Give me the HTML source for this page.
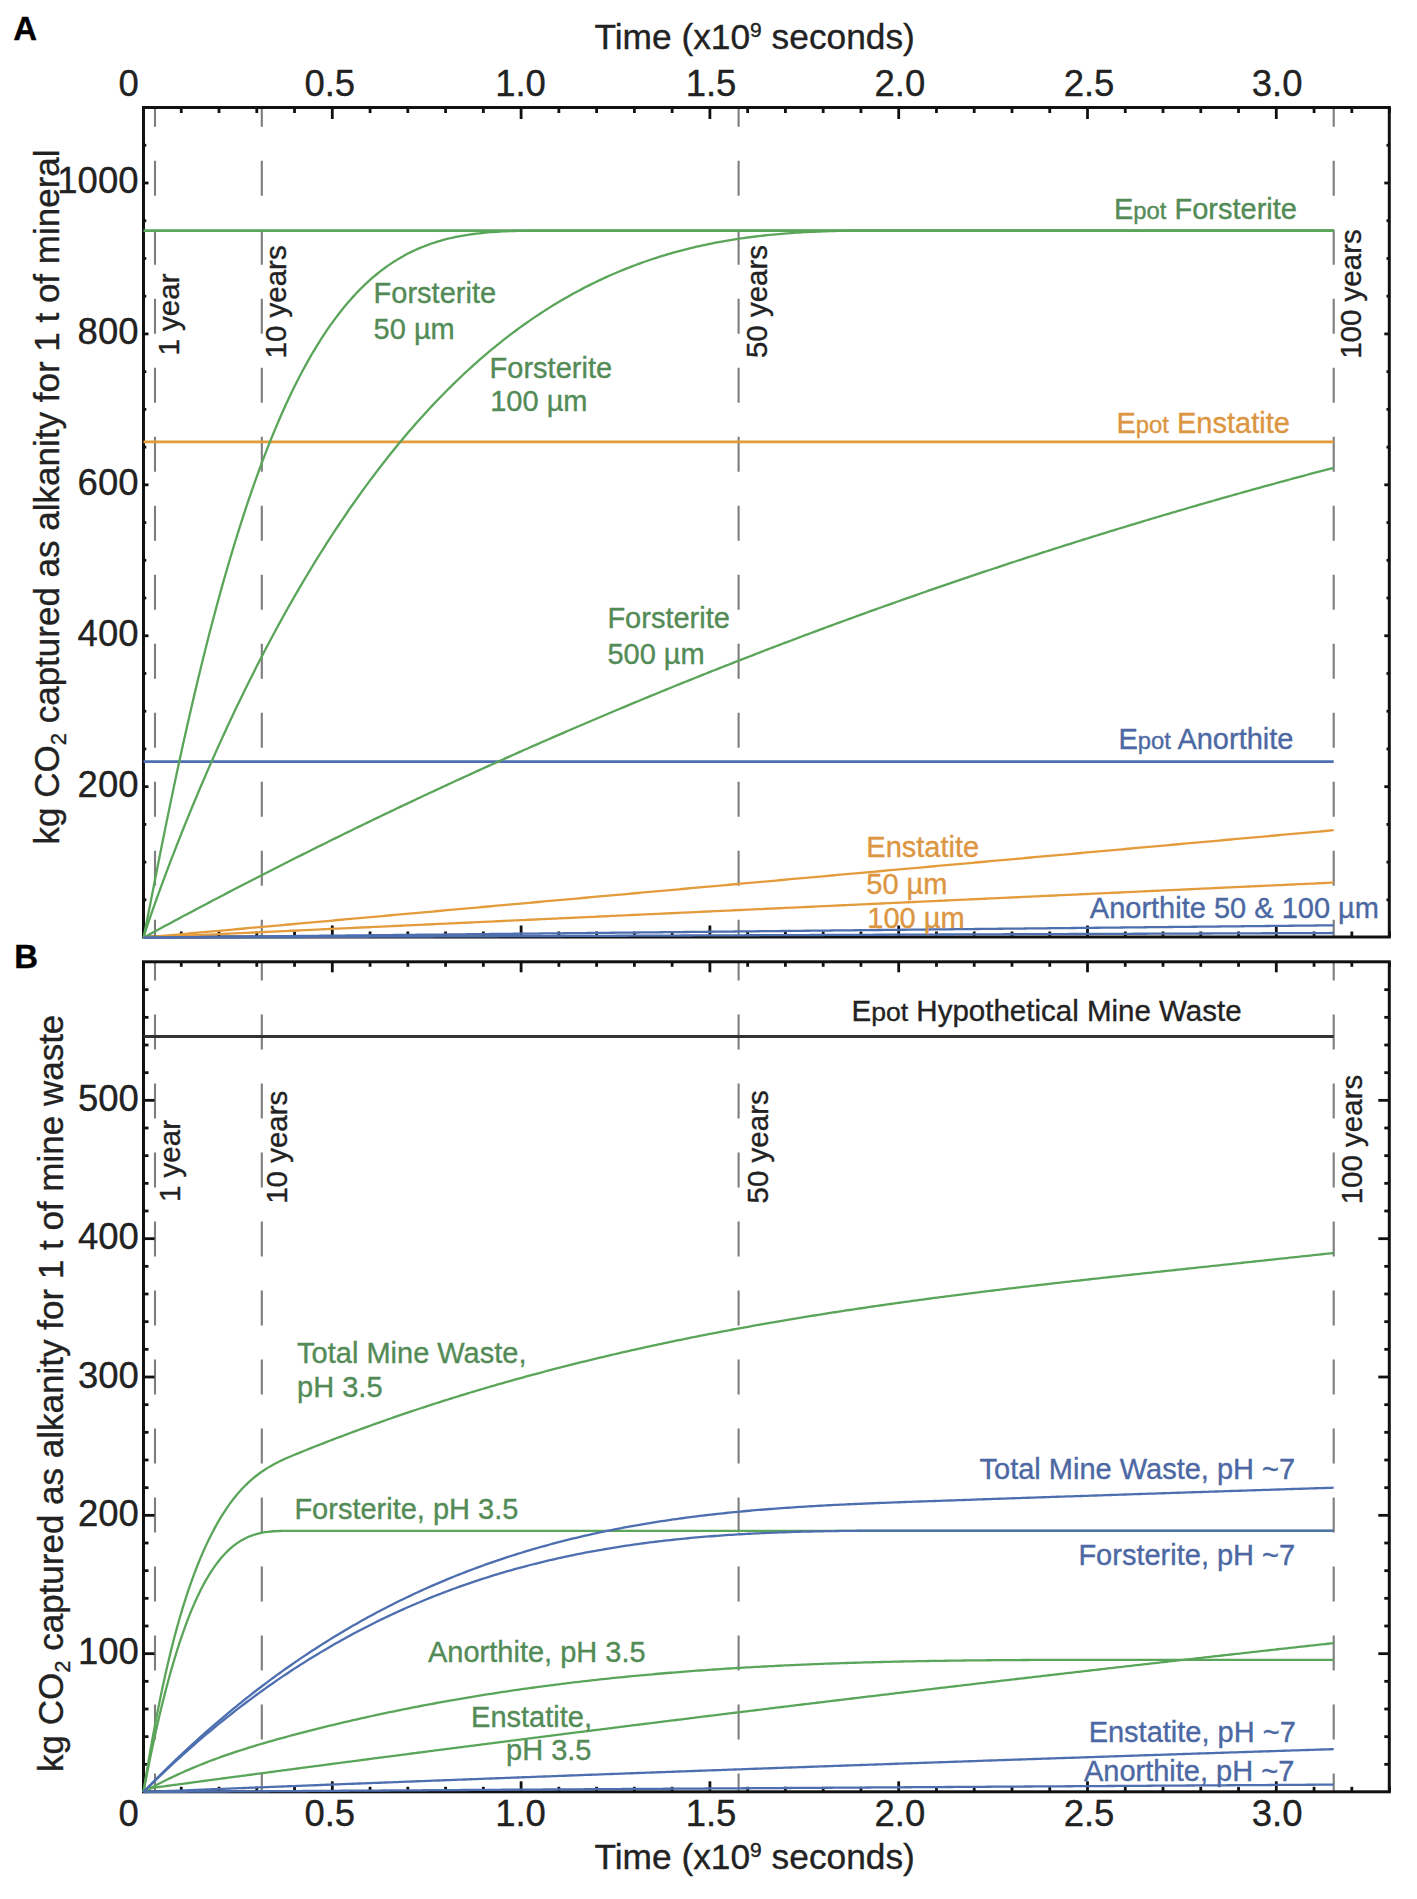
<!DOCTYPE html>
<html><head><meta charset="utf-8"><title>chart</title>
<style>html,body{margin:0;padding:0;background:#fff;} svg{display:block;} text{font-family:"Liberation Sans", sans-serif;}</style>
</head><body>
<svg width="1417" height="1899" viewBox="0 0 1417 1899">
<rect x="0" y="0" width="1417" height="1899" fill="#fff"/>
<line x1="155.00" y1="107.5" x2="155.00" y2="937.0" stroke="#7d7d7d" stroke-width="2.1" stroke-dasharray="35 34" stroke-dashoffset="15.700000000000003"/>
<line x1="261.80" y1="107.5" x2="261.80" y2="937.0" stroke="#7d7d7d" stroke-width="2.1" stroke-dasharray="35 34" stroke-dashoffset="15.700000000000003"/>
<line x1="738.60" y1="107.5" x2="738.60" y2="937.0" stroke="#7d7d7d" stroke-width="2.1" stroke-dasharray="35 34" stroke-dashoffset="15.700000000000003"/>
<line x1="1333.70" y1="107.5" x2="1333.70" y2="937.0" stroke="#7d7d7d" stroke-width="2.1" stroke-dasharray="35 34" stroke-dashoffset="15.700000000000003"/>
<rect x="143.5" y="107.5" width="1245.8" height="829.5" fill="none" stroke="#111111" stroke-width="3"/>
<line x1="143.50" y1="107.5" x2="143.50" y2="119.0" stroke="#111111" stroke-width="2.8"/>
<line x1="143.50" y1="937.0" x2="143.50" y2="925.5" stroke="#111111" stroke-width="2.8"/>
<line x1="181.26" y1="107.5" x2="181.26" y2="113.0" stroke="#111111" stroke-width="2.8"/>
<line x1="181.26" y1="937.0" x2="181.26" y2="931.5" stroke="#111111" stroke-width="2.8"/>
<line x1="219.02" y1="107.5" x2="219.02" y2="113.0" stroke="#111111" stroke-width="2.8"/>
<line x1="219.02" y1="937.0" x2="219.02" y2="931.5" stroke="#111111" stroke-width="2.8"/>
<line x1="256.78" y1="107.5" x2="256.78" y2="113.0" stroke="#111111" stroke-width="2.8"/>
<line x1="256.78" y1="937.0" x2="256.78" y2="931.5" stroke="#111111" stroke-width="2.8"/>
<line x1="294.54" y1="107.5" x2="294.54" y2="113.0" stroke="#111111" stroke-width="2.8"/>
<line x1="294.54" y1="937.0" x2="294.54" y2="931.5" stroke="#111111" stroke-width="2.8"/>
<line x1="332.30" y1="107.5" x2="332.30" y2="119.0" stroke="#111111" stroke-width="2.8"/>
<line x1="332.30" y1="937.0" x2="332.30" y2="925.5" stroke="#111111" stroke-width="2.8"/>
<line x1="370.06" y1="107.5" x2="370.06" y2="113.0" stroke="#111111" stroke-width="2.8"/>
<line x1="370.06" y1="937.0" x2="370.06" y2="931.5" stroke="#111111" stroke-width="2.8"/>
<line x1="407.82" y1="107.5" x2="407.82" y2="113.0" stroke="#111111" stroke-width="2.8"/>
<line x1="407.82" y1="937.0" x2="407.82" y2="931.5" stroke="#111111" stroke-width="2.8"/>
<line x1="445.58" y1="107.5" x2="445.58" y2="113.0" stroke="#111111" stroke-width="2.8"/>
<line x1="445.58" y1="937.0" x2="445.58" y2="931.5" stroke="#111111" stroke-width="2.8"/>
<line x1="483.34" y1="107.5" x2="483.34" y2="113.0" stroke="#111111" stroke-width="2.8"/>
<line x1="483.34" y1="937.0" x2="483.34" y2="931.5" stroke="#111111" stroke-width="2.8"/>
<line x1="521.10" y1="107.5" x2="521.10" y2="119.0" stroke="#111111" stroke-width="2.8"/>
<line x1="521.10" y1="937.0" x2="521.10" y2="925.5" stroke="#111111" stroke-width="2.8"/>
<line x1="558.86" y1="107.5" x2="558.86" y2="113.0" stroke="#111111" stroke-width="2.8"/>
<line x1="558.86" y1="937.0" x2="558.86" y2="931.5" stroke="#111111" stroke-width="2.8"/>
<line x1="596.62" y1="107.5" x2="596.62" y2="113.0" stroke="#111111" stroke-width="2.8"/>
<line x1="596.62" y1="937.0" x2="596.62" y2="931.5" stroke="#111111" stroke-width="2.8"/>
<line x1="634.38" y1="107.5" x2="634.38" y2="113.0" stroke="#111111" stroke-width="2.8"/>
<line x1="634.38" y1="937.0" x2="634.38" y2="931.5" stroke="#111111" stroke-width="2.8"/>
<line x1="672.14" y1="107.5" x2="672.14" y2="113.0" stroke="#111111" stroke-width="2.8"/>
<line x1="672.14" y1="937.0" x2="672.14" y2="931.5" stroke="#111111" stroke-width="2.8"/>
<line x1="709.90" y1="107.5" x2="709.90" y2="119.0" stroke="#111111" stroke-width="2.8"/>
<line x1="709.90" y1="937.0" x2="709.90" y2="925.5" stroke="#111111" stroke-width="2.8"/>
<line x1="747.66" y1="107.5" x2="747.66" y2="113.0" stroke="#111111" stroke-width="2.8"/>
<line x1="747.66" y1="937.0" x2="747.66" y2="931.5" stroke="#111111" stroke-width="2.8"/>
<line x1="785.42" y1="107.5" x2="785.42" y2="113.0" stroke="#111111" stroke-width="2.8"/>
<line x1="785.42" y1="937.0" x2="785.42" y2="931.5" stroke="#111111" stroke-width="2.8"/>
<line x1="823.18" y1="107.5" x2="823.18" y2="113.0" stroke="#111111" stroke-width="2.8"/>
<line x1="823.18" y1="937.0" x2="823.18" y2="931.5" stroke="#111111" stroke-width="2.8"/>
<line x1="860.94" y1="107.5" x2="860.94" y2="113.0" stroke="#111111" stroke-width="2.8"/>
<line x1="860.94" y1="937.0" x2="860.94" y2="931.5" stroke="#111111" stroke-width="2.8"/>
<line x1="898.70" y1="107.5" x2="898.70" y2="119.0" stroke="#111111" stroke-width="2.8"/>
<line x1="898.70" y1="937.0" x2="898.70" y2="925.5" stroke="#111111" stroke-width="2.8"/>
<line x1="936.46" y1="107.5" x2="936.46" y2="113.0" stroke="#111111" stroke-width="2.8"/>
<line x1="936.46" y1="937.0" x2="936.46" y2="931.5" stroke="#111111" stroke-width="2.8"/>
<line x1="974.22" y1="107.5" x2="974.22" y2="113.0" stroke="#111111" stroke-width="2.8"/>
<line x1="974.22" y1="937.0" x2="974.22" y2="931.5" stroke="#111111" stroke-width="2.8"/>
<line x1="1011.98" y1="107.5" x2="1011.98" y2="113.0" stroke="#111111" stroke-width="2.8"/>
<line x1="1011.98" y1="937.0" x2="1011.98" y2="931.5" stroke="#111111" stroke-width="2.8"/>
<line x1="1049.74" y1="107.5" x2="1049.74" y2="113.0" stroke="#111111" stroke-width="2.8"/>
<line x1="1049.74" y1="937.0" x2="1049.74" y2="931.5" stroke="#111111" stroke-width="2.8"/>
<line x1="1087.50" y1="107.5" x2="1087.50" y2="119.0" stroke="#111111" stroke-width="2.8"/>
<line x1="1087.50" y1="937.0" x2="1087.50" y2="925.5" stroke="#111111" stroke-width="2.8"/>
<line x1="1125.26" y1="107.5" x2="1125.26" y2="113.0" stroke="#111111" stroke-width="2.8"/>
<line x1="1125.26" y1="937.0" x2="1125.26" y2="931.5" stroke="#111111" stroke-width="2.8"/>
<line x1="1163.02" y1="107.5" x2="1163.02" y2="113.0" stroke="#111111" stroke-width="2.8"/>
<line x1="1163.02" y1="937.0" x2="1163.02" y2="931.5" stroke="#111111" stroke-width="2.8"/>
<line x1="1200.78" y1="107.5" x2="1200.78" y2="113.0" stroke="#111111" stroke-width="2.8"/>
<line x1="1200.78" y1="937.0" x2="1200.78" y2="931.5" stroke="#111111" stroke-width="2.8"/>
<line x1="1238.54" y1="107.5" x2="1238.54" y2="113.0" stroke="#111111" stroke-width="2.8"/>
<line x1="1238.54" y1="937.0" x2="1238.54" y2="931.5" stroke="#111111" stroke-width="2.8"/>
<line x1="1276.30" y1="107.5" x2="1276.30" y2="119.0" stroke="#111111" stroke-width="2.8"/>
<line x1="1276.30" y1="937.0" x2="1276.30" y2="925.5" stroke="#111111" stroke-width="2.8"/>
<line x1="1314.06" y1="107.5" x2="1314.06" y2="113.0" stroke="#111111" stroke-width="2.8"/>
<line x1="1314.06" y1="937.0" x2="1314.06" y2="931.5" stroke="#111111" stroke-width="2.8"/>
<line x1="1351.82" y1="107.5" x2="1351.82" y2="113.0" stroke="#111111" stroke-width="2.8"/>
<line x1="1351.82" y1="937.0" x2="1351.82" y2="931.5" stroke="#111111" stroke-width="2.8"/>
<line x1="1389.58" y1="107.5" x2="1389.58" y2="113.0" stroke="#111111" stroke-width="2.8"/>
<line x1="1389.58" y1="937.0" x2="1389.58" y2="931.5" stroke="#111111" stroke-width="2.8"/>
<line x1="143.5" y1="899.87" x2="146.3" y2="899.87" stroke="#111111" stroke-width="2.8"/>
<line x1="1389.3" y1="899.87" x2="1386.5" y2="899.87" stroke="#111111" stroke-width="2.8"/>
<line x1="143.5" y1="862.14" x2="146.3" y2="862.14" stroke="#111111" stroke-width="2.8"/>
<line x1="1389.3" y1="862.14" x2="1386.5" y2="862.14" stroke="#111111" stroke-width="2.8"/>
<line x1="143.5" y1="824.41" x2="146.3" y2="824.41" stroke="#111111" stroke-width="2.8"/>
<line x1="1389.3" y1="824.41" x2="1386.5" y2="824.41" stroke="#111111" stroke-width="2.8"/>
<line x1="143.5" y1="786.68" x2="148.5" y2="786.68" stroke="#111111" stroke-width="2.8"/>
<line x1="1389.3" y1="786.68" x2="1384.3" y2="786.68" stroke="#111111" stroke-width="2.8"/>
<line x1="143.5" y1="748.95" x2="146.3" y2="748.95" stroke="#111111" stroke-width="2.8"/>
<line x1="1389.3" y1="748.95" x2="1386.5" y2="748.95" stroke="#111111" stroke-width="2.8"/>
<line x1="143.5" y1="711.22" x2="146.3" y2="711.22" stroke="#111111" stroke-width="2.8"/>
<line x1="1389.3" y1="711.22" x2="1386.5" y2="711.22" stroke="#111111" stroke-width="2.8"/>
<line x1="143.5" y1="673.49" x2="146.3" y2="673.49" stroke="#111111" stroke-width="2.8"/>
<line x1="1389.3" y1="673.49" x2="1386.5" y2="673.49" stroke="#111111" stroke-width="2.8"/>
<line x1="143.5" y1="635.76" x2="148.5" y2="635.76" stroke="#111111" stroke-width="2.8"/>
<line x1="1389.3" y1="635.76" x2="1384.3" y2="635.76" stroke="#111111" stroke-width="2.8"/>
<line x1="143.5" y1="598.03" x2="146.3" y2="598.03" stroke="#111111" stroke-width="2.8"/>
<line x1="1389.3" y1="598.03" x2="1386.5" y2="598.03" stroke="#111111" stroke-width="2.8"/>
<line x1="143.5" y1="560.30" x2="146.3" y2="560.30" stroke="#111111" stroke-width="2.8"/>
<line x1="1389.3" y1="560.30" x2="1386.5" y2="560.30" stroke="#111111" stroke-width="2.8"/>
<line x1="143.5" y1="522.57" x2="146.3" y2="522.57" stroke="#111111" stroke-width="2.8"/>
<line x1="1389.3" y1="522.57" x2="1386.5" y2="522.57" stroke="#111111" stroke-width="2.8"/>
<line x1="143.5" y1="484.84" x2="148.5" y2="484.84" stroke="#111111" stroke-width="2.8"/>
<line x1="1389.3" y1="484.84" x2="1384.3" y2="484.84" stroke="#111111" stroke-width="2.8"/>
<line x1="143.5" y1="447.11" x2="146.3" y2="447.11" stroke="#111111" stroke-width="2.8"/>
<line x1="1389.3" y1="447.11" x2="1386.5" y2="447.11" stroke="#111111" stroke-width="2.8"/>
<line x1="143.5" y1="409.38" x2="146.3" y2="409.38" stroke="#111111" stroke-width="2.8"/>
<line x1="1389.3" y1="409.38" x2="1386.5" y2="409.38" stroke="#111111" stroke-width="2.8"/>
<line x1="143.5" y1="371.65" x2="146.3" y2="371.65" stroke="#111111" stroke-width="2.8"/>
<line x1="1389.3" y1="371.65" x2="1386.5" y2="371.65" stroke="#111111" stroke-width="2.8"/>
<line x1="143.5" y1="333.92" x2="148.5" y2="333.92" stroke="#111111" stroke-width="2.8"/>
<line x1="1389.3" y1="333.92" x2="1384.3" y2="333.92" stroke="#111111" stroke-width="2.8"/>
<line x1="143.5" y1="296.19" x2="146.3" y2="296.19" stroke="#111111" stroke-width="2.8"/>
<line x1="1389.3" y1="296.19" x2="1386.5" y2="296.19" stroke="#111111" stroke-width="2.8"/>
<line x1="143.5" y1="258.46" x2="146.3" y2="258.46" stroke="#111111" stroke-width="2.8"/>
<line x1="1389.3" y1="258.46" x2="1386.5" y2="258.46" stroke="#111111" stroke-width="2.8"/>
<line x1="143.5" y1="220.73" x2="146.3" y2="220.73" stroke="#111111" stroke-width="2.8"/>
<line x1="1389.3" y1="220.73" x2="1386.5" y2="220.73" stroke="#111111" stroke-width="2.8"/>
<line x1="143.5" y1="183.00" x2="148.5" y2="183.00" stroke="#111111" stroke-width="2.8"/>
<line x1="1389.3" y1="183.00" x2="1384.3" y2="183.00" stroke="#111111" stroke-width="2.8"/>
<line x1="143.5" y1="145.27" x2="146.3" y2="145.27" stroke="#111111" stroke-width="2.8"/>
<line x1="1389.3" y1="145.27" x2="1386.5" y2="145.27" stroke="#111111" stroke-width="2.8"/>
<line x1="143.5" y1="230.54" x2="1333.7" y2="230.54" stroke="#5aa55a" stroke-width="2.7"/>
<line x1="143.5" y1="441.90" x2="1333.7" y2="441.90" stroke="#e39b3c" stroke-width="2.7"/>
<line x1="143.5" y1="761.55" x2="1333.7" y2="761.55" stroke="#4d6fb0" stroke-width="2.7"/>
<path d="M143.50,937.60 L143.82,936.18 L144.14,934.68 L144.46,933.14 L144.78,931.59 L145.10,930.02 L145.42,928.44 L145.74,926.85 L146.06,925.25 L146.38,923.65 L146.70,922.04 L147.02,920.43 L147.34,918.81 L147.66,917.19 L147.98,915.57 L148.30,913.94 L148.62,912.32 L148.94,910.69 L149.26,909.06 L149.58,907.43 L149.90,905.80 L150.22,904.17 L150.54,902.54 L150.86,900.90 L151.18,899.27 L151.50,897.64 L151.82,896.01 L152.14,894.37 L152.46,892.74 L152.78,891.11 L153.10,889.48 L153.42,887.85 L153.74,886.22 L154.06,884.59 L154.38,882.96 L154.70,881.33 L155.02,879.71 L155.34,878.08 L155.66,876.46 L155.98,874.83 L156.30,873.21 L156.62,871.59 L156.94,869.97 L157.26,868.35 L157.58,866.74 L157.90,865.12 L158.22,863.51 L158.54,861.89 L158.86,860.28 L159.18,858.67 L159.50,857.06 L159.82,855.46 L160.14,853.85 L160.46,852.25 L160.78,850.65 L161.10,849.05 L161.42,847.45 L161.74,845.85 L162.06,844.26 L162.38,842.67 L162.38,842.67 L165.32,828.14 L168.25,813.79 L171.19,799.61 L174.12,785.62 L177.06,771.83 L179.99,758.24 L182.93,744.85 L185.87,731.66 L188.80,718.69 L191.74,705.92 L194.67,693.37 L197.61,681.03 L200.54,668.90 L203.48,656.98 L206.41,645.28 L209.35,633.78 L212.29,622.50 L215.22,611.43 L218.16,600.57 L221.09,589.92 L224.03,579.47 L226.96,569.23 L229.90,559.20 L232.84,549.37 L235.77,539.74 L238.71,530.31 L241.64,521.08 L244.58,512.04 L247.51,503.20 L250.45,494.56 L253.38,486.10 L256.32,477.83 L259.26,469.75 L262.19,461.85 L265.13,454.14 L268.06,446.61 L271.00,439.25 L273.93,432.08 L276.87,425.07 L279.81,418.24 L282.74,411.58 L285.68,405.08 L288.61,398.75 L291.55,392.59 L294.48,386.58 L297.42,380.73 L300.36,375.04 L303.29,369.50 L306.23,364.12 L309.16,358.88 L312.10,353.79 L315.03,348.84 L317.97,344.04 L320.90,339.38 L323.84,334.85 L326.78,330.46 L329.71,326.20 L332.65,322.07 L335.58,318.07 L338.52,314.20 L341.45,310.45 L344.39,306.82 L347.33,303.31 L350.26,299.91 L353.20,296.63 L356.13,293.47 L359.07,290.41 L362.00,287.46 L364.94,284.62 L367.87,281.87 L370.81,279.23 L373.75,276.69 L376.68,274.25 L379.62,271.89 L382.55,269.63 L385.49,267.47 L388.42,265.38 L391.36,263.39 L394.30,261.47 L397.23,259.64 L400.17,257.89 L403.10,256.21 L406.04,254.61 L408.97,253.09 L411.91,251.63 L414.84,250.24 L417.78,248.92 L420.72,247.66 L423.65,246.47 L426.59,245.34 L429.52,244.27 L432.46,243.25 L435.39,242.29 L438.33,241.38 L441.27,240.53 L444.20,239.72 L447.14,238.96 L450.07,238.25 L453.01,237.58 L455.94,236.96 L458.88,236.38 L461.82,235.83 L464.75,235.33 L467.69,234.85 L470.62,234.42 L473.56,234.01 L476.49,233.64 L479.43,233.30 L482.36,232.99 L485.30,232.70 L488.24,232.44 L491.17,232.20 L494.11,231.98 L497.04,231.79 L499.98,231.61 L502.91,231.45 L505.85,231.32 L508.79,231.19 L511.72,231.08 L514.66,230.99 L517.59,230.91 L520.53,230.84 L523.46,230.78 L526.40,230.72 L529.33,230.68 L532.27,230.65 L535.21,230.62 L538.14,230.60 L541.08,230.58 L544.01,230.57 L546.95,230.56 L549.88,230.55 L552.82,230.55 L555.76,230.54 L558.69,230.54 L561.63,230.54 L564.56,230.54 L567.50,230.54 L570.43,230.54 L573.37,230.54 L576.31,230.54 L579.24,230.54 L582.18,230.54 L585.11,230.54 L588.05,230.54 L590.98,230.54 L593.92,230.54 L596.85,230.54 L599.79,230.54 L602.73,230.54 L605.66,230.54 L608.60,230.54 L611.53,230.54 L614.47,230.54 L617.40,230.54 L620.34,230.54 L623.28,230.54 L626.21,230.54 L629.15,230.54 L632.08,230.54 L635.02,230.54 L637.95,230.54 L640.89,230.54 L643.82,230.54 L646.76,230.54 L649.70,230.54 L652.63,230.54 L655.57,230.54 L658.50,230.54 L661.44,230.54 L664.37,230.54 L667.31,230.54 L670.25,230.54 L673.18,230.54 L676.12,230.54 L679.05,230.54 L681.99,230.54 L684.92,230.54 L687.86,230.54 L690.80,230.54 L693.73,230.54 L696.67,230.54 L699.60,230.54 L702.54,230.54 L705.47,230.54 L708.41,230.54 L711.34,230.54 L714.28,230.54 L717.22,230.54 L720.15,230.54 L723.09,230.54 L726.02,230.54 L728.96,230.54 L731.89,230.54 L734.83,230.54 L737.77,230.54 L740.70,230.54 L743.64,230.54 L746.57,230.54 L749.51,230.54 L752.44,230.54 L755.38,230.54 L758.31,230.54 L761.25,230.54 L764.19,230.54 L767.12,230.54 L770.06,230.54 L772.99,230.54 L775.93,230.54 L778.86,230.54 L781.80,230.54 L784.74,230.54 L787.67,230.54 L790.61,230.54 L793.54,230.54 L796.48,230.54 L799.41,230.54 L802.35,230.54 L805.28,230.54 L808.22,230.54 L811.16,230.54 L814.09,230.54 L817.03,230.54 L819.96,230.54 L822.90,230.54 L825.83,230.54 L828.77,230.54 L831.71,230.54 L834.64,230.54 L837.58,230.54 L840.51,230.54 L843.45,230.54 L846.38,230.54 L849.32,230.54 L852.26,230.54 L855.19,230.54 L858.13,230.54 L861.06,230.54 L864.00,230.54 L866.93,230.54 L869.87,230.54 L872.80,230.54 L875.74,230.54 L878.68,230.54 L881.61,230.54 L884.55,230.54 L887.48,230.54 L890.42,230.54 L893.35,230.54 L896.29,230.54 L899.23,230.54 L902.16,230.54 L905.10,230.54 L908.03,230.54 L910.97,230.54 L913.90,230.54 L916.84,230.54 L919.77,230.54 L922.71,230.54 L925.65,230.54 L928.58,230.54 L931.52,230.54 L934.45,230.54 L937.39,230.54 L940.32,230.54 L943.26,230.54 L946.20,230.54 L949.13,230.54 L952.07,230.54 L955.00,230.54 L957.94,230.54 L960.87,230.54 L963.81,230.54 L966.75,230.54 L969.68,230.54 L972.62,230.54 L975.55,230.54 L978.49,230.54 L981.42,230.54 L984.36,230.54 L987.29,230.54 L990.23,230.54 L993.17,230.54 L996.10,230.54 L999.04,230.54 L1001.97,230.54 L1004.91,230.54 L1007.84,230.54 L1010.78,230.54 L1013.72,230.54 L1016.65,230.54 L1019.59,230.54 L1022.52,230.54 L1025.46,230.54 L1028.39,230.54 L1031.33,230.54 L1034.26,230.54 L1037.20,230.54 L1040.14,230.54 L1043.07,230.54 L1046.01,230.54 L1048.94,230.54 L1051.88,230.54 L1054.81,230.54 L1057.75,230.54 L1060.69,230.54 L1063.62,230.54 L1066.56,230.54 L1069.49,230.54 L1072.43,230.54 L1075.36,230.54 L1078.30,230.54 L1081.24,230.54 L1084.17,230.54 L1087.11,230.54 L1090.04,230.54 L1092.98,230.54 L1095.91,230.54 L1098.85,230.54 L1101.78,230.54 L1104.72,230.54 L1107.66,230.54 L1110.59,230.54 L1113.53,230.54 L1116.46,230.54 L1119.40,230.54 L1122.33,230.54 L1125.27,230.54 L1128.21,230.54 L1131.14,230.54 L1134.08,230.54 L1137.01,230.54 L1139.95,230.54 L1142.88,230.54 L1145.82,230.54 L1148.75,230.54 L1151.69,230.54 L1154.63,230.54 L1157.56,230.54 L1160.50,230.54 L1163.43,230.54 L1166.37,230.54 L1169.30,230.54 L1172.24,230.54 L1175.18,230.54 L1178.11,230.54 L1181.05,230.54 L1183.98,230.54 L1186.92,230.54 L1189.85,230.54 L1192.79,230.54 L1195.72,230.54 L1198.66,230.54 L1201.60,230.54 L1204.53,230.54 L1207.47,230.54 L1210.40,230.54 L1213.34,230.54 L1216.27,230.54 L1219.21,230.54 L1222.15,230.54 L1225.08,230.54 L1228.02,230.54 L1230.95,230.54 L1233.89,230.54 L1236.82,230.54 L1239.76,230.54 L1242.70,230.54 L1245.63,230.54 L1248.57,230.54 L1251.50,230.54 L1254.44,230.54 L1257.37,230.54 L1260.31,230.54 L1263.24,230.54 L1266.18,230.54 L1269.12,230.54 L1272.05,230.54 L1274.99,230.54 L1277.92,230.54 L1280.86,230.54 L1283.79,230.54 L1286.73,230.54 L1289.67,230.54 L1292.60,230.54 L1295.54,230.54 L1298.47,230.54 L1301.41,230.54 L1304.34,230.54 L1307.28,230.54 L1310.21,230.54 L1313.15,230.54 L1316.09,230.54 L1319.02,230.54 L1321.96,230.54 L1324.89,230.54 L1327.83,230.54 L1330.76,230.54 L1333.70,230.54" fill="none" stroke="#5aa55a" stroke-width="2.3" stroke-linejoin="round"/>
<path d="M143.50,937.60 L143.82,936.50 L144.14,935.45 L144.46,934.43 L144.78,933.41 L145.10,932.41 L145.42,931.42 L145.74,930.44 L146.06,929.46 L146.38,928.49 L146.70,927.52 L147.02,926.55 L147.34,925.59 L147.66,924.64 L147.98,923.69 L148.30,922.74 L148.62,921.79 L148.94,920.85 L149.26,919.91 L149.58,918.97 L149.90,918.04 L150.22,917.10 L150.54,916.18 L150.86,915.25 L151.18,914.32 L151.50,913.40 L151.82,912.48 L152.14,911.56 L152.46,910.65 L152.78,909.73 L153.10,908.82 L153.42,907.91 L153.74,907.00 L154.06,906.09 L154.38,905.19 L154.70,904.29 L155.02,903.39 L155.34,902.49 L155.66,901.59 L155.98,900.69 L156.30,899.80 L156.62,898.90 L156.94,898.01 L157.26,897.12 L157.58,896.23 L157.90,895.35 L158.22,894.46 L158.54,893.58 L158.86,892.70 L159.18,891.82 L159.50,890.94 L159.82,890.06 L160.14,889.18 L160.46,888.30 L160.78,887.43 L161.10,886.56 L161.42,885.69 L161.74,884.82 L162.06,883.95 L162.38,883.08 L162.38,883.08 L165.32,875.18 L168.25,867.38 L171.19,859.67 L174.12,852.06 L177.06,844.53 L179.99,837.08 L182.93,829.71 L185.87,822.42 L188.80,815.20 L191.74,808.06 L194.67,800.99 L197.61,793.98 L200.54,787.05 L203.48,780.18 L206.41,773.38 L209.35,766.65 L212.29,759.98 L215.22,753.37 L218.16,746.83 L221.09,740.35 L224.03,733.92 L226.96,727.56 L229.90,721.26 L232.84,715.01 L235.77,708.83 L238.71,702.70 L241.64,696.63 L244.58,690.61 L247.51,684.65 L250.45,678.75 L253.38,672.90 L256.32,667.10 L259.26,661.36 L262.19,655.67 L265.13,650.04 L268.06,644.46 L271.00,638.93 L273.93,633.45 L276.87,628.02 L279.81,622.64 L282.74,617.32 L285.68,612.04 L288.61,606.81 L291.55,601.64 L294.48,596.51 L297.42,591.43 L300.36,586.40 L303.29,581.41 L306.23,576.48 L309.16,571.59 L312.10,566.75 L315.03,561.96 L317.97,557.21 L320.90,552.51 L323.84,547.85 L326.78,543.24 L329.71,538.68 L332.65,534.16 L335.58,529.68 L338.52,525.25 L341.45,520.87 L344.39,516.52 L347.33,512.23 L350.26,507.97 L353.20,503.76 L356.13,499.59 L359.07,495.46 L362.00,491.38 L364.94,487.33 L367.87,483.33 L370.81,479.37 L373.75,475.46 L376.68,471.58 L379.62,467.74 L382.55,463.95 L385.49,460.19 L388.42,456.48 L391.36,452.80 L394.30,449.17 L397.23,445.57 L400.17,442.01 L403.10,438.50 L406.04,435.02 L408.97,431.58 L411.91,428.17 L414.84,424.81 L417.78,421.48 L420.72,418.19 L423.65,414.94 L426.59,411.73 L429.52,408.55 L432.46,405.41 L435.39,402.30 L438.33,399.23 L441.27,396.20 L444.20,393.20 L447.14,390.24 L450.07,387.32 L453.01,384.43 L455.94,381.57 L458.88,378.75 L461.82,375.96 L464.75,373.21 L467.69,370.49 L470.62,367.81 L473.56,365.16 L476.49,362.54 L479.43,359.96 L482.36,357.40 L485.30,354.89 L488.24,352.40 L491.17,349.95 L494.11,347.53 L497.04,345.14 L499.98,342.78 L502.91,340.46 L505.85,338.16 L508.79,335.90 L511.72,333.67 L514.66,331.47 L517.59,329.29 L520.53,327.15 L523.46,325.04 L526.40,322.96 L529.33,320.91 L532.27,318.89 L535.21,316.90 L538.14,314.94 L541.08,313.01 L544.01,311.10 L546.95,309.23 L549.88,307.38 L552.82,305.56 L555.76,303.77 L558.69,302.00 L561.63,300.27 L564.56,298.56 L567.50,296.88 L570.43,295.22 L573.37,293.59 L576.31,291.99 L579.24,290.42 L582.18,288.87 L585.11,287.34 L588.05,285.85 L590.98,284.38 L593.92,282.93 L596.85,281.51 L599.79,280.11 L602.73,278.74 L605.66,277.39 L608.60,276.07 L611.53,274.77 L614.47,273.50 L617.40,272.25 L620.34,271.02 L623.28,269.82 L626.21,268.63 L629.15,267.48 L632.08,266.34 L635.02,265.23 L637.95,264.14 L640.89,263.07 L643.82,262.02 L646.76,261.00 L649.70,260.00 L652.63,259.02 L655.57,258.06 L658.50,257.12 L661.44,256.20 L664.37,255.30 L667.31,254.42 L670.25,253.56 L673.18,252.73 L676.12,251.91 L679.05,251.11 L681.99,250.33 L684.92,249.57 L687.86,248.83 L690.80,248.11 L693.73,247.40 L696.67,246.72 L699.60,246.05 L702.54,245.40 L705.47,244.77 L708.41,244.15 L711.34,243.55 L714.28,242.97 L717.22,242.41 L720.15,241.86 L723.09,241.33 L726.02,240.81 L728.96,240.31 L731.89,239.83 L734.83,239.36 L737.77,238.91 L740.70,238.47 L743.64,238.05 L746.57,237.64 L749.51,237.25 L752.44,236.87 L755.38,236.50 L758.31,236.15 L761.25,235.81 L764.19,235.49 L767.12,235.17 L770.06,234.87 L772.99,234.59 L775.93,234.31 L778.86,234.05 L781.80,233.80 L784.74,233.56 L787.67,233.33 L790.61,233.12 L793.54,232.91 L796.48,232.72 L799.41,232.53 L802.35,232.36 L805.28,232.19 L808.22,232.04 L811.16,231.90 L814.09,231.76 L817.03,231.63 L819.96,231.51 L822.90,231.41 L825.83,231.30 L828.77,231.21 L831.71,231.12 L834.64,231.05 L837.58,230.97 L840.51,230.91 L843.45,230.85 L846.38,230.80 L849.32,230.75 L852.26,230.71 L855.19,230.68 L858.13,230.65 L861.06,230.62 L864.00,230.60 L866.93,230.58 L869.87,230.57 L872.80,230.56 L875.74,230.55 L878.68,230.54 L881.61,230.54 L884.55,230.54 L887.48,230.54 L890.42,230.54 L893.35,230.54 L896.29,230.54 L899.23,230.54 L902.16,230.54 L905.10,230.54 L908.03,230.54 L910.97,230.54 L913.90,230.54 L916.84,230.54 L919.77,230.54 L922.71,230.54 L925.65,230.54 L928.58,230.54 L931.52,230.54 L934.45,230.54 L937.39,230.54 L940.32,230.54 L943.26,230.54 L946.20,230.54 L949.13,230.54 L952.07,230.54 L955.00,230.54 L957.94,230.54 L960.87,230.54 L963.81,230.54 L966.75,230.54 L969.68,230.54 L972.62,230.54 L975.55,230.54 L978.49,230.54 L981.42,230.54 L984.36,230.54 L987.29,230.54 L990.23,230.54 L993.17,230.54 L996.10,230.54 L999.04,230.54 L1001.97,230.54 L1004.91,230.54 L1007.84,230.54 L1010.78,230.54 L1013.72,230.54 L1016.65,230.54 L1019.59,230.54 L1022.52,230.54 L1025.46,230.54 L1028.39,230.54 L1031.33,230.54 L1034.26,230.54 L1037.20,230.54 L1040.14,230.54 L1043.07,230.54 L1046.01,230.54 L1048.94,230.54 L1051.88,230.54 L1054.81,230.54 L1057.75,230.54 L1060.69,230.54 L1063.62,230.54 L1066.56,230.54 L1069.49,230.54 L1072.43,230.54 L1075.36,230.54 L1078.30,230.54 L1081.24,230.54 L1084.17,230.54 L1087.11,230.54 L1090.04,230.54 L1092.98,230.54 L1095.91,230.54 L1098.85,230.54 L1101.78,230.54 L1104.72,230.54 L1107.66,230.54 L1110.59,230.54 L1113.53,230.54 L1116.46,230.54 L1119.40,230.54 L1122.33,230.54 L1125.27,230.54 L1128.21,230.54 L1131.14,230.54 L1134.08,230.54 L1137.01,230.54 L1139.95,230.54 L1142.88,230.54 L1145.82,230.54 L1148.75,230.54 L1151.69,230.54 L1154.63,230.54 L1157.56,230.54 L1160.50,230.54 L1163.43,230.54 L1166.37,230.54 L1169.30,230.54 L1172.24,230.54 L1175.18,230.54 L1178.11,230.54 L1181.05,230.54 L1183.98,230.54 L1186.92,230.54 L1189.85,230.54 L1192.79,230.54 L1195.72,230.54 L1198.66,230.54 L1201.60,230.54 L1204.53,230.54 L1207.47,230.54 L1210.40,230.54 L1213.34,230.54 L1216.27,230.54 L1219.21,230.54 L1222.15,230.54 L1225.08,230.54 L1228.02,230.54 L1230.95,230.54 L1233.89,230.54 L1236.82,230.54 L1239.76,230.54 L1242.70,230.54 L1245.63,230.54 L1248.57,230.54 L1251.50,230.54 L1254.44,230.54 L1257.37,230.54 L1260.31,230.54 L1263.24,230.54 L1266.18,230.54 L1269.12,230.54 L1272.05,230.54 L1274.99,230.54 L1277.92,230.54 L1280.86,230.54 L1283.79,230.54 L1286.73,230.54 L1289.67,230.54 L1292.60,230.54 L1295.54,230.54 L1298.47,230.54 L1301.41,230.54 L1304.34,230.54 L1307.28,230.54 L1310.21,230.54 L1313.15,230.54 L1316.09,230.54 L1319.02,230.54 L1321.96,230.54 L1324.89,230.54 L1327.83,230.54 L1330.76,230.54 L1333.70,230.54" fill="none" stroke="#5aa55a" stroke-width="2.3" stroke-linejoin="round"/>
<path d="M143.50,937.60 L143.82,937.43 L144.14,937.25 L144.46,937.08 L144.78,936.90 L145.10,936.73 L145.42,936.56 L145.74,936.38 L146.06,936.21 L146.38,936.03 L146.70,935.86 L147.02,935.69 L147.34,935.51 L147.66,935.34 L147.98,935.16 L148.30,934.99 L148.62,934.82 L148.94,934.64 L149.26,934.47 L149.58,934.30 L149.90,934.12 L150.22,933.95 L150.54,933.77 L150.86,933.60 L151.18,933.43 L151.50,933.25 L151.82,933.08 L152.14,932.91 L152.46,932.73 L152.78,932.56 L153.10,932.39 L153.42,932.21 L153.74,932.04 L154.06,931.87 L154.38,931.69 L154.70,931.52 L155.02,931.35 L155.34,931.17 L155.66,931.00 L155.98,930.83 L156.30,930.66 L156.62,930.48 L156.94,930.31 L157.26,930.14 L157.58,929.96 L157.90,929.79 L158.22,929.62 L158.54,929.44 L158.86,929.27 L159.18,929.10 L159.50,928.93 L159.82,928.75 L160.14,928.58 L160.46,928.41 L160.78,928.24 L161.10,928.06 L161.42,927.89 L161.74,927.72 L162.06,927.55 L162.38,927.37 L162.38,927.37 L165.32,925.79 L168.25,924.21 L171.19,922.64 L174.12,921.06 L177.06,919.49 L179.99,917.92 L182.93,916.35 L185.87,914.79 L188.80,913.23 L191.74,911.67 L194.67,910.11 L197.61,908.55 L200.54,907.00 L203.48,905.45 L206.41,903.90 L209.35,902.36 L212.29,900.82 L215.22,899.27 L218.16,897.74 L221.09,896.20 L224.03,894.67 L226.96,893.13 L229.90,891.61 L232.84,890.08 L235.77,888.56 L238.71,887.03 L241.64,885.51 L244.58,884.00 L247.51,882.48 L250.45,880.97 L253.38,879.46 L256.32,877.95 L259.26,876.45 L262.19,874.94 L265.13,873.44 L268.06,871.94 L271.00,870.45 L273.93,868.95 L276.87,867.46 L279.81,865.97 L282.74,864.49 L285.68,863.00 L288.61,861.52 L291.55,860.04 L294.48,858.56 L297.42,857.09 L300.36,855.61 L303.29,854.14 L306.23,852.68 L309.16,851.21 L312.10,849.75 L315.03,848.28 L317.97,846.83 L320.90,845.37 L323.84,843.91 L326.78,842.46 L329.71,841.01 L332.65,839.57 L335.58,838.12 L338.52,836.68 L341.45,835.24 L344.39,833.80 L347.33,832.36 L350.26,830.93 L353.20,829.50 L356.13,828.07 L359.07,826.64 L362.00,825.22 L364.94,823.79 L367.87,822.37 L370.81,820.96 L373.75,819.54 L376.68,818.13 L379.62,816.72 L382.55,815.31 L385.49,813.90 L388.42,812.50 L391.36,811.09 L394.30,809.70 L397.23,808.30 L400.17,806.90 L403.10,805.51 L406.04,804.12 L408.97,802.73 L411.91,801.34 L414.84,799.96 L417.78,798.58 L420.72,797.20 L423.65,795.82 L426.59,794.45 L429.52,793.07 L432.46,791.70 L435.39,790.34 L438.33,788.97 L441.27,787.61 L444.20,786.24 L447.14,784.88 L450.07,783.53 L453.01,782.17 L455.94,780.82 L458.88,779.47 L461.82,778.12 L464.75,776.78 L467.69,775.43 L470.62,774.09 L473.56,772.75 L476.49,771.41 L479.43,770.08 L482.36,768.75 L485.30,767.42 L488.24,766.09 L491.17,764.76 L494.11,763.44 L497.04,762.11 L499.98,760.80 L502.91,759.48 L505.85,758.16 L508.79,756.85 L511.72,755.54 L514.66,754.23 L517.59,752.92 L520.53,751.62 L523.46,750.32 L526.40,749.02 L529.33,747.72 L532.27,746.42 L535.21,745.13 L538.14,743.84 L541.08,742.55 L544.01,741.26 L546.95,739.98 L549.88,738.70 L552.82,737.42 L555.76,736.14 L558.69,734.86 L561.63,733.59 L564.56,732.32 L567.50,731.05 L570.43,729.78 L573.37,728.51 L576.31,727.25 L579.24,725.99 L582.18,724.73 L585.11,723.47 L588.05,722.22 L590.98,720.97 L593.92,719.72 L596.85,718.47 L599.79,717.22 L602.73,715.98 L605.66,714.74 L608.60,713.50 L611.53,712.26 L614.47,711.02 L617.40,709.79 L620.34,708.56 L623.28,707.33 L626.21,706.10 L629.15,704.88 L632.08,703.65 L635.02,702.43 L637.95,701.22 L640.89,700.00 L643.82,698.78 L646.76,697.57 L649.70,696.36 L652.63,695.15 L655.57,693.95 L658.50,692.74 L661.44,691.54 L664.37,690.34 L667.31,689.15 L670.25,687.95 L673.18,686.76 L676.12,685.56 L679.05,684.38 L681.99,683.19 L684.92,682.00 L687.86,680.82 L690.80,679.64 L693.73,678.46 L696.67,677.28 L699.60,676.11 L702.54,674.94 L705.47,673.77 L708.41,672.60 L711.34,671.43 L714.28,670.27 L717.22,669.10 L720.15,667.94 L723.09,666.79 L726.02,665.63 L728.96,664.48 L731.89,663.32 L734.83,662.17 L737.77,661.02 L740.70,659.88 L743.64,658.74 L746.57,657.59 L749.51,656.45 L752.44,655.32 L755.38,654.18 L758.31,653.05 L761.25,651.91 L764.19,650.78 L767.12,649.66 L770.06,648.53 L772.99,647.41 L775.93,646.29 L778.86,645.17 L781.80,644.05 L784.74,642.93 L787.67,641.82 L790.61,640.71 L793.54,639.60 L796.48,638.49 L799.41,637.39 L802.35,636.28 L805.28,635.18 L808.22,634.08 L811.16,632.98 L814.09,631.89 L817.03,630.80 L819.96,629.70 L822.90,628.61 L825.83,627.53 L828.77,626.44 L831.71,625.36 L834.64,624.28 L837.58,623.20 L840.51,622.12 L843.45,621.04 L846.38,619.97 L849.32,618.90 L852.26,617.83 L855.19,616.76 L858.13,615.70 L861.06,614.63 L864.00,613.57 L866.93,612.51 L869.87,611.45 L872.80,610.40 L875.74,609.34 L878.68,608.29 L881.61,607.24 L884.55,606.19 L887.48,605.15 L890.42,604.10 L893.35,603.06 L896.29,602.02 L899.23,600.98 L902.16,599.95 L905.10,598.91 L908.03,597.88 L910.97,596.85 L913.90,595.82 L916.84,594.79 L919.77,593.77 L922.71,592.75 L925.65,591.72 L928.58,590.71 L931.52,589.69 L934.45,588.67 L937.39,587.66 L940.32,586.65 L943.26,585.64 L946.20,584.63 L949.13,583.63 L952.07,582.62 L955.00,581.62 L957.94,580.62 L960.87,579.62 L963.81,578.63 L966.75,577.63 L969.68,576.64 L972.62,575.65 L975.55,574.66 L978.49,573.68 L981.42,572.69 L984.36,571.71 L987.29,570.73 L990.23,569.75 L993.17,568.77 L996.10,567.80 L999.04,566.82 L1001.97,565.85 L1004.91,564.88 L1007.84,563.92 L1010.78,562.95 L1013.72,561.99 L1016.65,561.03 L1019.59,560.06 L1022.52,559.11 L1025.46,558.15 L1028.39,557.20 L1031.33,556.24 L1034.26,555.29 L1037.20,554.34 L1040.14,553.40 L1043.07,552.45 L1046.01,551.51 L1048.94,550.57 L1051.88,549.63 L1054.81,548.69 L1057.75,547.75 L1060.69,546.82 L1063.62,545.89 L1066.56,544.96 L1069.49,544.03 L1072.43,543.10 L1075.36,542.18 L1078.30,541.25 L1081.24,540.33 L1084.17,539.41 L1087.11,538.49 L1090.04,537.58 L1092.98,536.67 L1095.91,535.75 L1098.85,534.84 L1101.78,533.93 L1104.72,533.03 L1107.66,532.12 L1110.59,531.22 L1113.53,530.32 L1116.46,529.42 L1119.40,528.52 L1122.33,527.63 L1125.27,526.73 L1128.21,525.84 L1131.14,524.95 L1134.08,524.06 L1137.01,523.17 L1139.95,522.29 L1142.88,521.41 L1145.82,520.52 L1148.75,519.65 L1151.69,518.77 L1154.63,517.89 L1157.56,517.02 L1160.50,516.14 L1163.43,515.27 L1166.37,514.41 L1169.30,513.54 L1172.24,512.67 L1175.18,511.81 L1178.11,510.95 L1181.05,510.09 L1183.98,509.23 L1186.92,508.37 L1189.85,507.52 L1192.79,506.66 L1195.72,505.81 L1198.66,504.96 L1201.60,504.12 L1204.53,503.27 L1207.47,502.43 L1210.40,501.58 L1213.34,500.74 L1216.27,499.90 L1219.21,499.07 L1222.15,498.23 L1225.08,497.40 L1228.02,496.57 L1230.95,495.74 L1233.89,494.91 L1236.82,494.08 L1239.76,493.26 L1242.70,492.43 L1245.63,491.61 L1248.57,490.79 L1251.50,489.97 L1254.44,489.16 L1257.37,488.34 L1260.31,487.53 L1263.24,486.72 L1266.18,485.91 L1269.12,485.10 L1272.05,484.30 L1274.99,483.49 L1277.92,482.69 L1280.86,481.89 L1283.79,481.09 L1286.73,480.29 L1289.67,479.50 L1292.60,478.70 L1295.54,477.91 L1298.47,477.12 L1301.41,476.33 L1304.34,475.54 L1307.28,474.76 L1310.21,473.97 L1313.15,473.19 L1316.09,472.41 L1319.02,471.63 L1321.96,470.85 L1324.89,470.08 L1327.83,469.30 L1330.76,468.53 L1333.70,467.76" fill="none" stroke="#5aa55a" stroke-width="2.3" stroke-linejoin="round"/>
<path d="M143.50,937.60 L143.82,937.57 L144.14,937.54 L144.46,937.51 L144.78,937.48 L145.10,937.46 L145.42,937.43 L145.74,937.40 L146.06,937.37 L146.38,937.34 L146.70,937.31 L147.02,937.28 L147.34,937.25 L147.66,937.22 L147.98,937.20 L148.30,937.17 L148.62,937.14 L148.94,937.11 L149.26,937.08 L149.58,937.05 L149.90,937.02 L150.22,936.99 L150.54,936.96 L150.86,936.94 L151.18,936.91 L151.50,936.88 L151.82,936.85 L152.14,936.82 L152.46,936.79 L152.78,936.76 L153.10,936.73 L153.42,936.70 L153.74,936.68 L154.06,936.65 L154.38,936.62 L154.70,936.59 L155.02,936.56 L155.34,936.53 L155.66,936.50 L155.98,936.47 L156.30,936.45 L156.62,936.42 L156.94,936.39 L157.26,936.36 L157.58,936.33 L157.90,936.30 L158.22,936.27 L158.54,936.24 L158.86,936.21 L159.18,936.19 L159.50,936.16 L159.82,936.13 L160.14,936.10 L160.46,936.07 L160.78,936.04 L161.10,936.01 L161.42,935.98 L161.74,935.95 L162.06,935.93 L162.38,935.90 L162.38,935.90 L165.32,935.63 L168.25,935.37 L171.19,935.10 L174.12,934.84 L177.06,934.57 L179.99,934.31 L182.93,934.04 L185.87,933.78 L188.80,933.51 L191.74,933.25 L194.67,932.98 L197.61,932.72 L200.54,932.45 L203.48,932.19 L206.41,931.92 L209.35,931.66 L212.29,931.39 L215.22,931.13 L218.16,930.86 L221.09,930.60 L224.03,930.33 L226.96,930.07 L229.90,929.80 L232.84,929.54 L235.77,929.27 L238.71,929.01 L241.64,928.74 L244.58,928.48 L247.51,928.21 L250.45,927.95 L253.38,927.68 L256.32,927.42 L259.26,927.16 L262.19,926.89 L265.13,926.63 L268.06,926.36 L271.00,926.10 L273.93,925.83 L276.87,925.57 L279.81,925.30 L282.74,925.04 L285.68,924.77 L288.61,924.51 L291.55,924.24 L294.48,923.98 L297.42,923.71 L300.36,923.45 L303.29,923.18 L306.23,922.92 L309.16,922.65 L312.10,922.39 L315.03,922.12 L317.97,921.86 L320.90,921.59 L323.84,921.33 L326.78,921.06 L329.71,920.80 L332.65,920.53 L335.58,920.27 L338.52,920.00 L341.45,919.74 L344.39,919.47 L347.33,919.21 L350.26,918.94 L353.20,918.68 L356.13,918.41 L359.07,918.15 L362.00,917.88 L364.94,917.62 L367.87,917.35 L370.81,917.09 L373.75,916.82 L376.68,916.56 L379.62,916.29 L382.55,916.03 L385.49,915.76 L388.42,915.50 L391.36,915.24 L394.30,914.97 L397.23,914.71 L400.17,914.44 L403.10,914.18 L406.04,913.91 L408.97,913.65 L411.91,913.38 L414.84,913.12 L417.78,912.85 L420.72,912.59 L423.65,912.32 L426.59,912.06 L429.52,911.79 L432.46,911.53 L435.39,911.26 L438.33,911.00 L441.27,910.73 L444.20,910.47 L447.14,910.20 L450.07,909.94 L453.01,909.67 L455.94,909.41 L458.88,909.14 L461.82,908.88 L464.75,908.61 L467.69,908.35 L470.62,908.08 L473.56,907.82 L476.49,907.55 L479.43,907.29 L482.36,907.02 L485.30,906.76 L488.24,906.49 L491.17,906.23 L494.11,905.96 L497.04,905.70 L499.98,905.43 L502.91,905.17 L505.85,904.90 L508.79,904.64 L511.72,904.37 L514.66,904.11 L517.59,903.84 L520.53,903.58 L523.46,903.31 L526.40,903.05 L529.33,902.79 L532.27,902.52 L535.21,902.26 L538.14,901.99 L541.08,901.73 L544.01,901.46 L546.95,901.20 L549.88,900.93 L552.82,900.67 L555.76,900.40 L558.69,900.14 L561.63,899.87 L564.56,899.61 L567.50,899.34 L570.43,899.08 L573.37,898.81 L576.31,898.55 L579.24,898.28 L582.18,898.02 L585.11,897.75 L588.05,897.49 L590.98,897.22 L593.92,896.96 L596.85,896.69 L599.79,896.43 L602.73,896.16 L605.66,895.90 L608.60,895.63 L611.53,895.37 L614.47,895.10 L617.40,894.84 L620.34,894.57 L623.28,894.31 L626.21,894.04 L629.15,893.78 L632.08,893.51 L635.02,893.25 L637.95,892.98 L640.89,892.72 L643.82,892.45 L646.76,892.19 L649.70,891.92 L652.63,891.66 L655.57,891.39 L658.50,891.13 L661.44,890.87 L664.37,890.60 L667.31,890.34 L670.25,890.07 L673.18,889.81 L676.12,889.54 L679.05,889.28 L681.99,889.01 L684.92,888.75 L687.86,888.48 L690.80,888.22 L693.73,887.95 L696.67,887.69 L699.60,887.42 L702.54,887.16 L705.47,886.89 L708.41,886.63 L711.34,886.36 L714.28,886.10 L717.22,885.83 L720.15,885.57 L723.09,885.30 L726.02,885.04 L728.96,884.77 L731.89,884.51 L734.83,884.24 L737.77,883.98 L740.70,883.71 L743.64,883.45 L746.57,883.18 L749.51,882.92 L752.44,882.65 L755.38,882.39 L758.31,882.12 L761.25,881.86 L764.19,881.59 L767.12,881.33 L770.06,881.06 L772.99,880.80 L775.93,880.53 L778.86,880.27 L781.80,880.00 L784.74,879.74 L787.67,879.47 L790.61,879.21 L793.54,878.95 L796.48,878.68 L799.41,878.42 L802.35,878.15 L805.28,877.89 L808.22,877.62 L811.16,877.36 L814.09,877.09 L817.03,876.83 L819.96,876.56 L822.90,876.30 L825.83,876.03 L828.77,875.77 L831.71,875.50 L834.64,875.24 L837.58,874.97 L840.51,874.71 L843.45,874.44 L846.38,874.18 L849.32,873.91 L852.26,873.65 L855.19,873.38 L858.13,873.12 L861.06,872.85 L864.00,872.59 L866.93,872.32 L869.87,872.06 L872.80,871.79 L875.74,871.53 L878.68,871.26 L881.61,871.00 L884.55,870.73 L887.48,870.47 L890.42,870.20 L893.35,869.94 L896.29,869.67 L899.23,869.41 L902.16,869.14 L905.10,868.88 L908.03,868.61 L910.97,868.35 L913.90,868.08 L916.84,867.82 L919.77,867.55 L922.71,867.29 L925.65,867.03 L928.58,866.76 L931.52,866.50 L934.45,866.23 L937.39,865.97 L940.32,865.70 L943.26,865.44 L946.20,865.17 L949.13,864.91 L952.07,864.64 L955.00,864.38 L957.94,864.11 L960.87,863.85 L963.81,863.58 L966.75,863.32 L969.68,863.05 L972.62,862.79 L975.55,862.52 L978.49,862.26 L981.42,861.99 L984.36,861.73 L987.29,861.46 L990.23,861.20 L993.17,860.93 L996.10,860.67 L999.04,860.40 L1001.97,860.14 L1004.91,859.87 L1007.84,859.61 L1010.78,859.34 L1013.72,859.08 L1016.65,858.81 L1019.59,858.55 L1022.52,858.28 L1025.46,858.02 L1028.39,857.75 L1031.33,857.49 L1034.26,857.22 L1037.20,856.96 L1040.14,856.69 L1043.07,856.43 L1046.01,856.16 L1048.94,855.90 L1051.88,855.63 L1054.81,855.37 L1057.75,855.11 L1060.69,854.84 L1063.62,854.58 L1066.56,854.31 L1069.49,854.05 L1072.43,853.78 L1075.36,853.52 L1078.30,853.25 L1081.24,852.99 L1084.17,852.72 L1087.11,852.46 L1090.04,852.19 L1092.98,851.93 L1095.91,851.66 L1098.85,851.40 L1101.78,851.13 L1104.72,850.87 L1107.66,850.60 L1110.59,850.34 L1113.53,850.07 L1116.46,849.81 L1119.40,849.54 L1122.33,849.28 L1125.27,849.01 L1128.21,848.75 L1131.14,848.48 L1134.08,848.22 L1137.01,847.95 L1139.95,847.69 L1142.88,847.42 L1145.82,847.16 L1148.75,846.89 L1151.69,846.63 L1154.63,846.36 L1157.56,846.10 L1160.50,845.83 L1163.43,845.57 L1166.37,845.30 L1169.30,845.04 L1172.24,844.77 L1175.18,844.51 L1178.11,844.24 L1181.05,843.98 L1183.98,843.71 L1186.92,843.45 L1189.85,843.18 L1192.79,842.92 L1195.72,842.66 L1198.66,842.39 L1201.60,842.13 L1204.53,841.86 L1207.47,841.60 L1210.40,841.33 L1213.34,841.07 L1216.27,840.80 L1219.21,840.54 L1222.15,840.27 L1225.08,840.01 L1228.02,839.74 L1230.95,839.48 L1233.89,839.21 L1236.82,838.95 L1239.76,838.68 L1242.70,838.42 L1245.63,838.15 L1248.57,837.89 L1251.50,837.62 L1254.44,837.36 L1257.37,837.09 L1260.31,836.83 L1263.24,836.56 L1266.18,836.30 L1269.12,836.03 L1272.05,835.77 L1274.99,835.50 L1277.92,835.24 L1280.86,834.97 L1283.79,834.71 L1286.73,834.44 L1289.67,834.18 L1292.60,833.91 L1295.54,833.65 L1298.47,833.38 L1301.41,833.12 L1304.34,832.85 L1307.28,832.59 L1310.21,832.32 L1313.15,832.06 L1316.09,831.79 L1319.02,831.53 L1321.96,831.26 L1324.89,831.00 L1327.83,830.74 L1330.76,830.47 L1333.70,830.21" fill="none" stroke="#e39b3c" stroke-width="2.3" stroke-linejoin="round"/>
<path d="M143.50,937.60 L143.82,937.59 L144.14,937.57 L144.46,937.56 L144.78,937.54 L145.10,937.53 L145.42,937.51 L145.74,937.50 L146.06,937.48 L146.38,937.47 L146.70,937.45 L147.02,937.44 L147.34,937.42 L147.66,937.41 L147.98,937.39 L148.30,937.38 L148.62,937.36 L148.94,937.35 L149.26,937.33 L149.58,937.32 L149.90,937.30 L150.22,937.29 L150.54,937.27 L150.86,937.26 L151.18,937.24 L151.50,937.23 L151.82,937.22 L152.14,937.20 L152.46,937.19 L152.78,937.17 L153.10,937.16 L153.42,937.14 L153.74,937.13 L154.06,937.11 L154.38,937.10 L154.70,937.08 L155.02,937.07 L155.34,937.05 L155.66,937.04 L155.98,937.02 L156.30,937.01 L156.62,936.99 L156.94,936.98 L157.26,936.96 L157.58,936.95 L157.90,936.93 L158.22,936.92 L158.54,936.90 L158.86,936.89 L159.18,936.88 L159.50,936.86 L159.82,936.85 L160.14,936.83 L160.46,936.82 L160.78,936.80 L161.10,936.79 L161.42,936.77 L161.74,936.76 L162.06,936.74 L162.38,936.73 L162.38,936.73 L165.32,936.59 L168.25,936.46 L171.19,936.32 L174.12,936.18 L177.06,936.05 L179.99,935.91 L182.93,935.78 L185.87,935.64 L188.80,935.51 L191.74,935.37 L194.67,935.23 L197.61,935.10 L200.54,934.96 L203.48,934.83 L206.41,934.69 L209.35,934.56 L212.29,934.42 L215.22,934.28 L218.16,934.15 L221.09,934.01 L224.03,933.88 L226.96,933.74 L229.90,933.61 L232.84,933.47 L235.77,933.33 L238.71,933.20 L241.64,933.06 L244.58,932.93 L247.51,932.79 L250.45,932.66 L253.38,932.52 L256.32,932.38 L259.26,932.25 L262.19,932.11 L265.13,931.98 L268.06,931.84 L271.00,931.71 L273.93,931.57 L276.87,931.44 L279.81,931.30 L282.74,931.16 L285.68,931.03 L288.61,930.89 L291.55,930.76 L294.48,930.62 L297.42,930.49 L300.36,930.35 L303.29,930.21 L306.23,930.08 L309.16,929.94 L312.10,929.81 L315.03,929.67 L317.97,929.54 L320.90,929.40 L323.84,929.26 L326.78,929.13 L329.71,928.99 L332.65,928.86 L335.58,928.72 L338.52,928.59 L341.45,928.45 L344.39,928.31 L347.33,928.18 L350.26,928.04 L353.20,927.91 L356.13,927.77 L359.07,927.64 L362.00,927.50 L364.94,927.36 L367.87,927.23 L370.81,927.09 L373.75,926.96 L376.68,926.82 L379.62,926.69 L382.55,926.55 L385.49,926.41 L388.42,926.28 L391.36,926.14 L394.30,926.01 L397.23,925.87 L400.17,925.74 L403.10,925.60 L406.04,925.46 L408.97,925.33 L411.91,925.19 L414.84,925.06 L417.78,924.92 L420.72,924.79 L423.65,924.65 L426.59,924.51 L429.52,924.38 L432.46,924.24 L435.39,924.11 L438.33,923.97 L441.27,923.84 L444.20,923.70 L447.14,923.56 L450.07,923.43 L453.01,923.29 L455.94,923.16 L458.88,923.02 L461.82,922.89 L464.75,922.75 L467.69,922.61 L470.62,922.48 L473.56,922.34 L476.49,922.21 L479.43,922.07 L482.36,921.94 L485.30,921.80 L488.24,921.66 L491.17,921.53 L494.11,921.39 L497.04,921.26 L499.98,921.12 L502.91,920.99 L505.85,920.85 L508.79,920.71 L511.72,920.58 L514.66,920.44 L517.59,920.31 L520.53,920.17 L523.46,920.04 L526.40,919.90 L529.33,919.77 L532.27,919.63 L535.21,919.49 L538.14,919.36 L541.08,919.22 L544.01,919.09 L546.95,918.95 L549.88,918.82 L552.82,918.68 L555.76,918.54 L558.69,918.41 L561.63,918.27 L564.56,918.14 L567.50,918.00 L570.43,917.87 L573.37,917.73 L576.31,917.59 L579.24,917.46 L582.18,917.32 L585.11,917.19 L588.05,917.05 L590.98,916.92 L593.92,916.78 L596.85,916.64 L599.79,916.51 L602.73,916.37 L605.66,916.24 L608.60,916.10 L611.53,915.97 L614.47,915.83 L617.40,915.69 L620.34,915.56 L623.28,915.42 L626.21,915.29 L629.15,915.15 L632.08,915.02 L635.02,914.88 L637.95,914.74 L640.89,914.61 L643.82,914.47 L646.76,914.34 L649.70,914.20 L652.63,914.07 L655.57,913.93 L658.50,913.79 L661.44,913.66 L664.37,913.52 L667.31,913.39 L670.25,913.25 L673.18,913.12 L676.12,912.98 L679.05,912.84 L681.99,912.71 L684.92,912.57 L687.86,912.44 L690.80,912.30 L693.73,912.17 L696.67,912.03 L699.60,911.89 L702.54,911.76 L705.47,911.62 L708.41,911.49 L711.34,911.35 L714.28,911.22 L717.22,911.08 L720.15,910.94 L723.09,910.81 L726.02,910.67 L728.96,910.54 L731.89,910.40 L734.83,910.27 L737.77,910.13 L740.70,909.99 L743.64,909.86 L746.57,909.72 L749.51,909.59 L752.44,909.45 L755.38,909.32 L758.31,909.18 L761.25,909.04 L764.19,908.91 L767.12,908.77 L770.06,908.64 L772.99,908.50 L775.93,908.37 L778.86,908.23 L781.80,908.10 L784.74,907.96 L787.67,907.82 L790.61,907.69 L793.54,907.55 L796.48,907.42 L799.41,907.28 L802.35,907.15 L805.28,907.01 L808.22,906.87 L811.16,906.74 L814.09,906.60 L817.03,906.47 L819.96,906.33 L822.90,906.20 L825.83,906.06 L828.77,905.92 L831.71,905.79 L834.64,905.65 L837.58,905.52 L840.51,905.38 L843.45,905.25 L846.38,905.11 L849.32,904.97 L852.26,904.84 L855.19,904.70 L858.13,904.57 L861.06,904.43 L864.00,904.30 L866.93,904.16 L869.87,904.02 L872.80,903.89 L875.74,903.75 L878.68,903.62 L881.61,903.48 L884.55,903.35 L887.48,903.21 L890.42,903.07 L893.35,902.94 L896.29,902.80 L899.23,902.67 L902.16,902.53 L905.10,902.40 L908.03,902.26 L910.97,902.12 L913.90,901.99 L916.84,901.85 L919.77,901.72 L922.71,901.58 L925.65,901.45 L928.58,901.31 L931.52,901.17 L934.45,901.04 L937.39,900.90 L940.32,900.77 L943.26,900.63 L946.20,900.50 L949.13,900.36 L952.07,900.22 L955.00,900.09 L957.94,899.95 L960.87,899.82 L963.81,899.68 L966.75,899.55 L969.68,899.41 L972.62,899.27 L975.55,899.14 L978.49,899.00 L981.42,898.87 L984.36,898.73 L987.29,898.60 L990.23,898.46 L993.17,898.32 L996.10,898.19 L999.04,898.05 L1001.97,897.92 L1004.91,897.78 L1007.84,897.65 L1010.78,897.51 L1013.72,897.37 L1016.65,897.24 L1019.59,897.10 L1022.52,896.97 L1025.46,896.83 L1028.39,896.70 L1031.33,896.56 L1034.26,896.42 L1037.20,896.29 L1040.14,896.15 L1043.07,896.02 L1046.01,895.88 L1048.94,895.75 L1051.88,895.61 L1054.81,895.48 L1057.75,895.34 L1060.69,895.20 L1063.62,895.07 L1066.56,894.93 L1069.49,894.80 L1072.43,894.66 L1075.36,894.53 L1078.30,894.39 L1081.24,894.25 L1084.17,894.12 L1087.11,893.98 L1090.04,893.85 L1092.98,893.71 L1095.91,893.58 L1098.85,893.44 L1101.78,893.30 L1104.72,893.17 L1107.66,893.03 L1110.59,892.90 L1113.53,892.76 L1116.46,892.63 L1119.40,892.49 L1122.33,892.35 L1125.27,892.22 L1128.21,892.08 L1131.14,891.95 L1134.08,891.81 L1137.01,891.68 L1139.95,891.54 L1142.88,891.40 L1145.82,891.27 L1148.75,891.13 L1151.69,891.00 L1154.63,890.86 L1157.56,890.73 L1160.50,890.59 L1163.43,890.45 L1166.37,890.32 L1169.30,890.18 L1172.24,890.05 L1175.18,889.91 L1178.11,889.78 L1181.05,889.64 L1183.98,889.50 L1186.92,889.37 L1189.85,889.23 L1192.79,889.10 L1195.72,888.96 L1198.66,888.83 L1201.60,888.69 L1204.53,888.55 L1207.47,888.42 L1210.40,888.28 L1213.34,888.15 L1216.27,888.01 L1219.21,887.88 L1222.15,887.74 L1225.08,887.60 L1228.02,887.47 L1230.95,887.33 L1233.89,887.20 L1236.82,887.06 L1239.76,886.93 L1242.70,886.79 L1245.63,886.65 L1248.57,886.52 L1251.50,886.38 L1254.44,886.25 L1257.37,886.11 L1260.31,885.98 L1263.24,885.84 L1266.18,885.70 L1269.12,885.57 L1272.05,885.43 L1274.99,885.30 L1277.92,885.16 L1280.86,885.03 L1283.79,884.89 L1286.73,884.75 L1289.67,884.62 L1292.60,884.48 L1295.54,884.35 L1298.47,884.21 L1301.41,884.08 L1304.34,883.94 L1307.28,883.81 L1310.21,883.67 L1313.15,883.53 L1316.09,883.40 L1319.02,883.26 L1321.96,883.13 L1324.89,882.99 L1327.83,882.86 L1330.76,882.72 L1333.70,882.58" fill="none" stroke="#e39b3c" stroke-width="2.3" stroke-linejoin="round"/>
<path d="M143.50,937.60 L143.82,937.60 L144.14,937.59 L144.46,937.59 L144.78,937.59 L145.10,937.58 L145.42,937.58 L145.74,937.58 L146.06,937.57 L146.38,937.57 L146.70,937.57 L147.02,937.56 L147.34,937.56 L147.66,937.56 L147.98,937.55 L148.30,937.55 L148.62,937.55 L148.94,937.54 L149.26,937.54 L149.58,937.54 L149.90,937.53 L150.22,937.53 L150.54,937.53 L150.86,937.52 L151.18,937.52 L151.50,937.52 L151.82,937.51 L152.14,937.51 L152.46,937.51 L152.78,937.50 L153.10,937.50 L153.42,937.50 L153.74,937.49 L154.06,937.49 L154.38,937.49 L154.70,937.48 L155.02,937.48 L155.34,937.48 L155.66,937.47 L155.98,937.47 L156.30,937.47 L156.62,937.46 L156.94,937.46 L157.26,937.46 L157.58,937.45 L157.90,937.45 L158.22,937.45 L158.54,937.44 L158.86,937.44 L159.18,937.44 L159.50,937.43 L159.82,937.43 L160.14,937.43 L160.46,937.42 L160.78,937.42 L161.10,937.42 L161.42,937.42 L161.74,937.41 L162.06,937.41 L162.38,937.41 L162.38,937.41 L165.32,937.37 L168.25,937.34 L171.19,937.31 L174.12,937.28 L177.06,937.25 L179.99,937.22 L182.93,937.19 L185.87,937.16 L188.80,937.13 L191.74,937.10 L194.67,937.07 L197.61,937.04 L200.54,937.01 L203.48,936.98 L206.41,936.95 L209.35,936.92 L212.29,936.89 L215.22,936.86 L218.16,936.83 L221.09,936.80 L224.03,936.77 L226.96,936.74 L229.90,936.71 L232.84,936.68 L235.77,936.65 L238.71,936.62 L241.64,936.59 L244.58,936.56 L247.51,936.53 L250.45,936.50 L253.38,936.47 L256.32,936.44 L259.26,936.41 L262.19,936.37 L265.13,936.34 L268.06,936.31 L271.00,936.28 L273.93,936.25 L276.87,936.22 L279.81,936.19 L282.74,936.16 L285.68,936.13 L288.61,936.10 L291.55,936.07 L294.48,936.04 L297.42,936.01 L300.36,935.98 L303.29,935.95 L306.23,935.92 L309.16,935.89 L312.10,935.86 L315.03,935.83 L317.97,935.80 L320.90,935.77 L323.84,935.74 L326.78,935.71 L329.71,935.68 L332.65,935.65 L335.58,935.62 L338.52,935.59 L341.45,935.56 L344.39,935.53 L347.33,935.50 L350.26,935.47 L353.20,935.44 L356.13,935.41 L359.07,935.38 L362.00,935.34 L364.94,935.31 L367.87,935.28 L370.81,935.25 L373.75,935.22 L376.68,935.19 L379.62,935.16 L382.55,935.13 L385.49,935.10 L388.42,935.07 L391.36,935.04 L394.30,935.01 L397.23,934.98 L400.17,934.95 L403.10,934.92 L406.04,934.89 L408.97,934.86 L411.91,934.83 L414.84,934.80 L417.78,934.77 L420.72,934.74 L423.65,934.71 L426.59,934.68 L429.52,934.65 L432.46,934.62 L435.39,934.59 L438.33,934.56 L441.27,934.53 L444.20,934.50 L447.14,934.47 L450.07,934.44 L453.01,934.41 L455.94,934.38 L458.88,934.34 L461.82,934.31 L464.75,934.28 L467.69,934.25 L470.62,934.22 L473.56,934.19 L476.49,934.16 L479.43,934.13 L482.36,934.10 L485.30,934.07 L488.24,934.04 L491.17,934.01 L494.11,933.98 L497.04,933.95 L499.98,933.92 L502.91,933.89 L505.85,933.86 L508.79,933.83 L511.72,933.80 L514.66,933.77 L517.59,933.74 L520.53,933.71 L523.46,933.68 L526.40,933.65 L529.33,933.62 L532.27,933.59 L535.21,933.56 L538.14,933.53 L541.08,933.50 L544.01,933.47 L546.95,933.44 L549.88,933.41 L552.82,933.38 L555.76,933.34 L558.69,933.31 L561.63,933.28 L564.56,933.25 L567.50,933.22 L570.43,933.19 L573.37,933.16 L576.31,933.13 L579.24,933.10 L582.18,933.07 L585.11,933.04 L588.05,933.01 L590.98,932.98 L593.92,932.95 L596.85,932.92 L599.79,932.89 L602.73,932.86 L605.66,932.83 L608.60,932.80 L611.53,932.77 L614.47,932.74 L617.40,932.71 L620.34,932.68 L623.28,932.65 L626.21,932.62 L629.15,932.59 L632.08,932.56 L635.02,932.53 L637.95,932.50 L640.89,932.47 L643.82,932.44 L646.76,932.41 L649.70,932.38 L652.63,932.35 L655.57,932.31 L658.50,932.28 L661.44,932.25 L664.37,932.22 L667.31,932.19 L670.25,932.16 L673.18,932.13 L676.12,932.10 L679.05,932.07 L681.99,932.04 L684.92,932.01 L687.86,931.98 L690.80,931.95 L693.73,931.92 L696.67,931.89 L699.60,931.86 L702.54,931.83 L705.47,931.80 L708.41,931.77 L711.34,931.74 L714.28,931.71 L717.22,931.68 L720.15,931.65 L723.09,931.62 L726.02,931.59 L728.96,931.56 L731.89,931.53 L734.83,931.50 L737.77,931.47 L740.70,931.44 L743.64,931.41 L746.57,931.38 L749.51,931.35 L752.44,931.31 L755.38,931.28 L758.31,931.25 L761.25,931.22 L764.19,931.19 L767.12,931.16 L770.06,931.13 L772.99,931.10 L775.93,931.07 L778.86,931.04 L781.80,931.01 L784.74,930.98 L787.67,930.95 L790.61,930.92 L793.54,930.89 L796.48,930.86 L799.41,930.83 L802.35,930.80 L805.28,930.77 L808.22,930.74 L811.16,930.71 L814.09,930.68 L817.03,930.65 L819.96,930.62 L822.90,930.59 L825.83,930.56 L828.77,930.53 L831.71,930.50 L834.64,930.47 L837.58,930.44 L840.51,930.41 L843.45,930.38 L846.38,930.35 L849.32,930.32 L852.26,930.28 L855.19,930.25 L858.13,930.22 L861.06,930.19 L864.00,930.16 L866.93,930.13 L869.87,930.10 L872.80,930.07 L875.74,930.04 L878.68,930.01 L881.61,929.98 L884.55,929.95 L887.48,929.92 L890.42,929.89 L893.35,929.86 L896.29,929.83 L899.23,929.80 L902.16,929.77 L905.10,929.74 L908.03,929.71 L910.97,929.68 L913.90,929.65 L916.84,929.62 L919.77,929.59 L922.71,929.56 L925.65,929.53 L928.58,929.50 L931.52,929.47 L934.45,929.44 L937.39,929.41 L940.32,929.38 L943.26,929.35 L946.20,929.32 L949.13,929.28 L952.07,929.25 L955.00,929.22 L957.94,929.19 L960.87,929.16 L963.81,929.13 L966.75,929.10 L969.68,929.07 L972.62,929.04 L975.55,929.01 L978.49,928.98 L981.42,928.95 L984.36,928.92 L987.29,928.89 L990.23,928.86 L993.17,928.83 L996.10,928.80 L999.04,928.77 L1001.97,928.74 L1004.91,928.71 L1007.84,928.68 L1010.78,928.65 L1013.72,928.62 L1016.65,928.59 L1019.59,928.56 L1022.52,928.53 L1025.46,928.50 L1028.39,928.47 L1031.33,928.44 L1034.26,928.41 L1037.20,928.38 L1040.14,928.35 L1043.07,928.32 L1046.01,928.28 L1048.94,928.25 L1051.88,928.22 L1054.81,928.19 L1057.75,928.16 L1060.69,928.13 L1063.62,928.10 L1066.56,928.07 L1069.49,928.04 L1072.43,928.01 L1075.36,927.98 L1078.30,927.95 L1081.24,927.92 L1084.17,927.89 L1087.11,927.86 L1090.04,927.83 L1092.98,927.80 L1095.91,927.77 L1098.85,927.74 L1101.78,927.71 L1104.72,927.68 L1107.66,927.65 L1110.59,927.62 L1113.53,927.59 L1116.46,927.56 L1119.40,927.53 L1122.33,927.50 L1125.27,927.47 L1128.21,927.44 L1131.14,927.41 L1134.08,927.38 L1137.01,927.35 L1139.95,927.32 L1142.88,927.29 L1145.82,927.25 L1148.75,927.22 L1151.69,927.19 L1154.63,927.16 L1157.56,927.13 L1160.50,927.10 L1163.43,927.07 L1166.37,927.04 L1169.30,927.01 L1172.24,926.98 L1175.18,926.95 L1178.11,926.92 L1181.05,926.89 L1183.98,926.86 L1186.92,926.83 L1189.85,926.80 L1192.79,926.77 L1195.72,926.74 L1198.66,926.71 L1201.60,926.68 L1204.53,926.65 L1207.47,926.62 L1210.40,926.59 L1213.34,926.56 L1216.27,926.53 L1219.21,926.50 L1222.15,926.47 L1225.08,926.44 L1228.02,926.41 L1230.95,926.38 L1233.89,926.35 L1236.82,926.32 L1239.76,926.29 L1242.70,926.25 L1245.63,926.22 L1248.57,926.19 L1251.50,926.16 L1254.44,926.13 L1257.37,926.10 L1260.31,926.07 L1263.24,926.04 L1266.18,926.01 L1269.12,925.98 L1272.05,925.95 L1274.99,925.92 L1277.92,925.89 L1280.86,925.86 L1283.79,925.83 L1286.73,925.80 L1289.67,925.77 L1292.60,925.74 L1295.54,925.71 L1298.47,925.68 L1301.41,925.65 L1304.34,925.62 L1307.28,925.59 L1310.21,925.56 L1313.15,925.53 L1316.09,925.50 L1319.02,925.47 L1321.96,925.44 L1324.89,925.41 L1327.83,925.38 L1330.76,925.35 L1333.70,925.32" fill="none" stroke="#4d6fb0" stroke-width="2.3" stroke-linejoin="round"/>
<path d="M143.50,937.60 L143.82,937.60 L144.14,937.60 L144.46,937.60 L144.78,937.60 L145.10,937.59 L145.42,937.59 L145.74,937.59 L146.06,937.59 L146.38,937.59 L146.70,937.59 L147.02,937.59 L147.34,937.59 L147.66,937.58 L147.98,937.58 L148.30,937.58 L148.62,937.58 L148.94,937.58 L149.26,937.58 L149.58,937.58 L149.90,937.58 L150.22,937.57 L150.54,937.57 L150.86,937.57 L151.18,937.57 L151.50,937.57 L151.82,937.57 L152.14,937.57 L152.46,937.57 L152.78,937.56 L153.10,937.56 L153.42,937.56 L153.74,937.56 L154.06,937.56 L154.38,937.56 L154.70,937.56 L155.02,937.56 L155.34,937.55 L155.66,937.55 L155.98,937.55 L156.30,937.55 L156.62,937.55 L156.94,937.55 L157.26,937.55 L157.58,937.55 L157.90,937.54 L158.22,937.54 L158.54,937.54 L158.86,937.54 L159.18,937.54 L159.50,937.54 L159.82,937.54 L160.14,937.54 L160.46,937.53 L160.78,937.53 L161.10,937.53 L161.42,937.53 L161.74,937.53 L162.06,937.53 L162.38,937.53 L162.38,937.53 L165.32,937.52 L168.25,937.50 L171.19,937.49 L174.12,937.48 L177.06,937.47 L179.99,937.46 L182.93,937.45 L185.87,937.44 L188.80,937.43 L191.74,937.41 L194.67,937.40 L197.61,937.39 L200.54,937.38 L203.48,937.37 L206.41,937.36 L209.35,937.35 L212.29,937.33 L215.22,937.32 L218.16,937.31 L221.09,937.30 L224.03,937.29 L226.96,937.28 L229.90,937.27 L232.84,937.25 L235.77,937.24 L238.71,937.23 L241.64,937.22 L244.58,937.21 L247.51,937.20 L250.45,937.19 L253.38,937.18 L256.32,937.16 L259.26,937.15 L262.19,937.14 L265.13,937.13 L268.06,937.12 L271.00,937.11 L273.93,937.10 L276.87,937.08 L279.81,937.07 L282.74,937.06 L285.68,937.05 L288.61,937.04 L291.55,937.03 L294.48,937.02 L297.42,937.01 L300.36,936.99 L303.29,936.98 L306.23,936.97 L309.16,936.96 L312.10,936.95 L315.03,936.94 L317.97,936.93 L320.90,936.91 L323.84,936.90 L326.78,936.89 L329.71,936.88 L332.65,936.87 L335.58,936.86 L338.52,936.85 L341.45,936.84 L344.39,936.82 L347.33,936.81 L350.26,936.80 L353.20,936.79 L356.13,936.78 L359.07,936.77 L362.00,936.76 L364.94,936.74 L367.87,936.73 L370.81,936.72 L373.75,936.71 L376.68,936.70 L379.62,936.69 L382.55,936.68 L385.49,936.67 L388.42,936.65 L391.36,936.64 L394.30,936.63 L397.23,936.62 L400.17,936.61 L403.10,936.60 L406.04,936.59 L408.97,936.57 L411.91,936.56 L414.84,936.55 L417.78,936.54 L420.72,936.53 L423.65,936.52 L426.59,936.51 L429.52,936.50 L432.46,936.48 L435.39,936.47 L438.33,936.46 L441.27,936.45 L444.20,936.44 L447.14,936.43 L450.07,936.42 L453.01,936.40 L455.94,936.39 L458.88,936.38 L461.82,936.37 L464.75,936.36 L467.69,936.35 L470.62,936.34 L473.56,936.33 L476.49,936.31 L479.43,936.30 L482.36,936.29 L485.30,936.28 L488.24,936.27 L491.17,936.26 L494.11,936.25 L497.04,936.23 L499.98,936.22 L502.91,936.21 L505.85,936.20 L508.79,936.19 L511.72,936.18 L514.66,936.17 L517.59,936.16 L520.53,936.14 L523.46,936.13 L526.40,936.12 L529.33,936.11 L532.27,936.10 L535.21,936.09 L538.14,936.08 L541.08,936.06 L544.01,936.05 L546.95,936.04 L549.88,936.03 L552.82,936.02 L555.76,936.01 L558.69,936.00 L561.63,935.98 L564.56,935.97 L567.50,935.96 L570.43,935.95 L573.37,935.94 L576.31,935.93 L579.24,935.92 L582.18,935.91 L585.11,935.89 L588.05,935.88 L590.98,935.87 L593.92,935.86 L596.85,935.85 L599.79,935.84 L602.73,935.83 L605.66,935.81 L608.60,935.80 L611.53,935.79 L614.47,935.78 L617.40,935.77 L620.34,935.76 L623.28,935.75 L626.21,935.74 L629.15,935.72 L632.08,935.71 L635.02,935.70 L637.95,935.69 L640.89,935.68 L643.82,935.67 L646.76,935.66 L649.70,935.64 L652.63,935.63 L655.57,935.62 L658.50,935.61 L661.44,935.60 L664.37,935.59 L667.31,935.58 L670.25,935.57 L673.18,935.55 L676.12,935.54 L679.05,935.53 L681.99,935.52 L684.92,935.51 L687.86,935.50 L690.80,935.49 L693.73,935.47 L696.67,935.46 L699.60,935.45 L702.54,935.44 L705.47,935.43 L708.41,935.42 L711.34,935.41 L714.28,935.40 L717.22,935.38 L720.15,935.37 L723.09,935.36 L726.02,935.35 L728.96,935.34 L731.89,935.33 L734.83,935.32 L737.77,935.30 L740.70,935.29 L743.64,935.28 L746.57,935.27 L749.51,935.26 L752.44,935.25 L755.38,935.24 L758.31,935.23 L761.25,935.21 L764.19,935.20 L767.12,935.19 L770.06,935.18 L772.99,935.17 L775.93,935.16 L778.86,935.15 L781.80,935.13 L784.74,935.12 L787.67,935.11 L790.61,935.10 L793.54,935.09 L796.48,935.08 L799.41,935.07 L802.35,935.06 L805.28,935.04 L808.22,935.03 L811.16,935.02 L814.09,935.01 L817.03,935.00 L819.96,934.99 L822.90,934.98 L825.83,934.96 L828.77,934.95 L831.71,934.94 L834.64,934.93 L837.58,934.92 L840.51,934.91 L843.45,934.90 L846.38,934.89 L849.32,934.87 L852.26,934.86 L855.19,934.85 L858.13,934.84 L861.06,934.83 L864.00,934.82 L866.93,934.81 L869.87,934.79 L872.80,934.78 L875.74,934.77 L878.68,934.76 L881.61,934.75 L884.55,934.74 L887.48,934.73 L890.42,934.71 L893.35,934.70 L896.29,934.69 L899.23,934.68 L902.16,934.67 L905.10,934.66 L908.03,934.65 L910.97,934.64 L913.90,934.62 L916.84,934.61 L919.77,934.60 L922.71,934.59 L925.65,934.58 L928.58,934.57 L931.52,934.56 L934.45,934.54 L937.39,934.53 L940.32,934.52 L943.26,934.51 L946.20,934.50 L949.13,934.49 L952.07,934.48 L955.00,934.47 L957.94,934.45 L960.87,934.44 L963.81,934.43 L966.75,934.42 L969.68,934.41 L972.62,934.40 L975.55,934.39 L978.49,934.37 L981.42,934.36 L984.36,934.35 L987.29,934.34 L990.23,934.33 L993.17,934.32 L996.10,934.31 L999.04,934.30 L1001.97,934.28 L1004.91,934.27 L1007.84,934.26 L1010.78,934.25 L1013.72,934.24 L1016.65,934.23 L1019.59,934.22 L1022.52,934.20 L1025.46,934.19 L1028.39,934.18 L1031.33,934.17 L1034.26,934.16 L1037.20,934.15 L1040.14,934.14 L1043.07,934.13 L1046.01,934.11 L1048.94,934.10 L1051.88,934.09 L1054.81,934.08 L1057.75,934.07 L1060.69,934.06 L1063.62,934.05 L1066.56,934.03 L1069.49,934.02 L1072.43,934.01 L1075.36,934.00 L1078.30,933.99 L1081.24,933.98 L1084.17,933.97 L1087.11,933.96 L1090.04,933.94 L1092.98,933.93 L1095.91,933.92 L1098.85,933.91 L1101.78,933.90 L1104.72,933.89 L1107.66,933.88 L1110.59,933.86 L1113.53,933.85 L1116.46,933.84 L1119.40,933.83 L1122.33,933.82 L1125.27,933.81 L1128.21,933.80 L1131.14,933.79 L1134.08,933.77 L1137.01,933.76 L1139.95,933.75 L1142.88,933.74 L1145.82,933.73 L1148.75,933.72 L1151.69,933.71 L1154.63,933.69 L1157.56,933.68 L1160.50,933.67 L1163.43,933.66 L1166.37,933.65 L1169.30,933.64 L1172.24,933.63 L1175.18,933.62 L1178.11,933.60 L1181.05,933.59 L1183.98,933.58 L1186.92,933.57 L1189.85,933.56 L1192.79,933.55 L1195.72,933.54 L1198.66,933.52 L1201.60,933.51 L1204.53,933.50 L1207.47,933.49 L1210.40,933.48 L1213.34,933.47 L1216.27,933.46 L1219.21,933.44 L1222.15,933.43 L1225.08,933.42 L1228.02,933.41 L1230.95,933.40 L1233.89,933.39 L1236.82,933.38 L1239.76,933.37 L1242.70,933.35 L1245.63,933.34 L1248.57,933.33 L1251.50,933.32 L1254.44,933.31 L1257.37,933.30 L1260.31,933.29 L1263.24,933.27 L1266.18,933.26 L1269.12,933.25 L1272.05,933.24 L1274.99,933.23 L1277.92,933.22 L1280.86,933.21 L1283.79,933.20 L1286.73,933.18 L1289.67,933.17 L1292.60,933.16 L1295.54,933.15 L1298.47,933.14 L1301.41,933.13 L1304.34,933.12 L1307.28,933.10 L1310.21,933.09 L1313.15,933.08 L1316.09,933.07 L1319.02,933.06 L1321.96,933.05 L1324.89,933.04 L1327.83,933.03 L1330.76,933.01 L1333.70,933.00" fill="none" stroke="#4d6fb0" stroke-width="2.3" stroke-linejoin="round"/>
<line x1="155.00" y1="961.8" x2="155.00" y2="1791.8" stroke="#7d7d7d" stroke-width="2.1" stroke-dasharray="35 34" stroke-dashoffset="16.299999999999955"/>
<line x1="261.80" y1="961.8" x2="261.80" y2="1791.8" stroke="#7d7d7d" stroke-width="2.1" stroke-dasharray="35 34" stroke-dashoffset="16.299999999999955"/>
<line x1="738.60" y1="961.8" x2="738.60" y2="1791.8" stroke="#7d7d7d" stroke-width="2.1" stroke-dasharray="35 34" stroke-dashoffset="16.299999999999955"/>
<line x1="1333.70" y1="961.8" x2="1333.70" y2="1791.8" stroke="#7d7d7d" stroke-width="2.1" stroke-dasharray="35 34" stroke-dashoffset="16.299999999999955"/>
<rect x="143.5" y="961.8" width="1245.8" height="830.0" fill="none" stroke="#111111" stroke-width="3"/>
<line x1="143.50" y1="961.8" x2="143.50" y2="972.3" stroke="#111111" stroke-width="2.8"/>
<line x1="143.50" y1="1791.8" x2="143.50" y2="1781.3" stroke="#111111" stroke-width="2.8"/>
<line x1="181.26" y1="961.8" x2="181.26" y2="966.8" stroke="#111111" stroke-width="2.8"/>
<line x1="181.26" y1="1791.8" x2="181.26" y2="1786.8" stroke="#111111" stroke-width="2.8"/>
<line x1="219.02" y1="961.8" x2="219.02" y2="966.8" stroke="#111111" stroke-width="2.8"/>
<line x1="219.02" y1="1791.8" x2="219.02" y2="1786.8" stroke="#111111" stroke-width="2.8"/>
<line x1="256.78" y1="961.8" x2="256.78" y2="966.8" stroke="#111111" stroke-width="2.8"/>
<line x1="256.78" y1="1791.8" x2="256.78" y2="1786.8" stroke="#111111" stroke-width="2.8"/>
<line x1="294.54" y1="961.8" x2="294.54" y2="966.8" stroke="#111111" stroke-width="2.8"/>
<line x1="294.54" y1="1791.8" x2="294.54" y2="1786.8" stroke="#111111" stroke-width="2.8"/>
<line x1="332.30" y1="961.8" x2="332.30" y2="972.3" stroke="#111111" stroke-width="2.8"/>
<line x1="332.30" y1="1791.8" x2="332.30" y2="1781.3" stroke="#111111" stroke-width="2.8"/>
<line x1="370.06" y1="961.8" x2="370.06" y2="966.8" stroke="#111111" stroke-width="2.8"/>
<line x1="370.06" y1="1791.8" x2="370.06" y2="1786.8" stroke="#111111" stroke-width="2.8"/>
<line x1="407.82" y1="961.8" x2="407.82" y2="966.8" stroke="#111111" stroke-width="2.8"/>
<line x1="407.82" y1="1791.8" x2="407.82" y2="1786.8" stroke="#111111" stroke-width="2.8"/>
<line x1="445.58" y1="961.8" x2="445.58" y2="966.8" stroke="#111111" stroke-width="2.8"/>
<line x1="445.58" y1="1791.8" x2="445.58" y2="1786.8" stroke="#111111" stroke-width="2.8"/>
<line x1="483.34" y1="961.8" x2="483.34" y2="966.8" stroke="#111111" stroke-width="2.8"/>
<line x1="483.34" y1="1791.8" x2="483.34" y2="1786.8" stroke="#111111" stroke-width="2.8"/>
<line x1="521.10" y1="961.8" x2="521.10" y2="972.3" stroke="#111111" stroke-width="2.8"/>
<line x1="521.10" y1="1791.8" x2="521.10" y2="1781.3" stroke="#111111" stroke-width="2.8"/>
<line x1="558.86" y1="961.8" x2="558.86" y2="966.8" stroke="#111111" stroke-width="2.8"/>
<line x1="558.86" y1="1791.8" x2="558.86" y2="1786.8" stroke="#111111" stroke-width="2.8"/>
<line x1="596.62" y1="961.8" x2="596.62" y2="966.8" stroke="#111111" stroke-width="2.8"/>
<line x1="596.62" y1="1791.8" x2="596.62" y2="1786.8" stroke="#111111" stroke-width="2.8"/>
<line x1="634.38" y1="961.8" x2="634.38" y2="966.8" stroke="#111111" stroke-width="2.8"/>
<line x1="634.38" y1="1791.8" x2="634.38" y2="1786.8" stroke="#111111" stroke-width="2.8"/>
<line x1="672.14" y1="961.8" x2="672.14" y2="966.8" stroke="#111111" stroke-width="2.8"/>
<line x1="672.14" y1="1791.8" x2="672.14" y2="1786.8" stroke="#111111" stroke-width="2.8"/>
<line x1="709.90" y1="961.8" x2="709.90" y2="972.3" stroke="#111111" stroke-width="2.8"/>
<line x1="709.90" y1="1791.8" x2="709.90" y2="1781.3" stroke="#111111" stroke-width="2.8"/>
<line x1="747.66" y1="961.8" x2="747.66" y2="966.8" stroke="#111111" stroke-width="2.8"/>
<line x1="747.66" y1="1791.8" x2="747.66" y2="1786.8" stroke="#111111" stroke-width="2.8"/>
<line x1="785.42" y1="961.8" x2="785.42" y2="966.8" stroke="#111111" stroke-width="2.8"/>
<line x1="785.42" y1="1791.8" x2="785.42" y2="1786.8" stroke="#111111" stroke-width="2.8"/>
<line x1="823.18" y1="961.8" x2="823.18" y2="966.8" stroke="#111111" stroke-width="2.8"/>
<line x1="823.18" y1="1791.8" x2="823.18" y2="1786.8" stroke="#111111" stroke-width="2.8"/>
<line x1="860.94" y1="961.8" x2="860.94" y2="966.8" stroke="#111111" stroke-width="2.8"/>
<line x1="860.94" y1="1791.8" x2="860.94" y2="1786.8" stroke="#111111" stroke-width="2.8"/>
<line x1="898.70" y1="961.8" x2="898.70" y2="972.3" stroke="#111111" stroke-width="2.8"/>
<line x1="898.70" y1="1791.8" x2="898.70" y2="1781.3" stroke="#111111" stroke-width="2.8"/>
<line x1="936.46" y1="961.8" x2="936.46" y2="966.8" stroke="#111111" stroke-width="2.8"/>
<line x1="936.46" y1="1791.8" x2="936.46" y2="1786.8" stroke="#111111" stroke-width="2.8"/>
<line x1="974.22" y1="961.8" x2="974.22" y2="966.8" stroke="#111111" stroke-width="2.8"/>
<line x1="974.22" y1="1791.8" x2="974.22" y2="1786.8" stroke="#111111" stroke-width="2.8"/>
<line x1="1011.98" y1="961.8" x2="1011.98" y2="966.8" stroke="#111111" stroke-width="2.8"/>
<line x1="1011.98" y1="1791.8" x2="1011.98" y2="1786.8" stroke="#111111" stroke-width="2.8"/>
<line x1="1049.74" y1="961.8" x2="1049.74" y2="966.8" stroke="#111111" stroke-width="2.8"/>
<line x1="1049.74" y1="1791.8" x2="1049.74" y2="1786.8" stroke="#111111" stroke-width="2.8"/>
<line x1="1087.50" y1="961.8" x2="1087.50" y2="972.3" stroke="#111111" stroke-width="2.8"/>
<line x1="1087.50" y1="1791.8" x2="1087.50" y2="1781.3" stroke="#111111" stroke-width="2.8"/>
<line x1="1125.26" y1="961.8" x2="1125.26" y2="966.8" stroke="#111111" stroke-width="2.8"/>
<line x1="1125.26" y1="1791.8" x2="1125.26" y2="1786.8" stroke="#111111" stroke-width="2.8"/>
<line x1="1163.02" y1="961.8" x2="1163.02" y2="966.8" stroke="#111111" stroke-width="2.8"/>
<line x1="1163.02" y1="1791.8" x2="1163.02" y2="1786.8" stroke="#111111" stroke-width="2.8"/>
<line x1="1200.78" y1="961.8" x2="1200.78" y2="966.8" stroke="#111111" stroke-width="2.8"/>
<line x1="1200.78" y1="1791.8" x2="1200.78" y2="1786.8" stroke="#111111" stroke-width="2.8"/>
<line x1="1238.54" y1="961.8" x2="1238.54" y2="966.8" stroke="#111111" stroke-width="2.8"/>
<line x1="1238.54" y1="1791.8" x2="1238.54" y2="1786.8" stroke="#111111" stroke-width="2.8"/>
<line x1="1276.30" y1="961.8" x2="1276.30" y2="972.3" stroke="#111111" stroke-width="2.8"/>
<line x1="1276.30" y1="1791.8" x2="1276.30" y2="1781.3" stroke="#111111" stroke-width="2.8"/>
<line x1="1314.06" y1="961.8" x2="1314.06" y2="966.8" stroke="#111111" stroke-width="2.8"/>
<line x1="1314.06" y1="1791.8" x2="1314.06" y2="1786.8" stroke="#111111" stroke-width="2.8"/>
<line x1="1351.82" y1="961.8" x2="1351.82" y2="966.8" stroke="#111111" stroke-width="2.8"/>
<line x1="1351.82" y1="1791.8" x2="1351.82" y2="1786.8" stroke="#111111" stroke-width="2.8"/>
<line x1="1389.58" y1="961.8" x2="1389.58" y2="966.8" stroke="#111111" stroke-width="2.8"/>
<line x1="1389.58" y1="1791.8" x2="1389.58" y2="1786.8" stroke="#111111" stroke-width="2.8"/>
<line x1="143.5" y1="1764.33" x2="148.5" y2="1764.33" stroke="#111111" stroke-width="2.8"/>
<line x1="1389.3" y1="1764.33" x2="1384.3" y2="1764.33" stroke="#111111" stroke-width="2.8"/>
<line x1="143.5" y1="1736.67" x2="148.5" y2="1736.67" stroke="#111111" stroke-width="2.8"/>
<line x1="1389.3" y1="1736.67" x2="1384.3" y2="1736.67" stroke="#111111" stroke-width="2.8"/>
<line x1="143.5" y1="1709.00" x2="148.5" y2="1709.00" stroke="#111111" stroke-width="2.8"/>
<line x1="1389.3" y1="1709.00" x2="1384.3" y2="1709.00" stroke="#111111" stroke-width="2.8"/>
<line x1="143.5" y1="1681.33" x2="148.5" y2="1681.33" stroke="#111111" stroke-width="2.8"/>
<line x1="1389.3" y1="1681.33" x2="1384.3" y2="1681.33" stroke="#111111" stroke-width="2.8"/>
<line x1="143.5" y1="1653.67" x2="154.5" y2="1653.67" stroke="#111111" stroke-width="2.8"/>
<line x1="1389.3" y1="1653.67" x2="1378.3" y2="1653.67" stroke="#111111" stroke-width="2.8"/>
<line x1="143.5" y1="1626.00" x2="148.5" y2="1626.00" stroke="#111111" stroke-width="2.8"/>
<line x1="1389.3" y1="1626.00" x2="1384.3" y2="1626.00" stroke="#111111" stroke-width="2.8"/>
<line x1="143.5" y1="1598.33" x2="148.5" y2="1598.33" stroke="#111111" stroke-width="2.8"/>
<line x1="1389.3" y1="1598.33" x2="1384.3" y2="1598.33" stroke="#111111" stroke-width="2.8"/>
<line x1="143.5" y1="1570.67" x2="148.5" y2="1570.67" stroke="#111111" stroke-width="2.8"/>
<line x1="1389.3" y1="1570.67" x2="1384.3" y2="1570.67" stroke="#111111" stroke-width="2.8"/>
<line x1="143.5" y1="1543.00" x2="148.5" y2="1543.00" stroke="#111111" stroke-width="2.8"/>
<line x1="1389.3" y1="1543.00" x2="1384.3" y2="1543.00" stroke="#111111" stroke-width="2.8"/>
<line x1="143.5" y1="1515.33" x2="154.5" y2="1515.33" stroke="#111111" stroke-width="2.8"/>
<line x1="1389.3" y1="1515.33" x2="1378.3" y2="1515.33" stroke="#111111" stroke-width="2.8"/>
<line x1="143.5" y1="1487.67" x2="148.5" y2="1487.67" stroke="#111111" stroke-width="2.8"/>
<line x1="1389.3" y1="1487.67" x2="1384.3" y2="1487.67" stroke="#111111" stroke-width="2.8"/>
<line x1="143.5" y1="1460.00" x2="148.5" y2="1460.00" stroke="#111111" stroke-width="2.8"/>
<line x1="1389.3" y1="1460.00" x2="1384.3" y2="1460.00" stroke="#111111" stroke-width="2.8"/>
<line x1="143.5" y1="1432.33" x2="148.5" y2="1432.33" stroke="#111111" stroke-width="2.8"/>
<line x1="1389.3" y1="1432.33" x2="1384.3" y2="1432.33" stroke="#111111" stroke-width="2.8"/>
<line x1="143.5" y1="1404.67" x2="148.5" y2="1404.67" stroke="#111111" stroke-width="2.8"/>
<line x1="1389.3" y1="1404.67" x2="1384.3" y2="1404.67" stroke="#111111" stroke-width="2.8"/>
<line x1="143.5" y1="1377.00" x2="154.5" y2="1377.00" stroke="#111111" stroke-width="2.8"/>
<line x1="1389.3" y1="1377.00" x2="1378.3" y2="1377.00" stroke="#111111" stroke-width="2.8"/>
<line x1="143.5" y1="1349.33" x2="148.5" y2="1349.33" stroke="#111111" stroke-width="2.8"/>
<line x1="1389.3" y1="1349.33" x2="1384.3" y2="1349.33" stroke="#111111" stroke-width="2.8"/>
<line x1="143.5" y1="1321.67" x2="148.5" y2="1321.67" stroke="#111111" stroke-width="2.8"/>
<line x1="1389.3" y1="1321.67" x2="1384.3" y2="1321.67" stroke="#111111" stroke-width="2.8"/>
<line x1="143.5" y1="1294.00" x2="148.5" y2="1294.00" stroke="#111111" stroke-width="2.8"/>
<line x1="1389.3" y1="1294.00" x2="1384.3" y2="1294.00" stroke="#111111" stroke-width="2.8"/>
<line x1="143.5" y1="1266.33" x2="148.5" y2="1266.33" stroke="#111111" stroke-width="2.8"/>
<line x1="1389.3" y1="1266.33" x2="1384.3" y2="1266.33" stroke="#111111" stroke-width="2.8"/>
<line x1="143.5" y1="1238.67" x2="154.5" y2="1238.67" stroke="#111111" stroke-width="2.8"/>
<line x1="1389.3" y1="1238.67" x2="1378.3" y2="1238.67" stroke="#111111" stroke-width="2.8"/>
<line x1="143.5" y1="1211.00" x2="148.5" y2="1211.00" stroke="#111111" stroke-width="2.8"/>
<line x1="1389.3" y1="1211.00" x2="1384.3" y2="1211.00" stroke="#111111" stroke-width="2.8"/>
<line x1="143.5" y1="1183.33" x2="148.5" y2="1183.33" stroke="#111111" stroke-width="2.8"/>
<line x1="1389.3" y1="1183.33" x2="1384.3" y2="1183.33" stroke="#111111" stroke-width="2.8"/>
<line x1="143.5" y1="1155.67" x2="148.5" y2="1155.67" stroke="#111111" stroke-width="2.8"/>
<line x1="1389.3" y1="1155.67" x2="1384.3" y2="1155.67" stroke="#111111" stroke-width="2.8"/>
<line x1="143.5" y1="1128.00" x2="148.5" y2="1128.00" stroke="#111111" stroke-width="2.8"/>
<line x1="1389.3" y1="1128.00" x2="1384.3" y2="1128.00" stroke="#111111" stroke-width="2.8"/>
<line x1="143.5" y1="1100.34" x2="154.5" y2="1100.34" stroke="#111111" stroke-width="2.8"/>
<line x1="1389.3" y1="1100.34" x2="1378.3" y2="1100.34" stroke="#111111" stroke-width="2.8"/>
<line x1="143.5" y1="1072.67" x2="148.5" y2="1072.67" stroke="#111111" stroke-width="2.8"/>
<line x1="1389.3" y1="1072.67" x2="1384.3" y2="1072.67" stroke="#111111" stroke-width="2.8"/>
<line x1="143.5" y1="1045.00" x2="148.5" y2="1045.00" stroke="#111111" stroke-width="2.8"/>
<line x1="1389.3" y1="1045.00" x2="1384.3" y2="1045.00" stroke="#111111" stroke-width="2.8"/>
<line x1="143.5" y1="1017.34" x2="148.5" y2="1017.34" stroke="#111111" stroke-width="2.8"/>
<line x1="1389.3" y1="1017.34" x2="1384.3" y2="1017.34" stroke="#111111" stroke-width="2.8"/>
<line x1="143.5" y1="989.67" x2="148.5" y2="989.67" stroke="#111111" stroke-width="2.8"/>
<line x1="1389.3" y1="989.67" x2="1384.3" y2="989.67" stroke="#111111" stroke-width="2.8"/>
<line x1="143.5" y1="1036.50" x2="1333.7" y2="1036.50" stroke="#333333" stroke-width="3.0"/>
<path d="M143.50,1792.00 L143.82,1789.97 L144.14,1787.95 L144.46,1785.94 L144.78,1783.94 L145.10,1781.95 L145.42,1779.97 L145.74,1778.00 L146.06,1776.04 L146.38,1774.08 L146.70,1772.14 L147.02,1770.21 L147.34,1768.29 L147.66,1766.37 L147.98,1764.47 L148.30,1762.58 L148.62,1760.69 L148.94,1758.82 L149.26,1756.95 L149.58,1755.10 L149.90,1753.25 L150.22,1751.41 L150.54,1749.59 L150.86,1747.77 L151.18,1745.96 L151.50,1744.16 L151.82,1742.37 L152.14,1740.59 L152.46,1738.81 L152.78,1737.05 L153.10,1735.29 L153.42,1733.55 L153.74,1731.81 L154.06,1730.09 L154.38,1728.37 L154.70,1726.66 L155.02,1724.96 L155.34,1723.26 L155.66,1721.58 L155.98,1719.91 L156.30,1718.24 L156.62,1716.59 L156.94,1714.94 L157.26,1713.30 L157.58,1711.67 L157.90,1710.04 L158.22,1708.43 L158.54,1706.83 L158.86,1705.23 L159.18,1703.64 L159.50,1702.06 L159.82,1700.49 L160.14,1698.93 L160.46,1697.37 L160.78,1695.82 L161.10,1694.29 L161.42,1692.76 L161.74,1691.23 L162.06,1689.72 L162.38,1688.22 L162.38,1688.22 L165.32,1674.78 L168.25,1662.00 L171.19,1649.86 L174.12,1638.32 L177.06,1627.37 L179.99,1616.98 L182.93,1607.12 L185.87,1597.78 L188.80,1588.92 L191.74,1580.53 L194.67,1572.57 L197.61,1565.02 L200.54,1557.86 L203.48,1551.07 L206.41,1544.61 L209.35,1538.48 L212.29,1532.66 L215.22,1527.13 L218.16,1521.90 L221.09,1516.95 L224.03,1512.27 L226.96,1507.85 L229.90,1503.68 L232.84,1499.75 L235.77,1496.04 L238.71,1492.56 L241.64,1489.29 L244.58,1486.22 L247.51,1483.34 L250.45,1480.64 L253.38,1478.10 L256.32,1475.73 L259.26,1473.51 L262.19,1471.42 L265.13,1469.47 L268.06,1467.63 L271.00,1465.90 L273.93,1464.27 L276.87,1462.73 L279.81,1461.27 L282.74,1459.88 L285.68,1458.55 L288.61,1457.26 L291.55,1456.01 L294.48,1454.79 L297.42,1453.59 L300.36,1452.40 L303.29,1451.22 L306.23,1450.04 L309.16,1448.86 L312.10,1447.69 L315.03,1446.53 L317.97,1445.37 L320.90,1444.22 L323.84,1443.08 L326.78,1441.94 L329.71,1440.80 L332.65,1439.67 L335.58,1438.55 L338.52,1437.43 L341.45,1436.32 L344.39,1435.21 L347.33,1434.11 L350.26,1433.01 L353.20,1431.92 L356.13,1430.83 L359.07,1429.75 L362.00,1428.68 L364.94,1427.61 L367.87,1426.55 L370.81,1425.49 L373.75,1424.43 L376.68,1423.39 L379.62,1422.34 L382.55,1421.30 L385.49,1420.27 L388.42,1419.24 L391.36,1418.22 L394.30,1417.21 L397.23,1416.19 L400.17,1415.19 L403.10,1414.18 L406.04,1413.19 L408.97,1412.20 L411.91,1411.21 L414.84,1410.23 L417.78,1409.25 L420.72,1408.28 L423.65,1407.31 L426.59,1406.35 L429.52,1405.40 L432.46,1404.44 L435.39,1403.50 L438.33,1402.56 L441.27,1401.62 L444.20,1400.69 L447.14,1399.76 L450.07,1398.84 L453.01,1397.92 L455.94,1397.01 L458.88,1396.10 L461.82,1395.19 L464.75,1394.30 L467.69,1393.40 L470.62,1392.51 L473.56,1391.63 L476.49,1390.75 L479.43,1389.87 L482.36,1389.00 L485.30,1388.13 L488.24,1387.27 L491.17,1386.41 L494.11,1385.56 L497.04,1384.71 L499.98,1383.87 L502.91,1383.03 L505.85,1382.19 L508.79,1381.36 L511.72,1380.54 L514.66,1379.72 L517.59,1378.90 L520.53,1378.09 L523.46,1377.28 L526.40,1376.47 L529.33,1375.67 L532.27,1374.88 L535.21,1374.09 L538.14,1373.30 L541.08,1372.52 L544.01,1371.74 L546.95,1370.96 L549.88,1370.19 L552.82,1369.42 L555.76,1368.66 L558.69,1367.90 L561.63,1367.15 L564.56,1366.40 L567.50,1365.65 L570.43,1364.91 L573.37,1364.17 L576.31,1363.44 L579.24,1362.71 L582.18,1361.98 L585.11,1361.26 L588.05,1360.54 L590.98,1359.83 L593.92,1359.12 L596.85,1358.41 L599.79,1357.71 L602.73,1357.01 L605.66,1356.31 L608.60,1355.62 L611.53,1354.94 L614.47,1354.25 L617.40,1353.57 L620.34,1352.90 L623.28,1352.22 L626.21,1351.55 L629.15,1350.89 L632.08,1350.23 L635.02,1349.57 L637.95,1348.91 L640.89,1348.26 L643.82,1347.62 L646.76,1346.97 L649.70,1346.33 L652.63,1345.69 L655.57,1345.06 L658.50,1344.43 L661.44,1343.80 L664.37,1343.18 L667.31,1342.56 L670.25,1341.94 L673.18,1341.33 L676.12,1340.72 L679.05,1340.12 L681.99,1339.51 L684.92,1338.91 L687.86,1338.32 L690.80,1337.72 L693.73,1337.13 L696.67,1336.55 L699.60,1335.96 L702.54,1335.38 L705.47,1334.81 L708.41,1334.23 L711.34,1333.66 L714.28,1333.09 L717.22,1332.53 L720.15,1331.97 L723.09,1331.41 L726.02,1330.85 L728.96,1330.30 L731.89,1329.75 L734.83,1329.20 L737.77,1328.66 L740.70,1328.12 L743.64,1327.58 L746.57,1327.05 L749.51,1326.51 L752.44,1325.99 L755.38,1325.46 L758.31,1324.94 L761.25,1324.41 L764.19,1323.90 L767.12,1323.38 L770.06,1322.87 L772.99,1322.36 L775.93,1321.85 L778.86,1321.35 L781.80,1320.85 L784.74,1320.35 L787.67,1319.85 L790.61,1319.36 L793.54,1318.87 L796.48,1318.38 L799.41,1317.89 L802.35,1317.41 L805.28,1316.93 L808.22,1316.45 L811.16,1315.97 L814.09,1315.50 L817.03,1315.03 L819.96,1314.56 L822.90,1314.09 L825.83,1313.63 L828.77,1313.17 L831.71,1312.71 L834.64,1312.25 L837.58,1311.80 L840.51,1311.34 L843.45,1310.89 L846.38,1310.44 L849.32,1310.00 L852.26,1309.56 L855.19,1309.11 L858.13,1308.68 L861.06,1308.24 L864.00,1307.80 L866.93,1307.37 L869.87,1306.94 L872.80,1306.51 L875.74,1306.09 L878.68,1305.66 L881.61,1305.24 L884.55,1304.82 L887.48,1304.40 L890.42,1303.99 L893.35,1303.57 L896.29,1303.16 L899.23,1302.75 L902.16,1302.34 L905.10,1301.93 L908.03,1301.53 L910.97,1301.12 L913.90,1300.72 L916.84,1300.32 L919.77,1299.93 L922.71,1299.53 L925.65,1299.14 L928.58,1298.74 L931.52,1298.35 L934.45,1297.96 L937.39,1297.58 L940.32,1297.19 L943.26,1296.81 L946.20,1296.42 L949.13,1296.04 L952.07,1295.66 L955.00,1295.29 L957.94,1294.91 L960.87,1294.54 L963.81,1294.16 L966.75,1293.79 L969.68,1293.42 L972.62,1293.05 L975.55,1292.68 L978.49,1292.32 L981.42,1291.95 L984.36,1291.59 L987.29,1291.23 L990.23,1290.87 L993.17,1290.51 L996.10,1290.15 L999.04,1289.79 L1001.97,1289.44 L1004.91,1289.08 L1007.84,1288.73 L1010.78,1288.38 L1013.72,1288.03 L1016.65,1287.68 L1019.59,1287.33 L1022.52,1286.98 L1025.46,1286.64 L1028.39,1286.29 L1031.33,1285.95 L1034.26,1285.60 L1037.20,1285.26 L1040.14,1284.92 L1043.07,1284.58 L1046.01,1284.24 L1048.94,1283.91 L1051.88,1283.57 L1054.81,1283.23 L1057.75,1282.90 L1060.69,1282.56 L1063.62,1282.23 L1066.56,1281.90 L1069.49,1281.56 L1072.43,1281.23 L1075.36,1280.90 L1078.30,1280.57 L1081.24,1280.24 L1084.17,1279.92 L1087.11,1279.59 L1090.04,1279.26 L1092.98,1278.94 L1095.91,1278.61 L1098.85,1278.29 L1101.78,1277.96 L1104.72,1277.64 L1107.66,1277.31 L1110.59,1276.99 L1113.53,1276.67 L1116.46,1276.35 L1119.40,1276.03 L1122.33,1275.71 L1125.27,1275.39 L1128.21,1275.07 L1131.14,1274.75 L1134.08,1274.43 L1137.01,1274.11 L1139.95,1273.79 L1142.88,1273.48 L1145.82,1273.16 L1148.75,1272.84 L1151.69,1272.52 L1154.63,1272.21 L1157.56,1271.89 L1160.50,1271.58 L1163.43,1271.26 L1166.37,1270.94 L1169.30,1270.63 L1172.24,1270.31 L1175.18,1270.00 L1178.11,1269.68 L1181.05,1269.37 L1183.98,1269.05 L1186.92,1268.74 L1189.85,1268.42 L1192.79,1268.11 L1195.72,1267.80 L1198.66,1267.48 L1201.60,1267.17 L1204.53,1266.85 L1207.47,1266.54 L1210.40,1266.22 L1213.34,1265.91 L1216.27,1265.59 L1219.21,1265.28 L1222.15,1264.96 L1225.08,1264.65 L1228.02,1264.33 L1230.95,1264.02 L1233.89,1263.70 L1236.82,1263.39 L1239.76,1263.08 L1242.70,1262.76 L1245.63,1262.45 L1248.57,1262.13 L1251.50,1261.82 L1254.44,1261.50 L1257.37,1261.19 L1260.31,1260.87 L1263.24,1260.56 L1266.18,1260.24 L1269.12,1259.93 L1272.05,1259.61 L1274.99,1259.30 L1277.92,1258.98 L1280.86,1258.67 L1283.79,1258.35 L1286.73,1258.04 L1289.67,1257.73 L1292.60,1257.41 L1295.54,1257.10 L1298.47,1256.78 L1301.41,1256.47 L1304.34,1256.15 L1307.28,1255.84 L1310.21,1255.52 L1313.15,1255.21 L1316.09,1254.89 L1319.02,1254.58 L1321.96,1254.26 L1324.89,1253.95 L1327.83,1253.63 L1330.76,1253.32 L1333.70,1253.01" fill="none" stroke="#5aa55a" stroke-width="2.3" stroke-linejoin="round"/>
<path d="M143.50,1792.00 L143.82,1790.29 L144.14,1788.59 L144.46,1786.90 L144.78,1785.22 L145.10,1783.54 L145.42,1781.87 L145.74,1780.20 L146.06,1778.55 L146.38,1776.90 L146.70,1775.26 L147.02,1773.63 L147.34,1772.00 L147.66,1770.38 L147.98,1768.77 L148.30,1767.16 L148.62,1765.57 L148.94,1763.98 L149.26,1762.39 L149.58,1760.82 L149.90,1759.25 L150.22,1757.69 L150.54,1756.14 L150.86,1754.59 L151.18,1753.05 L151.50,1751.52 L151.82,1749.99 L152.14,1748.47 L152.46,1746.96 L152.78,1745.45 L153.10,1743.96 L153.42,1742.47 L153.74,1740.98 L154.06,1739.51 L154.38,1738.04 L154.70,1736.57 L155.02,1735.12 L155.34,1733.67 L155.66,1732.23 L155.98,1730.79 L156.30,1729.36 L156.62,1727.94 L156.94,1726.52 L157.26,1725.12 L157.58,1723.72 L157.90,1722.32 L158.22,1720.93 L158.54,1719.55 L158.86,1718.18 L159.18,1716.81 L159.50,1715.45 L159.82,1714.09 L160.14,1712.75 L160.46,1711.41 L160.78,1710.07 L161.10,1708.74 L161.42,1707.42 L161.74,1706.11 L162.06,1704.80 L162.38,1703.50 L162.38,1703.50 L165.32,1691.86 L168.25,1680.75 L171.19,1670.17 L174.12,1660.10 L177.06,1650.53 L179.99,1641.44 L182.93,1632.82 L185.87,1624.67 L188.80,1616.96 L191.74,1609.68 L194.67,1602.83 L197.61,1596.39 L200.54,1590.34 L203.48,1584.68 L206.41,1579.39 L209.35,1574.46 L212.29,1569.88 L215.22,1565.62 L218.16,1561.69 L221.09,1558.07 L224.03,1554.75 L226.96,1551.71 L229.90,1548.93 L232.84,1546.42 L235.77,1544.15 L238.71,1542.12 L241.64,1540.30 L244.58,1538.70 L247.51,1537.28 L250.45,1536.05 L253.38,1534.99 L256.32,1534.09 L259.26,1533.33 L262.19,1532.71 L265.13,1532.20 L268.06,1531.80 L271.00,1531.49 L273.93,1531.27 L276.87,1531.11 L279.81,1531.01 L282.74,1530.96 L285.68,1530.93 L288.61,1530.92 L291.55,1530.92 L294.48,1530.92 L297.42,1530.92 L300.36,1530.92 L303.29,1530.92 L306.23,1530.92 L309.16,1530.92 L312.10,1530.92 L315.03,1530.92 L317.97,1530.92 L320.90,1530.92 L323.84,1530.92 L326.78,1530.92 L329.71,1530.92 L332.65,1530.92 L335.58,1530.92 L338.52,1530.92 L341.45,1530.92 L344.39,1530.92 L347.33,1530.92 L350.26,1530.92 L353.20,1530.92 L356.13,1530.92 L359.07,1530.92 L362.00,1530.92 L364.94,1530.92 L367.87,1530.92 L370.81,1530.92 L373.75,1530.92 L376.68,1530.92 L379.62,1530.92 L382.55,1530.92 L385.49,1530.92 L388.42,1530.92 L391.36,1530.92 L394.30,1530.92 L397.23,1530.92 L400.17,1530.92 L403.10,1530.92 L406.04,1530.92 L408.97,1530.92 L411.91,1530.92 L414.84,1530.92 L417.78,1530.92 L420.72,1530.92 L423.65,1530.92 L426.59,1530.92 L429.52,1530.92 L432.46,1530.92 L435.39,1530.92 L438.33,1530.92 L441.27,1530.92 L444.20,1530.92 L447.14,1530.92 L450.07,1530.92 L453.01,1530.92 L455.94,1530.92 L458.88,1530.92 L461.82,1530.92 L464.75,1530.92 L467.69,1530.92 L470.62,1530.92 L473.56,1530.92 L476.49,1530.92 L479.43,1530.92 L482.36,1530.92 L485.30,1530.92 L488.24,1530.92 L491.17,1530.92 L494.11,1530.92 L497.04,1530.92 L499.98,1530.92 L502.91,1530.92 L505.85,1530.92 L508.79,1530.92 L511.72,1530.92 L514.66,1530.92 L517.59,1530.92 L520.53,1530.92 L523.46,1530.92 L526.40,1530.92 L529.33,1530.92 L532.27,1530.92 L535.21,1530.92 L538.14,1530.92 L541.08,1530.92 L544.01,1530.92 L546.95,1530.92 L549.88,1530.92 L552.82,1530.92 L555.76,1530.92 L558.69,1530.92 L561.63,1530.92 L564.56,1530.92 L567.50,1530.92 L570.43,1530.92 L573.37,1530.92 L576.31,1530.92 L579.24,1530.92 L582.18,1530.92 L585.11,1530.92 L588.05,1530.92 L590.98,1530.92 L593.92,1530.92 L596.85,1530.92 L599.79,1530.92 L602.73,1530.92 L605.66,1530.92 L608.60,1530.92 L611.53,1530.92 L614.47,1530.92 L617.40,1530.92 L620.34,1530.92 L623.28,1530.92 L626.21,1530.92 L629.15,1530.92 L632.08,1530.92 L635.02,1530.92 L637.95,1530.92 L640.89,1530.92 L643.82,1530.92 L646.76,1530.92 L649.70,1530.92 L652.63,1530.92 L655.57,1530.92 L658.50,1530.92 L661.44,1530.92 L664.37,1530.92 L667.31,1530.92 L670.25,1530.92 L673.18,1530.92 L676.12,1530.92 L679.05,1530.92 L681.99,1530.92 L684.92,1530.92 L687.86,1530.92 L690.80,1530.92 L693.73,1530.92 L696.67,1530.92 L699.60,1530.92 L702.54,1530.92 L705.47,1530.92 L708.41,1530.92 L711.34,1530.92 L714.28,1530.92 L717.22,1530.92 L720.15,1530.92 L723.09,1530.92 L726.02,1530.92 L728.96,1530.92 L731.89,1530.92 L734.83,1530.92 L737.77,1530.92 L740.70,1530.92 L743.64,1530.92 L746.57,1530.92 L749.51,1530.92 L752.44,1530.92 L755.38,1530.92 L758.31,1530.92 L761.25,1530.92 L764.19,1530.92 L767.12,1530.92 L770.06,1530.92 L772.99,1530.92 L775.93,1530.92 L778.86,1530.92 L781.80,1530.92 L784.74,1530.92 L787.67,1530.92 L790.61,1530.92 L793.54,1530.92 L796.48,1530.92 L799.41,1530.92 L802.35,1530.92 L805.28,1530.92 L808.22,1530.92 L811.16,1530.92 L814.09,1530.92 L817.03,1530.92 L819.96,1530.92 L822.90,1530.92 L825.83,1530.92 L828.77,1530.92 L831.71,1530.92 L834.64,1530.92 L837.58,1530.92 L840.51,1530.92 L843.45,1530.92 L846.38,1530.92 L849.32,1530.92 L852.26,1530.92 L855.19,1530.92 L858.13,1530.92 L861.06,1530.92 L864.00,1530.92 L866.93,1530.92 L869.87,1530.92 L872.80,1530.92 L875.74,1530.92 L878.68,1530.92 L881.61,1530.92 L884.55,1530.92 L887.48,1530.92 L890.42,1530.92 L893.35,1530.92 L896.29,1530.92 L899.23,1530.92 L902.16,1530.92 L905.10,1530.92 L908.03,1530.92 L910.97,1530.92 L913.90,1530.92 L916.84,1530.92 L919.77,1530.92 L922.71,1530.92 L925.65,1530.92 L928.58,1530.92 L931.52,1530.92 L934.45,1530.92 L937.39,1530.92 L940.32,1530.92 L943.26,1530.92 L946.20,1530.92 L949.13,1530.92 L952.07,1530.92 L955.00,1530.92 L957.94,1530.92 L960.87,1530.92 L963.81,1530.92 L966.75,1530.92 L969.68,1530.92 L972.62,1530.92 L975.55,1530.92 L978.49,1530.92 L981.42,1530.92 L984.36,1530.92 L987.29,1530.92 L990.23,1530.92 L993.17,1530.92 L996.10,1530.92 L999.04,1530.92 L1001.97,1530.92 L1004.91,1530.92 L1007.84,1530.92 L1010.78,1530.92 L1013.72,1530.92 L1016.65,1530.92 L1019.59,1530.92 L1022.52,1530.92 L1025.46,1530.92 L1028.39,1530.92 L1031.33,1530.92 L1034.26,1530.92 L1037.20,1530.92 L1040.14,1530.92 L1043.07,1530.92 L1046.01,1530.92 L1048.94,1530.92 L1051.88,1530.92 L1054.81,1530.92 L1057.75,1530.92 L1060.69,1530.92 L1063.62,1530.92 L1066.56,1530.92 L1069.49,1530.92 L1072.43,1530.92 L1075.36,1530.92 L1078.30,1530.92 L1081.24,1530.92 L1084.17,1530.92 L1087.11,1530.92 L1090.04,1530.92 L1092.98,1530.92 L1095.91,1530.92 L1098.85,1530.92 L1101.78,1530.92 L1104.72,1530.92 L1107.66,1530.92 L1110.59,1530.92 L1113.53,1530.92 L1116.46,1530.92 L1119.40,1530.92 L1122.33,1530.92 L1125.27,1530.92 L1128.21,1530.92 L1131.14,1530.92 L1134.08,1530.92 L1137.01,1530.92 L1139.95,1530.92 L1142.88,1530.92 L1145.82,1530.92 L1148.75,1530.92 L1151.69,1530.92 L1154.63,1530.92 L1157.56,1530.92 L1160.50,1530.92 L1163.43,1530.92 L1166.37,1530.92 L1169.30,1530.92 L1172.24,1530.92 L1175.18,1530.92 L1178.11,1530.92 L1181.05,1530.92 L1183.98,1530.92 L1186.92,1530.92 L1189.85,1530.92 L1192.79,1530.92 L1195.72,1530.92 L1198.66,1530.92 L1201.60,1530.92 L1204.53,1530.92 L1207.47,1530.92 L1210.40,1530.92 L1213.34,1530.92 L1216.27,1530.92 L1219.21,1530.92 L1222.15,1530.92 L1225.08,1530.92 L1228.02,1530.92 L1230.95,1530.92 L1233.89,1530.92 L1236.82,1530.92 L1239.76,1530.92 L1242.70,1530.92 L1245.63,1530.92 L1248.57,1530.92 L1251.50,1530.92 L1254.44,1530.92 L1257.37,1530.92 L1260.31,1530.92 L1263.24,1530.92 L1266.18,1530.92 L1269.12,1530.92 L1272.05,1530.92 L1274.99,1530.92 L1277.92,1530.92 L1280.86,1530.92 L1283.79,1530.92 L1286.73,1530.92 L1289.67,1530.92 L1292.60,1530.92 L1295.54,1530.92 L1298.47,1530.92 L1301.41,1530.92 L1304.34,1530.92 L1307.28,1530.92 L1310.21,1530.92 L1313.15,1530.92 L1316.09,1530.92 L1319.02,1530.92 L1321.96,1530.92 L1324.89,1530.92 L1327.83,1530.92 L1330.76,1530.92 L1333.70,1530.92" fill="none" stroke="#5aa55a" stroke-width="2.3" stroke-linejoin="round"/>
<path d="M143.50,1792.00 L143.82,1791.82 L144.14,1791.64 L144.46,1791.46 L144.78,1791.28 L145.10,1791.10 L145.42,1790.93 L145.74,1790.75 L146.06,1790.57 L146.38,1790.39 L146.70,1790.22 L147.02,1790.04 L147.34,1789.86 L147.66,1789.69 L147.98,1789.51 L148.30,1789.34 L148.62,1789.16 L148.94,1788.99 L149.26,1788.81 L149.58,1788.64 L149.90,1788.47 L150.22,1788.29 L150.54,1788.12 L150.86,1787.95 L151.18,1787.77 L151.50,1787.60 L151.82,1787.43 L152.14,1787.26 L152.46,1787.09 L152.78,1786.92 L153.10,1786.75 L153.42,1786.58 L153.74,1786.41 L154.06,1786.24 L154.38,1786.07 L154.70,1785.90 L155.02,1785.73 L155.34,1785.56 L155.66,1785.40 L155.98,1785.23 L156.30,1785.06 L156.62,1784.90 L156.94,1784.73 L157.26,1784.56 L157.58,1784.40 L157.90,1784.23 L158.22,1784.07 L158.54,1783.90 L158.86,1783.74 L159.18,1783.57 L159.50,1783.41 L159.82,1783.24 L160.14,1783.08 L160.46,1782.92 L160.78,1782.76 L161.10,1782.59 L161.42,1782.43 L161.74,1782.27 L162.06,1782.11 L162.38,1781.95 L162.38,1781.95 L165.32,1780.48 L168.25,1779.04 L171.19,1777.63 L174.12,1776.24 L177.06,1774.87 L179.99,1773.53 L182.93,1772.21 L185.87,1770.91 L188.80,1769.64 L191.74,1768.39 L194.67,1767.16 L197.61,1765.94 L200.54,1764.75 L203.48,1763.58 L206.41,1762.43 L209.35,1761.30 L212.29,1760.19 L215.22,1759.09 L218.16,1758.01 L221.09,1756.95 L224.03,1755.91 L226.96,1754.88 L229.90,1753.87 L232.84,1752.87 L235.77,1751.89 L238.71,1750.92 L241.64,1749.97 L244.58,1749.03 L247.51,1748.10 L250.45,1747.19 L253.38,1746.28 L256.32,1745.39 L259.26,1744.51 L262.19,1743.65 L265.13,1742.79 L268.06,1741.94 L271.00,1741.10 L273.93,1740.27 L276.87,1739.45 L279.81,1738.64 L282.74,1737.83 L285.68,1737.03 L288.61,1736.24 L291.55,1735.46 L294.48,1734.68 L297.42,1733.90 L300.36,1733.14 L303.29,1732.37 L306.23,1731.61 L309.16,1730.86 L312.10,1730.11 L315.03,1729.37 L317.97,1728.64 L320.90,1727.90 L323.84,1727.18 L326.78,1726.46 L329.71,1725.74 L332.65,1725.03 L335.58,1724.32 L338.52,1723.62 L341.45,1722.93 L344.39,1722.24 L347.33,1721.55 L350.26,1720.87 L353.20,1720.20 L356.13,1719.53 L359.07,1718.86 L362.00,1718.20 L364.94,1717.54 L367.87,1716.89 L370.81,1716.25 L373.75,1715.61 L376.68,1714.97 L379.62,1714.34 L382.55,1713.71 L385.49,1713.09 L388.42,1712.48 L391.36,1711.86 L394.30,1711.26 L397.23,1710.65 L400.17,1710.06 L403.10,1709.46 L406.04,1708.88 L408.97,1708.29 L411.91,1707.71 L414.84,1707.14 L417.78,1706.57 L420.72,1706.00 L423.65,1705.44 L426.59,1704.89 L429.52,1704.34 L432.46,1703.79 L435.39,1703.25 L438.33,1702.71 L441.27,1702.17 L444.20,1701.65 L447.14,1701.12 L450.07,1700.60 L453.01,1700.08 L455.94,1699.57 L458.88,1699.07 L461.82,1698.56 L464.75,1698.06 L467.69,1697.57 L470.62,1697.08 L473.56,1696.59 L476.49,1696.11 L479.43,1695.64 L482.36,1695.16 L485.30,1694.69 L488.24,1694.23 L491.17,1693.77 L494.11,1693.31 L497.04,1692.86 L499.98,1692.41 L502.91,1691.97 L505.85,1691.53 L508.79,1691.09 L511.72,1690.66 L514.66,1690.23 L517.59,1689.81 L520.53,1689.39 L523.46,1688.97 L526.40,1688.56 L529.33,1688.15 L532.27,1687.75 L535.21,1687.35 L538.14,1686.95 L541.08,1686.56 L544.01,1686.17 L546.95,1685.78 L549.88,1685.40 L552.82,1685.02 L555.76,1684.65 L558.69,1684.28 L561.63,1683.91 L564.56,1683.55 L567.50,1683.19 L570.43,1682.83 L573.37,1682.48 L576.31,1682.13 L579.24,1681.79 L582.18,1681.45 L585.11,1681.11 L588.05,1680.77 L590.98,1680.44 L593.92,1680.12 L596.85,1679.79 L599.79,1679.47 L602.73,1679.15 L605.66,1678.84 L608.60,1678.53 L611.53,1678.22 L614.47,1677.92 L617.40,1677.62 L620.34,1677.32 L623.28,1677.03 L626.21,1676.74 L629.15,1676.45 L632.08,1676.17 L635.02,1675.89 L637.95,1675.61 L640.89,1675.34 L643.82,1675.07 L646.76,1674.80 L649.70,1674.54 L652.63,1674.28 L655.57,1674.02 L658.50,1673.76 L661.44,1673.51 L664.37,1673.26 L667.31,1673.02 L670.25,1672.77 L673.18,1672.53 L676.12,1672.30 L679.05,1672.06 L681.99,1671.83 L684.92,1671.60 L687.86,1671.38 L690.80,1671.16 L693.73,1670.94 L696.67,1670.72 L699.60,1670.51 L702.54,1670.30 L705.47,1670.09 L708.41,1669.88 L711.34,1669.68 L714.28,1669.48 L717.22,1669.28 L720.15,1669.09 L723.09,1668.90 L726.02,1668.71 L728.96,1668.52 L731.89,1668.34 L734.83,1668.15 L737.77,1667.98 L740.70,1667.80 L743.64,1667.63 L746.57,1667.46 L749.51,1667.29 L752.44,1667.12 L755.38,1666.96 L758.31,1666.80 L761.25,1666.64 L764.19,1666.48 L767.12,1666.33 L770.06,1666.18 L772.99,1666.03 L775.93,1665.88 L778.86,1665.73 L781.80,1665.59 L784.74,1665.45 L787.67,1665.32 L790.61,1665.18 L793.54,1665.05 L796.48,1664.92 L799.41,1664.79 L802.35,1664.66 L805.28,1664.54 L808.22,1664.41 L811.16,1664.29 L814.09,1664.18 L817.03,1664.06 L819.96,1663.95 L822.90,1663.83 L825.83,1663.72 L828.77,1663.62 L831.71,1663.51 L834.64,1663.41 L837.58,1663.30 L840.51,1663.20 L843.45,1663.11 L846.38,1663.01 L849.32,1662.92 L852.26,1662.82 L855.19,1662.73 L858.13,1662.64 L861.06,1662.56 L864.00,1662.47 L866.93,1662.39 L869.87,1662.31 L872.80,1662.23 L875.74,1662.15 L878.68,1662.07 L881.61,1662.00 L884.55,1661.93 L887.48,1661.85 L890.42,1661.78 L893.35,1661.72 L896.29,1661.65 L899.23,1661.58 L902.16,1661.52 L905.10,1661.46 L908.03,1661.40 L910.97,1661.34 L913.90,1661.28 L916.84,1661.22 L919.77,1661.17 L922.71,1661.12 L925.65,1661.06 L928.58,1661.01 L931.52,1660.96 L934.45,1660.92 L937.39,1660.87 L940.32,1660.83 L943.26,1660.78 L946.20,1660.74 L949.13,1660.70 L952.07,1660.66 L955.00,1660.62 L957.94,1660.58 L960.87,1660.54 L963.81,1660.51 L966.75,1660.47 L969.68,1660.44 L972.62,1660.41 L975.55,1660.38 L978.49,1660.35 L981.42,1660.32 L984.36,1660.29 L987.29,1660.26 L990.23,1660.24 L993.17,1660.21 L996.10,1660.19 L999.04,1660.17 L1001.97,1660.14 L1004.91,1660.12 L1007.84,1660.10 L1010.78,1660.08 L1013.72,1660.07 L1016.65,1660.05 L1019.59,1660.03 L1022.52,1660.01 L1025.46,1660.00 L1028.39,1659.98 L1031.33,1659.97 L1034.26,1659.96 L1037.20,1659.94 L1040.14,1659.93 L1043.07,1659.92 L1046.01,1659.91 L1048.94,1659.90 L1051.88,1659.89 L1054.81,1659.88 L1057.75,1659.87 L1060.69,1659.87 L1063.62,1659.86 L1066.56,1659.85 L1069.49,1659.85 L1072.43,1659.84 L1075.36,1659.84 L1078.30,1659.83 L1081.24,1659.83 L1084.17,1659.82 L1087.11,1659.82 L1090.04,1659.82 L1092.98,1659.81 L1095.91,1659.81 L1098.85,1659.81 L1101.78,1659.81 L1104.72,1659.80 L1107.66,1659.80 L1110.59,1659.80 L1113.53,1659.80 L1116.46,1659.80 L1119.40,1659.80 L1122.33,1659.80 L1125.27,1659.80 L1128.21,1659.80 L1131.14,1659.80 L1134.08,1659.80 L1137.01,1659.80 L1139.95,1659.80 L1142.88,1659.80 L1145.82,1659.80 L1148.75,1659.80 L1151.69,1659.80 L1154.63,1659.80 L1157.56,1659.80 L1160.50,1659.80 L1163.43,1659.80 L1166.37,1659.80 L1169.30,1659.80 L1172.24,1659.80 L1175.18,1659.80 L1178.11,1659.80 L1181.05,1659.80 L1183.98,1659.80 L1186.92,1659.80 L1189.85,1659.80 L1192.79,1659.80 L1195.72,1659.80 L1198.66,1659.80 L1201.60,1659.80 L1204.53,1659.80 L1207.47,1659.80 L1210.40,1659.80 L1213.34,1659.80 L1216.27,1659.80 L1219.21,1659.80 L1222.15,1659.80 L1225.08,1659.80 L1228.02,1659.80 L1230.95,1659.80 L1233.89,1659.80 L1236.82,1659.80 L1239.76,1659.80 L1242.70,1659.80 L1245.63,1659.80 L1248.57,1659.80 L1251.50,1659.80 L1254.44,1659.80 L1257.37,1659.80 L1260.31,1659.80 L1263.24,1659.80 L1266.18,1659.80 L1269.12,1659.80 L1272.05,1659.80 L1274.99,1659.80 L1277.92,1659.80 L1280.86,1659.80 L1283.79,1659.80 L1286.73,1659.80 L1289.67,1659.80 L1292.60,1659.80 L1295.54,1659.80 L1298.47,1659.80 L1301.41,1659.80 L1304.34,1659.80 L1307.28,1659.80 L1310.21,1659.80 L1313.15,1659.80 L1316.09,1659.80 L1319.02,1659.80 L1321.96,1659.80 L1324.89,1659.80 L1327.83,1659.80 L1330.76,1659.80 L1333.70,1659.80" fill="none" stroke="#5aa55a" stroke-width="2.3" stroke-linejoin="round"/>
<path d="M143.50,1792.00 L143.82,1791.73 L144.14,1791.48 L144.46,1791.24 L144.78,1791.01 L145.10,1790.78 L145.42,1790.57 L145.74,1790.37 L146.06,1790.18 L146.38,1790.00 L146.70,1789.83 L147.02,1789.67 L147.34,1789.51 L147.66,1789.37 L147.98,1789.23 L148.30,1789.10 L148.62,1788.97 L148.94,1788.86 L149.26,1788.75 L149.58,1788.64 L149.90,1788.55 L150.22,1788.45 L150.54,1788.37 L150.86,1788.29 L151.18,1788.21 L151.50,1788.14 L151.82,1788.07 L152.14,1788.00 L152.46,1787.94 L152.78,1787.88 L153.10,1787.83 L153.42,1787.78 L153.74,1787.73 L154.06,1787.68 L154.38,1787.63 L154.70,1787.59 L155.02,1787.54 L155.34,1787.50 L155.66,1787.46 L155.98,1787.41 L156.30,1787.37 L156.62,1787.33 L156.94,1787.28 L157.26,1787.24 L157.58,1787.20 L157.90,1787.15 L158.22,1787.11 L158.54,1787.07 L158.86,1787.02 L159.18,1786.98 L159.50,1786.94 L159.82,1786.89 L160.14,1786.85 L160.46,1786.81 L160.78,1786.76 L161.10,1786.72 L161.42,1786.68 L161.74,1786.63 L162.06,1786.59 L162.38,1786.55 L162.38,1786.55 L165.32,1786.15 L168.25,1785.76 L171.19,1785.36 L174.12,1784.96 L177.06,1784.57 L179.99,1784.17 L182.93,1783.78 L185.87,1783.38 L188.80,1782.99 L191.74,1782.59 L194.67,1782.20 L197.61,1781.80 L200.54,1781.41 L203.48,1781.01 L206.41,1780.62 L209.35,1780.23 L212.29,1779.83 L215.22,1779.44 L218.16,1779.05 L221.09,1778.65 L224.03,1778.26 L226.96,1777.87 L229.90,1777.48 L232.84,1777.09 L235.77,1776.69 L238.71,1776.30 L241.64,1775.91 L244.58,1775.52 L247.51,1775.13 L250.45,1774.74 L253.38,1774.35 L256.32,1773.95 L259.26,1773.56 L262.19,1773.17 L265.13,1772.78 L268.06,1772.39 L271.00,1772.00 L273.93,1771.61 L276.87,1771.22 L279.81,1770.84 L282.74,1770.45 L285.68,1770.06 L288.61,1769.67 L291.55,1769.28 L294.48,1768.89 L297.42,1768.50 L300.36,1768.12 L303.29,1767.73 L306.23,1767.34 L309.16,1766.95 L312.10,1766.57 L315.03,1766.18 L317.97,1765.79 L320.90,1765.41 L323.84,1765.02 L326.78,1764.63 L329.71,1764.25 L332.65,1763.86 L335.58,1763.48 L338.52,1763.09 L341.45,1762.71 L344.39,1762.32 L347.33,1761.94 L350.26,1761.55 L353.20,1761.17 L356.13,1760.78 L359.07,1760.40 L362.00,1760.01 L364.94,1759.63 L367.87,1759.25 L370.81,1758.86 L373.75,1758.48 L376.68,1758.10 L379.62,1757.71 L382.55,1757.33 L385.49,1756.95 L388.42,1756.57 L391.36,1756.18 L394.30,1755.80 L397.23,1755.42 L400.17,1755.04 L403.10,1754.66 L406.04,1754.28 L408.97,1753.90 L411.91,1753.51 L414.84,1753.13 L417.78,1752.75 L420.72,1752.37 L423.65,1751.99 L426.59,1751.61 L429.52,1751.23 L432.46,1750.85 L435.39,1750.47 L438.33,1750.09 L441.27,1749.72 L444.20,1749.34 L447.14,1748.96 L450.07,1748.58 L453.01,1748.20 L455.94,1747.82 L458.88,1747.45 L461.82,1747.07 L464.75,1746.69 L467.69,1746.31 L470.62,1745.94 L473.56,1745.56 L476.49,1745.18 L479.43,1744.81 L482.36,1744.43 L485.30,1744.05 L488.24,1743.68 L491.17,1743.30 L494.11,1742.93 L497.04,1742.55 L499.98,1742.18 L502.91,1741.80 L505.85,1741.43 L508.79,1741.05 L511.72,1740.68 L514.66,1740.30 L517.59,1739.93 L520.53,1739.55 L523.46,1739.18 L526.40,1738.81 L529.33,1738.43 L532.27,1738.06 L535.21,1737.69 L538.14,1737.31 L541.08,1736.94 L544.01,1736.57 L546.95,1736.20 L549.88,1735.82 L552.82,1735.45 L555.76,1735.08 L558.69,1734.71 L561.63,1734.34 L564.56,1733.97 L567.50,1733.59 L570.43,1733.22 L573.37,1732.85 L576.31,1732.48 L579.24,1732.11 L582.18,1731.74 L585.11,1731.37 L588.05,1731.00 L590.98,1730.63 L593.92,1730.26 L596.85,1729.89 L599.79,1729.53 L602.73,1729.16 L605.66,1728.79 L608.60,1728.42 L611.53,1728.05 L614.47,1727.68 L617.40,1727.32 L620.34,1726.95 L623.28,1726.58 L626.21,1726.21 L629.15,1725.85 L632.08,1725.48 L635.02,1725.11 L637.95,1724.75 L640.89,1724.38 L643.82,1724.01 L646.76,1723.65 L649.70,1723.28 L652.63,1722.92 L655.57,1722.55 L658.50,1722.19 L661.44,1721.82 L664.37,1721.46 L667.31,1721.09 L670.25,1720.73 L673.18,1720.36 L676.12,1720.00 L679.05,1719.63 L681.99,1719.27 L684.92,1718.91 L687.86,1718.54 L690.80,1718.18 L693.73,1717.82 L696.67,1717.45 L699.60,1717.09 L702.54,1716.73 L705.47,1716.37 L708.41,1716.00 L711.34,1715.64 L714.28,1715.28 L717.22,1714.92 L720.15,1714.56 L723.09,1714.20 L726.02,1713.84 L728.96,1713.47 L731.89,1713.11 L734.83,1712.75 L737.77,1712.39 L740.70,1712.03 L743.64,1711.67 L746.57,1711.31 L749.51,1710.95 L752.44,1710.59 L755.38,1710.24 L758.31,1709.88 L761.25,1709.52 L764.19,1709.16 L767.12,1708.80 L770.06,1708.44 L772.99,1708.08 L775.93,1707.73 L778.86,1707.37 L781.80,1707.01 L784.74,1706.65 L787.67,1706.30 L790.61,1705.94 L793.54,1705.58 L796.48,1705.23 L799.41,1704.87 L802.35,1704.51 L805.28,1704.16 L808.22,1703.80 L811.16,1703.45 L814.09,1703.09 L817.03,1702.74 L819.96,1702.38 L822.90,1702.03 L825.83,1701.67 L828.77,1701.32 L831.71,1700.96 L834.64,1700.61 L837.58,1700.25 L840.51,1699.90 L843.45,1699.55 L846.38,1699.19 L849.32,1698.84 L852.26,1698.49 L855.19,1698.14 L858.13,1697.78 L861.06,1697.43 L864.00,1697.08 L866.93,1696.73 L869.87,1696.37 L872.80,1696.02 L875.74,1695.67 L878.68,1695.32 L881.61,1694.97 L884.55,1694.62 L887.48,1694.27 L890.42,1693.92 L893.35,1693.56 L896.29,1693.21 L899.23,1692.86 L902.16,1692.51 L905.10,1692.17 L908.03,1691.82 L910.97,1691.47 L913.90,1691.12 L916.84,1690.77 L919.77,1690.42 L922.71,1690.07 L925.65,1689.72 L928.58,1689.37 L931.52,1689.03 L934.45,1688.68 L937.39,1688.33 L940.32,1687.98 L943.26,1687.64 L946.20,1687.29 L949.13,1686.94 L952.07,1686.60 L955.00,1686.25 L957.94,1685.90 L960.87,1685.56 L963.81,1685.21 L966.75,1684.86 L969.68,1684.52 L972.62,1684.17 L975.55,1683.83 L978.49,1683.48 L981.42,1683.14 L984.36,1682.79 L987.29,1682.45 L990.23,1682.10 L993.17,1681.76 L996.10,1681.42 L999.04,1681.07 L1001.97,1680.73 L1004.91,1680.39 L1007.84,1680.04 L1010.78,1679.70 L1013.72,1679.36 L1016.65,1679.01 L1019.59,1678.67 L1022.52,1678.33 L1025.46,1677.99 L1028.39,1677.65 L1031.33,1677.30 L1034.26,1676.96 L1037.20,1676.62 L1040.14,1676.28 L1043.07,1675.94 L1046.01,1675.60 L1048.94,1675.26 L1051.88,1674.92 L1054.81,1674.58 L1057.75,1674.24 L1060.69,1673.90 L1063.62,1673.56 L1066.56,1673.22 L1069.49,1672.88 L1072.43,1672.54 L1075.36,1672.20 L1078.30,1671.86 L1081.24,1671.52 L1084.17,1671.18 L1087.11,1670.85 L1090.04,1670.51 L1092.98,1670.17 L1095.91,1669.83 L1098.85,1669.50 L1101.78,1669.16 L1104.72,1668.82 L1107.66,1668.48 L1110.59,1668.15 L1113.53,1667.81 L1116.46,1667.47 L1119.40,1667.14 L1122.33,1666.80 L1125.27,1666.47 L1128.21,1666.13 L1131.14,1665.80 L1134.08,1665.46 L1137.01,1665.13 L1139.95,1664.79 L1142.88,1664.46 L1145.82,1664.12 L1148.75,1663.79 L1151.69,1663.45 L1154.63,1663.12 L1157.56,1662.79 L1160.50,1662.45 L1163.43,1662.12 L1166.37,1661.79 L1169.30,1661.45 L1172.24,1661.12 L1175.18,1660.79 L1178.11,1660.45 L1181.05,1660.12 L1183.98,1659.79 L1186.92,1659.46 L1189.85,1659.13 L1192.79,1658.80 L1195.72,1658.46 L1198.66,1658.13 L1201.60,1657.80 L1204.53,1657.47 L1207.47,1657.14 L1210.40,1656.81 L1213.34,1656.48 L1216.27,1656.15 L1219.21,1655.82 L1222.15,1655.49 L1225.08,1655.16 L1228.02,1654.83 L1230.95,1654.50 L1233.89,1654.17 L1236.82,1653.84 L1239.76,1653.52 L1242.70,1653.19 L1245.63,1652.86 L1248.57,1652.53 L1251.50,1652.20 L1254.44,1651.88 L1257.37,1651.55 L1260.31,1651.22 L1263.24,1650.89 L1266.18,1650.57 L1269.12,1650.24 L1272.05,1649.91 L1274.99,1649.59 L1277.92,1649.26 L1280.86,1648.94 L1283.79,1648.61 L1286.73,1648.28 L1289.67,1647.96 L1292.60,1647.63 L1295.54,1647.31 L1298.47,1646.98 L1301.41,1646.66 L1304.34,1646.34 L1307.28,1646.01 L1310.21,1645.69 L1313.15,1645.36 L1316.09,1645.04 L1319.02,1644.72 L1321.96,1644.39 L1324.89,1644.07 L1327.83,1643.75 L1330.76,1643.42 L1333.70,1643.10" fill="none" stroke="#5aa55a" stroke-width="2.3" stroke-linejoin="round"/>
<path d="M143.50,1792.00 L143.82,1791.67 L144.14,1791.34 L144.46,1791.01 L144.78,1790.68 L145.10,1790.35 L145.42,1790.02 L145.74,1789.69 L146.06,1789.36 L146.38,1789.03 L146.70,1788.70 L147.02,1788.37 L147.34,1788.04 L147.66,1787.71 L147.98,1787.38 L148.30,1787.06 L148.62,1786.73 L148.94,1786.40 L149.26,1786.08 L149.58,1785.75 L149.90,1785.42 L150.22,1785.10 L150.54,1784.77 L150.86,1784.44 L151.18,1784.12 L151.50,1783.79 L151.82,1783.47 L152.14,1783.14 L152.46,1782.82 L152.78,1782.50 L153.10,1782.17 L153.42,1781.85 L153.74,1781.53 L154.06,1781.20 L154.38,1780.88 L154.70,1780.56 L155.02,1780.23 L155.34,1779.91 L155.66,1779.59 L155.98,1779.27 L156.30,1778.95 L156.62,1778.63 L156.94,1778.31 L157.26,1777.99 L157.58,1777.67 L157.90,1777.35 L158.22,1777.03 L158.54,1776.71 L158.86,1776.39 L159.18,1776.07 L159.50,1775.75 L159.82,1775.43 L160.14,1775.11 L160.46,1774.79 L160.78,1774.48 L161.10,1774.16 L161.42,1773.84 L161.74,1773.52 L162.06,1773.21 L162.38,1772.89 L162.38,1772.89 L165.32,1770.00 L168.25,1767.13 L171.19,1764.28 L174.12,1761.45 L177.06,1758.65 L179.99,1755.86 L182.93,1753.09 L185.87,1750.35 L188.80,1747.63 L191.74,1744.92 L194.67,1742.24 L197.61,1739.58 L200.54,1736.94 L203.48,1734.32 L206.41,1731.71 L209.35,1729.13 L212.29,1726.57 L215.22,1724.03 L218.16,1721.51 L221.09,1719.01 L224.03,1716.53 L226.96,1714.06 L229.90,1711.62 L232.84,1709.20 L235.77,1706.79 L238.71,1704.41 L241.64,1702.04 L244.58,1699.70 L247.51,1697.37 L250.45,1695.06 L253.38,1692.77 L256.32,1690.50 L259.26,1688.25 L262.19,1686.02 L265.13,1683.80 L268.06,1681.61 L271.00,1679.43 L273.93,1677.27 L276.87,1675.13 L279.81,1673.00 L282.74,1670.90 L285.68,1668.81 L288.61,1666.74 L291.55,1664.69 L294.48,1662.66 L297.42,1660.64 L300.36,1658.65 L303.29,1656.66 L306.23,1654.70 L309.16,1652.76 L312.10,1650.83 L315.03,1648.92 L317.97,1647.02 L320.90,1645.14 L323.84,1643.28 L326.78,1641.44 L329.71,1639.61 L332.65,1637.80 L335.58,1636.01 L338.52,1634.23 L341.45,1632.47 L344.39,1630.73 L347.33,1629.00 L350.26,1627.29 L353.20,1625.59 L356.13,1623.91 L359.07,1622.25 L362.00,1620.60 L364.94,1618.97 L367.87,1617.36 L370.81,1615.76 L373.75,1614.17 L376.68,1612.60 L379.62,1611.05 L382.55,1609.51 L385.49,1607.99 L388.42,1606.48 L391.36,1604.98 L394.30,1603.51 L397.23,1602.04 L400.17,1600.59 L403.10,1599.16 L406.04,1597.74 L408.97,1596.34 L411.91,1594.95 L414.84,1593.57 L417.78,1592.21 L420.72,1590.86 L423.65,1589.53 L426.59,1588.21 L429.52,1586.91 L432.46,1585.62 L435.39,1584.34 L438.33,1583.08 L441.27,1581.83 L444.20,1580.59 L447.14,1579.37 L450.07,1578.16 L453.01,1576.97 L455.94,1575.78 L458.88,1574.61 L461.82,1573.46 L464.75,1572.32 L467.69,1571.19 L470.62,1570.07 L473.56,1568.97 L476.49,1567.87 L479.43,1566.80 L482.36,1565.73 L485.30,1564.68 L488.24,1563.63 L491.17,1562.61 L494.11,1561.59 L497.04,1560.58 L499.98,1559.59 L502.91,1558.61 L505.85,1557.64 L508.79,1556.69 L511.72,1555.74 L514.66,1554.81 L517.59,1553.89 L520.53,1552.98 L523.46,1552.08 L526.40,1551.19 L529.33,1550.31 L532.27,1549.45 L535.21,1548.59 L538.14,1547.75 L541.08,1546.92 L544.01,1546.10 L546.95,1545.29 L549.88,1544.49 L552.82,1543.70 L555.76,1542.92 L558.69,1542.15 L561.63,1541.39 L564.56,1540.65 L567.50,1539.91 L570.43,1539.18 L573.37,1538.46 L576.31,1537.76 L579.24,1537.06 L582.18,1536.37 L585.11,1535.69 L588.05,1535.03 L590.98,1534.37 L593.92,1533.72 L596.85,1533.08 L599.79,1532.45 L602.73,1531.83 L605.66,1531.21 L608.60,1530.61 L611.53,1530.02 L614.47,1529.43 L617.40,1528.85 L620.34,1528.29 L623.28,1527.73 L626.21,1527.18 L629.15,1526.64 L632.08,1526.10 L635.02,1525.58 L637.95,1525.06 L640.89,1524.55 L643.82,1524.05 L646.76,1523.56 L649.70,1523.07 L652.63,1522.60 L655.57,1522.13 L658.50,1521.67 L661.44,1521.21 L664.37,1520.77 L667.31,1520.33 L670.25,1519.90 L673.18,1519.47 L676.12,1519.05 L679.05,1518.64 L681.99,1518.24 L684.92,1517.85 L687.86,1517.46 L690.80,1517.07 L693.73,1516.70 L696.67,1516.33 L699.60,1515.97 L702.54,1515.61 L705.47,1515.26 L708.41,1514.92 L711.34,1514.58 L714.28,1514.25 L717.22,1513.93 L720.15,1513.61 L723.09,1513.29 L726.02,1512.99 L728.96,1512.69 L731.89,1512.39 L734.83,1512.10 L737.77,1511.82 L740.70,1511.54 L743.64,1511.26 L746.57,1510.99 L749.51,1510.73 L752.44,1510.47 L755.38,1510.22 L758.31,1509.97 L761.25,1509.73 L764.19,1509.49 L767.12,1509.25 L770.06,1509.02 L772.99,1508.80 L775.93,1508.58 L778.86,1508.36 L781.80,1508.15 L784.74,1507.94 L787.67,1507.74 L790.61,1507.54 L793.54,1507.34 L796.48,1507.15 L799.41,1506.96 L802.35,1506.78 L805.28,1506.60 L808.22,1506.42 L811.16,1506.25 L814.09,1506.07 L817.03,1505.91 L819.96,1505.74 L822.90,1505.58 L825.83,1505.43 L828.77,1505.27 L831.71,1505.12 L834.64,1504.97 L837.58,1504.82 L840.51,1504.68 L843.45,1504.54 L846.38,1504.40 L849.32,1504.26 L852.26,1504.13 L855.19,1504.00 L858.13,1503.87 L861.06,1503.74 L864.00,1503.62 L866.93,1503.49 L869.87,1503.37 L872.80,1503.25 L875.74,1503.13 L878.68,1503.02 L881.61,1502.90 L884.55,1502.79 L887.48,1502.67 L890.42,1502.56 L893.35,1502.45 L896.29,1502.35 L899.23,1502.24 L902.16,1502.13 L905.10,1502.02 L908.03,1501.92 L910.97,1501.81 L913.90,1501.71 L916.84,1501.61 L919.77,1501.50 L922.71,1501.40 L925.65,1501.30 L928.58,1501.20 L931.52,1501.10 L934.45,1500.99 L937.39,1500.89 L940.32,1500.79 L943.26,1500.69 L946.20,1500.59 L949.13,1500.49 L952.07,1500.39 L955.00,1500.28 L957.94,1500.18 L960.87,1500.08 L963.81,1499.98 L966.75,1499.88 L969.68,1499.78 L972.62,1499.68 L975.55,1499.58 L978.49,1499.47 L981.42,1499.37 L984.36,1499.27 L987.29,1499.17 L990.23,1499.07 L993.17,1498.97 L996.10,1498.87 L999.04,1498.77 L1001.97,1498.67 L1004.91,1498.57 L1007.84,1498.47 L1010.78,1498.37 L1013.72,1498.27 L1016.65,1498.17 L1019.59,1498.07 L1022.52,1497.97 L1025.46,1497.87 L1028.39,1497.77 L1031.33,1497.67 L1034.26,1497.57 L1037.20,1497.47 L1040.14,1497.37 L1043.07,1497.27 L1046.01,1497.17 L1048.94,1497.07 L1051.88,1496.97 L1054.81,1496.87 L1057.75,1496.77 L1060.69,1496.67 L1063.62,1496.57 L1066.56,1496.47 L1069.49,1496.38 L1072.43,1496.28 L1075.36,1496.18 L1078.30,1496.08 L1081.24,1495.98 L1084.17,1495.88 L1087.11,1495.78 L1090.04,1495.68 L1092.98,1495.59 L1095.91,1495.49 L1098.85,1495.39 L1101.78,1495.29 L1104.72,1495.19 L1107.66,1495.09 L1110.59,1494.99 L1113.53,1494.90 L1116.46,1494.80 L1119.40,1494.70 L1122.33,1494.60 L1125.27,1494.50 L1128.21,1494.41 L1131.14,1494.31 L1134.08,1494.21 L1137.01,1494.11 L1139.95,1494.02 L1142.88,1493.92 L1145.82,1493.82 L1148.75,1493.72 L1151.69,1493.63 L1154.63,1493.53 L1157.56,1493.43 L1160.50,1493.33 L1163.43,1493.24 L1166.37,1493.14 L1169.30,1493.04 L1172.24,1492.95 L1175.18,1492.85 L1178.11,1492.75 L1181.05,1492.65 L1183.98,1492.56 L1186.92,1492.46 L1189.85,1492.36 L1192.79,1492.27 L1195.72,1492.17 L1198.66,1492.07 L1201.60,1491.98 L1204.53,1491.88 L1207.47,1491.79 L1210.40,1491.69 L1213.34,1491.59 L1216.27,1491.50 L1219.21,1491.40 L1222.15,1491.30 L1225.08,1491.21 L1228.02,1491.11 L1230.95,1491.02 L1233.89,1490.92 L1236.82,1490.83 L1239.76,1490.73 L1242.70,1490.63 L1245.63,1490.54 L1248.57,1490.44 L1251.50,1490.35 L1254.44,1490.25 L1257.37,1490.16 L1260.31,1490.06 L1263.24,1489.97 L1266.18,1489.87 L1269.12,1489.78 L1272.05,1489.68 L1274.99,1489.59 L1277.92,1489.49 L1280.86,1489.40 L1283.79,1489.30 L1286.73,1489.21 L1289.67,1489.11 L1292.60,1489.02 L1295.54,1488.92 L1298.47,1488.83 L1301.41,1488.73 L1304.34,1488.64 L1307.28,1488.55 L1310.21,1488.45 L1313.15,1488.36 L1316.09,1488.26 L1319.02,1488.17 L1321.96,1488.08 L1324.89,1487.98 L1327.83,1487.89 L1330.76,1487.79 L1333.70,1487.70" fill="none" stroke="#4d6fb0" stroke-width="2.3" stroke-linejoin="round"/>
<path d="M143.50,1792.00 L143.82,1791.68 L144.14,1791.36 L144.46,1791.05 L144.78,1790.73 L145.10,1790.41 L145.42,1790.09 L145.74,1789.78 L146.06,1789.46 L146.38,1789.14 L146.70,1788.83 L147.02,1788.51 L147.34,1788.19 L147.66,1787.88 L147.98,1787.56 L148.30,1787.25 L148.62,1786.93 L148.94,1786.62 L149.26,1786.31 L149.58,1785.99 L149.90,1785.68 L150.22,1785.37 L150.54,1785.05 L150.86,1784.74 L151.18,1784.43 L151.50,1784.11 L151.82,1783.80 L152.14,1783.49 L152.46,1783.18 L152.78,1782.87 L153.10,1782.56 L153.42,1782.25 L153.74,1781.94 L154.06,1781.62 L154.38,1781.31 L154.70,1781.01 L155.02,1780.70 L155.34,1780.39 L155.66,1780.08 L155.98,1779.77 L156.30,1779.46 L156.62,1779.15 L156.94,1778.84 L157.26,1778.54 L157.58,1778.23 L157.90,1777.92 L158.22,1777.61 L158.54,1777.31 L158.86,1777.00 L159.18,1776.69 L159.50,1776.39 L159.82,1776.08 L160.14,1775.78 L160.46,1775.47 L160.78,1775.17 L161.10,1774.86 L161.42,1774.56 L161.74,1774.25 L162.06,1773.95 L162.38,1773.65 L162.38,1773.65 L165.32,1770.87 L168.25,1768.12 L171.19,1765.39 L174.12,1762.68 L177.06,1759.99 L179.99,1757.32 L182.93,1754.67 L185.87,1752.04 L188.80,1749.44 L191.74,1746.85 L194.67,1744.28 L197.61,1741.74 L200.54,1739.21 L203.48,1736.71 L206.41,1734.22 L209.35,1731.76 L212.29,1729.31 L215.22,1726.89 L218.16,1724.48 L221.09,1722.10 L224.03,1719.73 L226.96,1717.38 L229.90,1715.06 L232.84,1712.75 L235.77,1710.46 L238.71,1708.19 L241.64,1705.94 L244.58,1703.71 L247.51,1701.50 L250.45,1699.31 L253.38,1697.13 L256.32,1694.98 L259.26,1692.84 L262.19,1690.72 L265.13,1688.63 L268.06,1686.54 L271.00,1684.48 L273.93,1682.44 L276.87,1680.41 L279.81,1678.40 L282.74,1676.41 L285.68,1674.44 L288.61,1672.49 L291.55,1670.55 L294.48,1668.63 L297.42,1666.73 L300.36,1664.85 L303.29,1662.98 L306.23,1661.13 L309.16,1659.30 L312.10,1657.49 L315.03,1655.69 L317.97,1653.91 L320.90,1652.14 L323.84,1650.40 L326.78,1648.67 L329.71,1646.96 L332.65,1645.26 L335.58,1643.58 L338.52,1641.92 L341.45,1640.27 L344.39,1638.64 L347.33,1637.03 L350.26,1635.43 L353.20,1633.85 L356.13,1632.28 L359.07,1630.73 L362.00,1629.20 L364.94,1627.68 L367.87,1626.17 L370.81,1624.69 L373.75,1623.22 L376.68,1621.76 L379.62,1620.32 L382.55,1618.89 L385.49,1617.48 L388.42,1616.09 L391.36,1614.71 L394.30,1613.34 L397.23,1611.99 L400.17,1610.65 L403.10,1609.33 L406.04,1608.03 L408.97,1606.73 L411.91,1605.46 L414.84,1604.19 L417.78,1602.94 L420.72,1601.71 L423.65,1600.49 L426.59,1599.28 L429.52,1598.09 L432.46,1596.91 L435.39,1595.75 L438.33,1594.59 L441.27,1593.46 L444.20,1592.33 L447.14,1591.22 L450.07,1590.12 L453.01,1589.04 L455.94,1587.97 L458.88,1586.91 L461.82,1585.87 L464.75,1584.84 L467.69,1583.82 L470.62,1582.81 L473.56,1581.82 L476.49,1580.84 L479.43,1579.87 L482.36,1578.92 L485.30,1577.97 L488.24,1577.04 L491.17,1576.12 L494.11,1575.22 L497.04,1574.32 L499.98,1573.44 L502.91,1572.57 L505.85,1571.71 L508.79,1570.87 L511.72,1570.03 L514.66,1569.21 L517.59,1568.40 L520.53,1567.60 L523.46,1566.81 L526.40,1566.03 L529.33,1565.26 L532.27,1564.51 L535.21,1563.77 L538.14,1563.03 L541.08,1562.31 L544.01,1561.60 L546.95,1560.90 L549.88,1560.21 L552.82,1559.53 L555.76,1558.86 L558.69,1558.20 L561.63,1557.55 L564.56,1556.91 L567.50,1556.28 L570.43,1555.67 L573.37,1555.06 L576.31,1554.46 L579.24,1553.87 L582.18,1553.29 L585.11,1552.72 L588.05,1552.16 L590.98,1551.61 L593.92,1551.07 L596.85,1550.54 L599.79,1550.02 L602.73,1549.51 L605.66,1549.00 L608.60,1548.51 L611.53,1548.02 L614.47,1547.55 L617.40,1547.08 L620.34,1546.62 L623.28,1546.17 L626.21,1545.72 L629.15,1545.29 L632.08,1544.86 L635.02,1544.45 L637.95,1544.04 L640.89,1543.64 L643.82,1543.24 L646.76,1542.86 L649.70,1542.48 L652.63,1542.11 L655.57,1541.75 L658.50,1541.40 L661.44,1541.05 L664.37,1540.71 L667.31,1540.38 L670.25,1540.05 L673.18,1539.74 L676.12,1539.43 L679.05,1539.12 L681.99,1538.83 L684.92,1538.54 L687.86,1538.26 L690.80,1537.98 L693.73,1537.71 L696.67,1537.45 L699.60,1537.19 L702.54,1536.94 L705.47,1536.70 L708.41,1536.46 L711.34,1536.23 L714.28,1536.01 L717.22,1535.79 L720.15,1535.58 L723.09,1535.37 L726.02,1535.17 L728.96,1534.97 L731.89,1534.78 L734.83,1534.60 L737.77,1534.42 L740.70,1534.25 L743.64,1534.08 L746.57,1533.92 L749.51,1533.76 L752.44,1533.61 L755.38,1533.46 L758.31,1533.31 L761.25,1533.18 L764.19,1533.04 L767.12,1532.91 L770.06,1532.79 L772.99,1532.67 L775.93,1532.55 L778.86,1532.44 L781.80,1532.33 L784.74,1532.23 L787.67,1532.13 L790.61,1532.04 L793.54,1531.95 L796.48,1531.86 L799.41,1531.77 L802.35,1531.69 L805.28,1531.62 L808.22,1531.55 L811.16,1531.48 L814.09,1531.41 L817.03,1531.35 L819.96,1531.29 L822.90,1531.23 L825.83,1531.18 L828.77,1531.13 L831.71,1531.08 L834.64,1531.03 L837.58,1530.99 L840.51,1530.95 L843.45,1530.91 L846.38,1530.88 L849.32,1530.84 L852.26,1530.81 L855.19,1530.79 L858.13,1530.76 L861.06,1530.74 L864.00,1530.71 L866.93,1530.69 L869.87,1530.67 L872.80,1530.66 L875.74,1530.64 L878.68,1530.63 L881.61,1530.62 L884.55,1530.60 L887.48,1530.60 L890.42,1530.59 L893.35,1530.58 L896.29,1530.57 L899.23,1530.57 L902.16,1530.56 L905.10,1530.56 L908.03,1530.56 L910.97,1530.56 L913.90,1530.55 L916.84,1530.55 L919.77,1530.55 L922.71,1530.55 L925.65,1530.55 L928.58,1530.55 L931.52,1530.55 L934.45,1530.55 L937.39,1530.55 L940.32,1530.55 L943.26,1530.55 L946.20,1530.55 L949.13,1530.55 L952.07,1530.55 L955.00,1530.55 L957.94,1530.55 L960.87,1530.55 L963.81,1530.55 L966.75,1530.55 L969.68,1530.55 L972.62,1530.55 L975.55,1530.55 L978.49,1530.55 L981.42,1530.55 L984.36,1530.55 L987.29,1530.55 L990.23,1530.55 L993.17,1530.55 L996.10,1530.55 L999.04,1530.55 L1001.97,1530.55 L1004.91,1530.55 L1007.84,1530.55 L1010.78,1530.55 L1013.72,1530.55 L1016.65,1530.55 L1019.59,1530.55 L1022.52,1530.55 L1025.46,1530.55 L1028.39,1530.55 L1031.33,1530.55 L1034.26,1530.55 L1037.20,1530.55 L1040.14,1530.55 L1043.07,1530.55 L1046.01,1530.55 L1048.94,1530.55 L1051.88,1530.55 L1054.81,1530.55 L1057.75,1530.55 L1060.69,1530.55 L1063.62,1530.55 L1066.56,1530.55 L1069.49,1530.55 L1072.43,1530.55 L1075.36,1530.55 L1078.30,1530.55 L1081.24,1530.55 L1084.17,1530.55 L1087.11,1530.55 L1090.04,1530.55 L1092.98,1530.55 L1095.91,1530.55 L1098.85,1530.55 L1101.78,1530.55 L1104.72,1530.55 L1107.66,1530.55 L1110.59,1530.55 L1113.53,1530.55 L1116.46,1530.55 L1119.40,1530.55 L1122.33,1530.55 L1125.27,1530.55 L1128.21,1530.55 L1131.14,1530.55 L1134.08,1530.55 L1137.01,1530.55 L1139.95,1530.55 L1142.88,1530.55 L1145.82,1530.55 L1148.75,1530.55 L1151.69,1530.55 L1154.63,1530.55 L1157.56,1530.55 L1160.50,1530.55 L1163.43,1530.55 L1166.37,1530.55 L1169.30,1530.55 L1172.24,1530.55 L1175.18,1530.55 L1178.11,1530.55 L1181.05,1530.55 L1183.98,1530.55 L1186.92,1530.55 L1189.85,1530.55 L1192.79,1530.55 L1195.72,1530.55 L1198.66,1530.55 L1201.60,1530.55 L1204.53,1530.55 L1207.47,1530.55 L1210.40,1530.55 L1213.34,1530.55 L1216.27,1530.55 L1219.21,1530.55 L1222.15,1530.55 L1225.08,1530.55 L1228.02,1530.55 L1230.95,1530.55 L1233.89,1530.55 L1236.82,1530.55 L1239.76,1530.55 L1242.70,1530.55 L1245.63,1530.55 L1248.57,1530.55 L1251.50,1530.55 L1254.44,1530.55 L1257.37,1530.55 L1260.31,1530.55 L1263.24,1530.55 L1266.18,1530.55 L1269.12,1530.55 L1272.05,1530.55 L1274.99,1530.55 L1277.92,1530.55 L1280.86,1530.55 L1283.79,1530.55 L1286.73,1530.55 L1289.67,1530.55 L1292.60,1530.55 L1295.54,1530.55 L1298.47,1530.55 L1301.41,1530.55 L1304.34,1530.55 L1307.28,1530.55 L1310.21,1530.55 L1313.15,1530.55 L1316.09,1530.55 L1319.02,1530.55 L1321.96,1530.55 L1324.89,1530.55 L1327.83,1530.55 L1330.76,1530.55 L1333.70,1530.55" fill="none" stroke="#4d6fb0" stroke-width="2.3" stroke-linejoin="round"/>
<path d="M143.50,1792.00 L143.82,1791.99 L144.14,1791.97 L144.46,1791.96 L144.78,1791.95 L145.10,1791.94 L145.42,1791.92 L145.74,1791.91 L146.06,1791.90 L146.38,1791.88 L146.70,1791.87 L147.02,1791.86 L147.34,1791.85 L147.66,1791.83 L147.98,1791.82 L148.30,1791.81 L148.62,1791.79 L148.94,1791.78 L149.26,1791.77 L149.58,1791.76 L149.90,1791.74 L150.22,1791.73 L150.54,1791.72 L150.86,1791.71 L151.18,1791.69 L151.50,1791.68 L151.82,1791.67 L152.14,1791.65 L152.46,1791.64 L152.78,1791.63 L153.10,1791.62 L153.42,1791.60 L153.74,1791.59 L154.06,1791.58 L154.38,1791.56 L154.70,1791.55 L155.02,1791.54 L155.34,1791.53 L155.66,1791.51 L155.98,1791.50 L156.30,1791.49 L156.62,1791.47 L156.94,1791.46 L157.26,1791.45 L157.58,1791.44 L157.90,1791.42 L158.22,1791.41 L158.54,1791.40 L158.86,1791.39 L159.18,1791.37 L159.50,1791.36 L159.82,1791.35 L160.14,1791.33 L160.46,1791.32 L160.78,1791.31 L161.10,1791.30 L161.42,1791.28 L161.74,1791.27 L162.06,1791.26 L162.38,1791.24 L162.38,1791.24 L165.32,1791.13 L168.25,1791.01 L171.19,1790.89 L174.12,1790.78 L177.06,1790.66 L179.99,1790.54 L182.93,1790.43 L185.87,1790.31 L188.80,1790.19 L191.74,1790.08 L194.67,1789.96 L197.61,1789.84 L200.54,1789.73 L203.48,1789.61 L206.41,1789.49 L209.35,1789.38 L212.29,1789.26 L215.22,1789.14 L218.16,1789.03 L221.09,1788.91 L224.03,1788.80 L226.96,1788.68 L229.90,1788.56 L232.84,1788.45 L235.77,1788.33 L238.71,1788.22 L241.64,1788.10 L244.58,1787.98 L247.51,1787.87 L250.45,1787.75 L253.38,1787.64 L256.32,1787.52 L259.26,1787.41 L262.19,1787.29 L265.13,1787.18 L268.06,1787.06 L271.00,1786.95 L273.93,1786.83 L276.87,1786.72 L279.81,1786.60 L282.74,1786.49 L285.68,1786.37 L288.61,1786.26 L291.55,1786.14 L294.48,1786.03 L297.42,1785.91 L300.36,1785.80 L303.29,1785.68 L306.23,1785.57 L309.16,1785.46 L312.10,1785.34 L315.03,1785.23 L317.97,1785.11 L320.90,1785.00 L323.84,1784.88 L326.78,1784.77 L329.71,1784.66 L332.65,1784.54 L335.58,1784.43 L338.52,1784.32 L341.45,1784.20 L344.39,1784.09 L347.33,1783.97 L350.26,1783.86 L353.20,1783.75 L356.13,1783.63 L359.07,1783.52 L362.00,1783.41 L364.94,1783.29 L367.87,1783.18 L370.81,1783.07 L373.75,1782.95 L376.68,1782.84 L379.62,1782.73 L382.55,1782.62 L385.49,1782.50 L388.42,1782.39 L391.36,1782.28 L394.30,1782.17 L397.23,1782.05 L400.17,1781.94 L403.10,1781.83 L406.04,1781.72 L408.97,1781.60 L411.91,1781.49 L414.84,1781.38 L417.78,1781.27 L420.72,1781.15 L423.65,1781.04 L426.59,1780.93 L429.52,1780.82 L432.46,1780.71 L435.39,1780.59 L438.33,1780.48 L441.27,1780.37 L444.20,1780.26 L447.14,1780.15 L450.07,1780.04 L453.01,1779.93 L455.94,1779.81 L458.88,1779.70 L461.82,1779.59 L464.75,1779.48 L467.69,1779.37 L470.62,1779.26 L473.56,1779.15 L476.49,1779.04 L479.43,1778.92 L482.36,1778.81 L485.30,1778.70 L488.24,1778.59 L491.17,1778.48 L494.11,1778.37 L497.04,1778.26 L499.98,1778.15 L502.91,1778.04 L505.85,1777.93 L508.79,1777.82 L511.72,1777.71 L514.66,1777.60 L517.59,1777.49 L520.53,1777.38 L523.46,1777.27 L526.40,1777.16 L529.33,1777.05 L532.27,1776.94 L535.21,1776.83 L538.14,1776.72 L541.08,1776.61 L544.01,1776.50 L546.95,1776.39 L549.88,1776.28 L552.82,1776.17 L555.76,1776.06 L558.69,1775.95 L561.63,1775.84 L564.56,1775.73 L567.50,1775.62 L570.43,1775.52 L573.37,1775.41 L576.31,1775.30 L579.24,1775.19 L582.18,1775.08 L585.11,1774.97 L588.05,1774.86 L590.98,1774.75 L593.92,1774.64 L596.85,1774.54 L599.79,1774.43 L602.73,1774.32 L605.66,1774.21 L608.60,1774.10 L611.53,1773.99 L614.47,1773.89 L617.40,1773.78 L620.34,1773.67 L623.28,1773.56 L626.21,1773.45 L629.15,1773.35 L632.08,1773.24 L635.02,1773.13 L637.95,1773.02 L640.89,1772.91 L643.82,1772.81 L646.76,1772.70 L649.70,1772.59 L652.63,1772.48 L655.57,1772.38 L658.50,1772.27 L661.44,1772.16 L664.37,1772.06 L667.31,1771.95 L670.25,1771.84 L673.18,1771.73 L676.12,1771.63 L679.05,1771.52 L681.99,1771.41 L684.92,1771.31 L687.86,1771.20 L690.80,1771.09 L693.73,1770.99 L696.67,1770.88 L699.60,1770.77 L702.54,1770.67 L705.47,1770.56 L708.41,1770.45 L711.34,1770.35 L714.28,1770.24 L717.22,1770.14 L720.15,1770.03 L723.09,1769.92 L726.02,1769.82 L728.96,1769.71 L731.89,1769.61 L734.83,1769.50 L737.77,1769.39 L740.70,1769.29 L743.64,1769.18 L746.57,1769.08 L749.51,1768.97 L752.44,1768.87 L755.38,1768.76 L758.31,1768.66 L761.25,1768.55 L764.19,1768.45 L767.12,1768.34 L770.06,1768.23 L772.99,1768.13 L775.93,1768.02 L778.86,1767.92 L781.80,1767.82 L784.74,1767.71 L787.67,1767.61 L790.61,1767.50 L793.54,1767.40 L796.48,1767.29 L799.41,1767.19 L802.35,1767.08 L805.28,1766.98 L808.22,1766.87 L811.16,1766.77 L814.09,1766.67 L817.03,1766.56 L819.96,1766.46 L822.90,1766.35 L825.83,1766.25 L828.77,1766.15 L831.71,1766.04 L834.64,1765.94 L837.58,1765.83 L840.51,1765.73 L843.45,1765.63 L846.38,1765.52 L849.32,1765.42 L852.26,1765.32 L855.19,1765.21 L858.13,1765.11 L861.06,1765.01 L864.00,1764.90 L866.93,1764.80 L869.87,1764.70 L872.80,1764.59 L875.74,1764.49 L878.68,1764.39 L881.61,1764.29 L884.55,1764.18 L887.48,1764.08 L890.42,1763.98 L893.35,1763.87 L896.29,1763.77 L899.23,1763.67 L902.16,1763.57 L905.10,1763.46 L908.03,1763.36 L910.97,1763.26 L913.90,1763.16 L916.84,1763.06 L919.77,1762.95 L922.71,1762.85 L925.65,1762.75 L928.58,1762.65 L931.52,1762.55 L934.45,1762.44 L937.39,1762.34 L940.32,1762.24 L943.26,1762.14 L946.20,1762.04 L949.13,1761.94 L952.07,1761.83 L955.00,1761.73 L957.94,1761.63 L960.87,1761.53 L963.81,1761.43 L966.75,1761.33 L969.68,1761.23 L972.62,1761.13 L975.55,1761.03 L978.49,1760.92 L981.42,1760.82 L984.36,1760.72 L987.29,1760.62 L990.23,1760.52 L993.17,1760.42 L996.10,1760.32 L999.04,1760.22 L1001.97,1760.12 L1004.91,1760.02 L1007.84,1759.92 L1010.78,1759.82 L1013.72,1759.72 L1016.65,1759.62 L1019.59,1759.52 L1022.52,1759.42 L1025.46,1759.32 L1028.39,1759.22 L1031.33,1759.12 L1034.26,1759.02 L1037.20,1758.92 L1040.14,1758.82 L1043.07,1758.72 L1046.01,1758.62 L1048.94,1758.52 L1051.88,1758.42 L1054.81,1758.32 L1057.75,1758.22 L1060.69,1758.12 L1063.62,1758.02 L1066.56,1757.92 L1069.49,1757.83 L1072.43,1757.73 L1075.36,1757.63 L1078.30,1757.53 L1081.24,1757.43 L1084.17,1757.33 L1087.11,1757.23 L1090.04,1757.13 L1092.98,1757.03 L1095.91,1756.94 L1098.85,1756.84 L1101.78,1756.74 L1104.72,1756.64 L1107.66,1756.54 L1110.59,1756.44 L1113.53,1756.35 L1116.46,1756.25 L1119.40,1756.15 L1122.33,1756.05 L1125.27,1755.95 L1128.21,1755.86 L1131.14,1755.76 L1134.08,1755.66 L1137.01,1755.56 L1139.95,1755.46 L1142.88,1755.37 L1145.82,1755.27 L1148.75,1755.17 L1151.69,1755.07 L1154.63,1754.98 L1157.56,1754.88 L1160.50,1754.78 L1163.43,1754.69 L1166.37,1754.59 L1169.30,1754.49 L1172.24,1754.39 L1175.18,1754.30 L1178.11,1754.20 L1181.05,1754.10 L1183.98,1754.01 L1186.92,1753.91 L1189.85,1753.81 L1192.79,1753.72 L1195.72,1753.62 L1198.66,1753.52 L1201.60,1753.43 L1204.53,1753.33 L1207.47,1753.23 L1210.40,1753.14 L1213.34,1753.04 L1216.27,1752.95 L1219.21,1752.85 L1222.15,1752.75 L1225.08,1752.66 L1228.02,1752.56 L1230.95,1752.47 L1233.89,1752.37 L1236.82,1752.28 L1239.76,1752.18 L1242.70,1752.08 L1245.63,1751.99 L1248.57,1751.89 L1251.50,1751.80 L1254.44,1751.70 L1257.37,1751.61 L1260.31,1751.51 L1263.24,1751.42 L1266.18,1751.32 L1269.12,1751.23 L1272.05,1751.13 L1274.99,1751.04 L1277.92,1750.94 L1280.86,1750.85 L1283.79,1750.75 L1286.73,1750.66 L1289.67,1750.56 L1292.60,1750.47 L1295.54,1750.37 L1298.47,1750.28 L1301.41,1750.18 L1304.34,1750.09 L1307.28,1750.00 L1310.21,1749.90 L1313.15,1749.81 L1316.09,1749.71 L1319.02,1749.62 L1321.96,1749.52 L1324.89,1749.43 L1327.83,1749.34 L1330.76,1749.24 L1333.70,1749.15" fill="none" stroke="#4d6fb0" stroke-width="2.3" stroke-linejoin="round"/>
<path d="M143.50,1792.00 L143.82,1792.00 L144.14,1792.00 L144.46,1791.99 L144.78,1791.99 L145.10,1791.99 L145.42,1791.99 L145.74,1791.99 L146.06,1791.98 L146.38,1791.98 L146.70,1791.98 L147.02,1791.98 L147.34,1791.98 L147.66,1791.97 L147.98,1791.97 L148.30,1791.97 L148.62,1791.97 L148.94,1791.97 L149.26,1791.96 L149.58,1791.96 L149.90,1791.96 L150.22,1791.96 L150.54,1791.96 L150.86,1791.95 L151.18,1791.95 L151.50,1791.95 L151.82,1791.95 L152.14,1791.95 L152.46,1791.94 L152.78,1791.94 L153.10,1791.94 L153.42,1791.94 L153.74,1791.94 L154.06,1791.93 L154.38,1791.93 L154.70,1791.93 L155.02,1791.93 L155.34,1791.93 L155.66,1791.92 L155.98,1791.92 L156.30,1791.92 L156.62,1791.92 L156.94,1791.92 L157.26,1791.91 L157.58,1791.91 L157.90,1791.91 L158.22,1791.91 L158.54,1791.91 L158.86,1791.90 L159.18,1791.90 L159.50,1791.90 L159.82,1791.90 L160.14,1791.90 L160.46,1791.89 L160.78,1791.89 L161.10,1791.89 L161.42,1791.89 L161.74,1791.89 L162.06,1791.88 L162.38,1791.88 L162.38,1791.88 L165.32,1791.86 L168.25,1791.85 L171.19,1791.83 L174.12,1791.81 L177.06,1791.79 L179.99,1791.77 L182.93,1791.76 L185.87,1791.74 L188.80,1791.72 L191.74,1791.70 L194.67,1791.68 L197.61,1791.66 L200.54,1791.65 L203.48,1791.63 L206.41,1791.61 L209.35,1791.59 L212.29,1791.57 L215.22,1791.55 L218.16,1791.54 L221.09,1791.52 L224.03,1791.50 L226.96,1791.48 L229.90,1791.46 L232.84,1791.45 L235.77,1791.43 L238.71,1791.41 L241.64,1791.39 L244.58,1791.37 L247.51,1791.35 L250.45,1791.34 L253.38,1791.32 L256.32,1791.30 L259.26,1791.28 L262.19,1791.26 L265.13,1791.24 L268.06,1791.23 L271.00,1791.21 L273.93,1791.19 L276.87,1791.17 L279.81,1791.15 L282.74,1791.14 L285.68,1791.12 L288.61,1791.10 L291.55,1791.08 L294.48,1791.06 L297.42,1791.04 L300.36,1791.03 L303.29,1791.01 L306.23,1790.99 L309.16,1790.97 L312.10,1790.95 L315.03,1790.93 L317.97,1790.92 L320.90,1790.90 L323.84,1790.88 L326.78,1790.86 L329.71,1790.84 L332.65,1790.83 L335.58,1790.81 L338.52,1790.79 L341.45,1790.77 L344.39,1790.75 L347.33,1790.73 L350.26,1790.72 L353.20,1790.70 L356.13,1790.68 L359.07,1790.66 L362.00,1790.64 L364.94,1790.62 L367.87,1790.61 L370.81,1790.59 L373.75,1790.57 L376.68,1790.55 L379.62,1790.53 L382.55,1790.52 L385.49,1790.50 L388.42,1790.48 L391.36,1790.46 L394.30,1790.44 L397.23,1790.42 L400.17,1790.41 L403.10,1790.39 L406.04,1790.37 L408.97,1790.35 L411.91,1790.33 L414.84,1790.31 L417.78,1790.30 L420.72,1790.28 L423.65,1790.26 L426.59,1790.24 L429.52,1790.22 L432.46,1790.21 L435.39,1790.19 L438.33,1790.17 L441.27,1790.15 L444.20,1790.13 L447.14,1790.11 L450.07,1790.10 L453.01,1790.08 L455.94,1790.06 L458.88,1790.04 L461.82,1790.02 L464.75,1790.00 L467.69,1789.99 L470.62,1789.97 L473.56,1789.95 L476.49,1789.93 L479.43,1789.91 L482.36,1789.90 L485.30,1789.88 L488.24,1789.86 L491.17,1789.84 L494.11,1789.82 L497.04,1789.80 L499.98,1789.79 L502.91,1789.77 L505.85,1789.75 L508.79,1789.73 L511.72,1789.71 L514.66,1789.70 L517.59,1789.68 L520.53,1789.66 L523.46,1789.64 L526.40,1789.62 L529.33,1789.60 L532.27,1789.59 L535.21,1789.57 L538.14,1789.55 L541.08,1789.53 L544.01,1789.51 L546.95,1789.49 L549.88,1789.48 L552.82,1789.46 L555.76,1789.44 L558.69,1789.42 L561.63,1789.40 L564.56,1789.39 L567.50,1789.37 L570.43,1789.35 L573.37,1789.33 L576.31,1789.31 L579.24,1789.29 L582.18,1789.28 L585.11,1789.26 L588.05,1789.24 L590.98,1789.22 L593.92,1789.20 L596.85,1789.18 L599.79,1789.17 L602.73,1789.15 L605.66,1789.13 L608.60,1789.11 L611.53,1789.09 L614.47,1789.08 L617.40,1789.06 L620.34,1789.04 L623.28,1789.02 L626.21,1789.00 L629.15,1788.98 L632.08,1788.97 L635.02,1788.95 L637.95,1788.93 L640.89,1788.91 L643.82,1788.89 L646.76,1788.87 L649.70,1788.86 L652.63,1788.84 L655.57,1788.82 L658.50,1788.80 L661.44,1788.78 L664.37,1788.77 L667.31,1788.75 L670.25,1788.73 L673.18,1788.71 L676.12,1788.69 L679.05,1788.67 L681.99,1788.66 L684.92,1788.64 L687.86,1788.62 L690.80,1788.60 L693.73,1788.58 L696.67,1788.56 L699.60,1788.55 L702.54,1788.53 L705.47,1788.51 L708.41,1788.49 L711.34,1788.47 L714.28,1788.46 L717.22,1788.44 L720.15,1788.42 L723.09,1788.40 L726.02,1788.38 L728.96,1788.36 L731.89,1788.35 L734.83,1788.33 L737.77,1788.31 L740.70,1788.29 L743.64,1788.27 L746.57,1788.25 L749.51,1788.24 L752.44,1788.22 L755.38,1788.20 L758.31,1788.18 L761.25,1788.16 L764.19,1788.15 L767.12,1788.13 L770.06,1788.11 L772.99,1788.09 L775.93,1788.07 L778.86,1788.05 L781.80,1788.04 L784.74,1788.02 L787.67,1788.00 L790.61,1787.98 L793.54,1787.96 L796.48,1787.94 L799.41,1787.93 L802.35,1787.91 L805.28,1787.89 L808.22,1787.87 L811.16,1787.85 L814.09,1787.84 L817.03,1787.82 L819.96,1787.80 L822.90,1787.78 L825.83,1787.76 L828.77,1787.74 L831.71,1787.73 L834.64,1787.71 L837.58,1787.69 L840.51,1787.67 L843.45,1787.65 L846.38,1787.63 L849.32,1787.62 L852.26,1787.60 L855.19,1787.58 L858.13,1787.56 L861.06,1787.54 L864.00,1787.53 L866.93,1787.51 L869.87,1787.49 L872.80,1787.47 L875.74,1787.45 L878.68,1787.43 L881.61,1787.42 L884.55,1787.40 L887.48,1787.38 L890.42,1787.36 L893.35,1787.34 L896.29,1787.32 L899.23,1787.31 L902.16,1787.29 L905.10,1787.27 L908.03,1787.25 L910.97,1787.23 L913.90,1787.22 L916.84,1787.20 L919.77,1787.18 L922.71,1787.16 L925.65,1787.14 L928.58,1787.12 L931.52,1787.11 L934.45,1787.09 L937.39,1787.07 L940.32,1787.05 L943.26,1787.03 L946.20,1787.02 L949.13,1787.00 L952.07,1786.98 L955.00,1786.96 L957.94,1786.94 L960.87,1786.92 L963.81,1786.91 L966.75,1786.89 L969.68,1786.87 L972.62,1786.85 L975.55,1786.83 L978.49,1786.81 L981.42,1786.80 L984.36,1786.78 L987.29,1786.76 L990.23,1786.74 L993.17,1786.72 L996.10,1786.71 L999.04,1786.69 L1001.97,1786.67 L1004.91,1786.65 L1007.84,1786.63 L1010.78,1786.61 L1013.72,1786.60 L1016.65,1786.58 L1019.59,1786.56 L1022.52,1786.54 L1025.46,1786.52 L1028.39,1786.50 L1031.33,1786.49 L1034.26,1786.47 L1037.20,1786.45 L1040.14,1786.43 L1043.07,1786.41 L1046.01,1786.40 L1048.94,1786.38 L1051.88,1786.36 L1054.81,1786.34 L1057.75,1786.32 L1060.69,1786.30 L1063.62,1786.29 L1066.56,1786.27 L1069.49,1786.25 L1072.43,1786.23 L1075.36,1786.21 L1078.30,1786.19 L1081.24,1786.18 L1084.17,1786.16 L1087.11,1786.14 L1090.04,1786.12 L1092.98,1786.10 L1095.91,1786.09 L1098.85,1786.07 L1101.78,1786.05 L1104.72,1786.03 L1107.66,1786.01 L1110.59,1785.99 L1113.53,1785.98 L1116.46,1785.96 L1119.40,1785.94 L1122.33,1785.92 L1125.27,1785.90 L1128.21,1785.88 L1131.14,1785.87 L1134.08,1785.85 L1137.01,1785.83 L1139.95,1785.81 L1142.88,1785.79 L1145.82,1785.78 L1148.75,1785.76 L1151.69,1785.74 L1154.63,1785.72 L1157.56,1785.70 L1160.50,1785.68 L1163.43,1785.67 L1166.37,1785.65 L1169.30,1785.63 L1172.24,1785.61 L1175.18,1785.59 L1178.11,1785.57 L1181.05,1785.56 L1183.98,1785.54 L1186.92,1785.52 L1189.85,1785.50 L1192.79,1785.48 L1195.72,1785.47 L1198.66,1785.45 L1201.60,1785.43 L1204.53,1785.41 L1207.47,1785.39 L1210.40,1785.37 L1213.34,1785.36 L1216.27,1785.34 L1219.21,1785.32 L1222.15,1785.30 L1225.08,1785.28 L1228.02,1785.26 L1230.95,1785.25 L1233.89,1785.23 L1236.82,1785.21 L1239.76,1785.19 L1242.70,1785.17 L1245.63,1785.16 L1248.57,1785.14 L1251.50,1785.12 L1254.44,1785.10 L1257.37,1785.08 L1260.31,1785.06 L1263.24,1785.05 L1266.18,1785.03 L1269.12,1785.01 L1272.05,1784.99 L1274.99,1784.97 L1277.92,1784.95 L1280.86,1784.94 L1283.79,1784.92 L1286.73,1784.90 L1289.67,1784.88 L1292.60,1784.86 L1295.54,1784.85 L1298.47,1784.83 L1301.41,1784.81 L1304.34,1784.79 L1307.28,1784.77 L1310.21,1784.75 L1313.15,1784.74 L1316.09,1784.72 L1319.02,1784.70 L1321.96,1784.68 L1324.89,1784.66 L1327.83,1784.64 L1330.76,1784.63 L1333.70,1784.61" fill="none" stroke="#4d6fb0" stroke-width="2.3" stroke-linejoin="round"/>
<text stroke="#000" stroke-width="0.35" x="13.3" y="39.8" font-size="33" fill="#000" text-anchor="start" font-weight="bold" >A</text>
<text stroke="#000" stroke-width="0.35" x="14.2" y="968" font-size="33" fill="#000" text-anchor="start" font-weight="bold" >B</text>
<text stroke="#222222" stroke-width="0.35" x="594.5" y="49.4" font-size="35.3" fill="#222222">Time (x10<tspan font-size="21" dy="-12.3">9</tspan><tspan dy="12.3"> seconds)</tspan></text>
<text stroke="#222222" stroke-width="0.35" x="594.5" y="1868.8" font-size="35.3" fill="#222222">Time (x10<tspan font-size="21" dy="-12.3">9</tspan><tspan dy="12.3"> seconds)</tspan></text>
<text stroke="#222222" stroke-width="0.35" x="128.7" y="95.8" font-size="36.5" fill="#222222" text-anchor="middle" font-weight="normal" >0</text>
<text stroke="#222222" stroke-width="0.35" x="128.7" y="1826.2" font-size="36.5" fill="#222222" text-anchor="middle" font-weight="normal" >0</text>
<text stroke="#222222" stroke-width="0.35" x="329.8" y="95.8" font-size="36.5" fill="#222222" text-anchor="middle" font-weight="normal" >0.5</text>
<text stroke="#222222" stroke-width="0.35" x="329.8" y="1826.2" font-size="36.5" fill="#222222" text-anchor="middle" font-weight="normal" >0.5</text>
<text stroke="#222222" stroke-width="0.35" x="520.5" y="95.8" font-size="36.5" fill="#222222" text-anchor="middle" font-weight="normal" >1.0</text>
<text stroke="#222222" stroke-width="0.35" x="520.5" y="1826.2" font-size="36.5" fill="#222222" text-anchor="middle" font-weight="normal" >1.0</text>
<text stroke="#222222" stroke-width="0.35" x="711.0" y="95.8" font-size="36.5" fill="#222222" text-anchor="middle" font-weight="normal" >1.5</text>
<text stroke="#222222" stroke-width="0.35" x="711.0" y="1826.2" font-size="36.5" fill="#222222" text-anchor="middle" font-weight="normal" >1.5</text>
<text stroke="#222222" stroke-width="0.35" x="899.9" y="95.8" font-size="36.5" fill="#222222" text-anchor="middle" font-weight="normal" >2.0</text>
<text stroke="#222222" stroke-width="0.35" x="899.9" y="1826.2" font-size="36.5" fill="#222222" text-anchor="middle" font-weight="normal" >2.0</text>
<text stroke="#222222" stroke-width="0.35" x="1089.0" y="95.8" font-size="36.5" fill="#222222" text-anchor="middle" font-weight="normal" >2.5</text>
<text stroke="#222222" stroke-width="0.35" x="1089.0" y="1826.2" font-size="36.5" fill="#222222" text-anchor="middle" font-weight="normal" >2.5</text>
<text stroke="#222222" stroke-width="0.35" x="1277.1" y="95.8" font-size="36.5" fill="#222222" text-anchor="middle" font-weight="normal" >3.0</text>
<text stroke="#222222" stroke-width="0.35" x="1277.1" y="1826.2" font-size="36.5" fill="#222222" text-anchor="middle" font-weight="normal" >3.0</text>
<text stroke="#222222" stroke-width="0.35" x="138.5" y="796.5" font-size="36.5" fill="#222222" text-anchor="end" font-weight="normal" >200</text>
<text stroke="#222222" stroke-width="0.35" x="138.5" y="645.6" font-size="36.5" fill="#222222" text-anchor="end" font-weight="normal" >400</text>
<text stroke="#222222" stroke-width="0.35" x="138.5" y="494.6" font-size="36.5" fill="#222222" text-anchor="end" font-weight="normal" >600</text>
<text stroke="#222222" stroke-width="0.35" x="138.5" y="343.7" font-size="36.5" fill="#222222" text-anchor="end" font-weight="normal" >800</text>
<text stroke="#222222" stroke-width="0.35" x="138.5" y="192.8" font-size="36.5" fill="#222222" text-anchor="end" font-weight="normal" >1000</text>
<text stroke="#222222" stroke-width="0.35" x="138.8" y="1664.3" font-size="36.5" fill="#222222" text-anchor="end" font-weight="normal" >100</text>
<text stroke="#222222" stroke-width="0.35" x="138.8" y="1525.9" font-size="36.5" fill="#222222" text-anchor="end" font-weight="normal" >200</text>
<text stroke="#222222" stroke-width="0.35" x="138.8" y="1387.6" font-size="36.5" fill="#222222" text-anchor="end" font-weight="normal" >300</text>
<text stroke="#222222" stroke-width="0.35" x="138.8" y="1249.3" font-size="36.5" fill="#222222" text-anchor="end" font-weight="normal" >400</text>
<text stroke="#222222" stroke-width="0.35" x="138.8" y="1110.9" font-size="36.5" fill="#222222" text-anchor="end" font-weight="normal" >500</text>
<text stroke="#222222" stroke-width="0.35" transform="translate(58.8,844.5) rotate(-90)" font-size="35" fill="#222222">kg CO<tspan font-size="22" dy="7">2</tspan><tspan dy="-7"> captured as alkanity for 1 t of mineral</tspan></text>
<text stroke="#222222" stroke-width="0.35" transform="translate(63,1772) rotate(-90)" font-size="35" fill="#222222">kg CO<tspan font-size="22" dy="7">2</tspan><tspan dy="-7"> captured as alkanity for 1 t of mine waste</tspan></text>
<text stroke="#222222" stroke-width="0.35" transform="translate(179,355.5) rotate(-90)" font-size="29.5" fill="#222222" text-anchor="start">1 year</text>
<text stroke="#222222" stroke-width="0.35" transform="translate(286.4,358.5) rotate(-90)" font-size="29.5" fill="#222222" text-anchor="start">10 years</text>
<text stroke="#222222" stroke-width="0.35" transform="translate(767,358.1) rotate(-90)" font-size="29.5" fill="#222222" text-anchor="start">50 years</text>
<text stroke="#222222" stroke-width="0.35" transform="translate(1361.4,358.8) rotate(-90)" font-size="29.5" fill="#222222" text-anchor="start">100 years</text>
<text stroke="#222222" stroke-width="0.35" transform="translate(180,1202) rotate(-90)" font-size="29.5" fill="#222222" text-anchor="start">1 year</text>
<text stroke="#222222" stroke-width="0.35" transform="translate(287.1,1203.8) rotate(-90)" font-size="29.5" fill="#222222" text-anchor="start">10 years</text>
<text stroke="#222222" stroke-width="0.35" transform="translate(767.8,1203.4) rotate(-90)" font-size="29.5" fill="#222222" text-anchor="start">50 years</text>
<text stroke="#222222" stroke-width="0.35" transform="translate(1361.5,1204.3) rotate(-90)" font-size="29.5" fill="#222222" text-anchor="start">100 years</text>
<text stroke="#538b56" stroke-width="0.35" x="1114" y="218.8" font-size="29.0" fill="#538b56">E<tspan font-size="23.8">pot</tspan> Forsterite</text>
<text stroke="#dc9540" stroke-width="0.35" x="1116.5" y="433.2" font-size="29.0" fill="#dc9540">E<tspan font-size="23.8">pot</tspan> Enstatite</text>
<text stroke="#4c68a3" stroke-width="0.35" x="1118.5" y="748.6" font-size="29.0" fill="#4c68a3">E<tspan font-size="23.8">pot</tspan> Anorthite</text>
<text stroke="#222" stroke-width="0.35" x="851.5" y="1020.9" font-size="29.5" fill="#222">E<tspan font-size="26.6">pot</tspan> Hypothetical Mine Waste</text>
<text stroke="#538b56" stroke-width="0.35" x="373.6" y="302.6" font-size="29.0" fill="#538b56" text-anchor="start" font-weight="normal" >Forsterite</text>
<text stroke="#538b56" stroke-width="0.35" x="373.6" y="339.2" font-size="29.0" fill="#538b56" text-anchor="start" font-weight="normal" >50 µm</text>
<text stroke="#538b56" stroke-width="0.35" x="489.6" y="377.7" font-size="29.0" fill="#538b56" text-anchor="start" font-weight="normal" >Forsterite</text>
<text stroke="#538b56" stroke-width="0.35" x="490.2" y="411.3" font-size="29.0" fill="#538b56" text-anchor="start" font-weight="normal" >100 µm</text>
<text stroke="#538b56" stroke-width="0.35" x="607.4" y="628.4" font-size="29.0" fill="#538b56" text-anchor="start" font-weight="normal" >Forsterite</text>
<text stroke="#538b56" stroke-width="0.35" x="607.4" y="663.8" font-size="29.0" fill="#538b56" text-anchor="start" font-weight="normal" >500 µm</text>
<text stroke="#dc9540" stroke-width="0.35" x="866.3" y="857" font-size="29.0" fill="#dc9540" text-anchor="start" font-weight="normal" >Enstatite</text>
<text stroke="#dc9540" stroke-width="0.35" x="866.3" y="893.6" font-size="29.0" fill="#dc9540" text-anchor="start" font-weight="normal" >50 µm</text>
<text stroke="#dc9540" stroke-width="0.35" x="867.3" y="928" font-size="29.0" fill="#dc9540" text-anchor="start" font-weight="normal" >100 µm</text>
<text stroke="#4c68a3" stroke-width="0.35" x="1089.8" y="917.8" font-size="29.0" fill="#4c68a3" text-anchor="start" font-weight="normal" >Anorthite 50 &amp; 100 µm</text>
<text stroke="#538b56" stroke-width="0.35" x="297.1" y="1363" font-size="29.0" fill="#538b56" text-anchor="start" font-weight="normal" >Total Mine Waste,</text>
<text stroke="#538b56" stroke-width="0.35" x="297.1" y="1397" font-size="29.0" fill="#538b56" text-anchor="start" font-weight="normal" >pH 3.5</text>
<text stroke="#538b56" stroke-width="0.35" x="294.4" y="1519.4" font-size="29.0" fill="#538b56" text-anchor="start" font-weight="normal" >Forsterite, pH 3.5</text>
<text stroke="#538b56" stroke-width="0.35" x="428.0" y="1662.2" font-size="29.0" fill="#538b56" text-anchor="start" font-weight="normal" >Anorthite, pH 3.5</text>
<text stroke="#538b56" stroke-width="0.35" x="471.1" y="1727.3" font-size="29.0" fill="#538b56" text-anchor="start" font-weight="normal" >Enstatite,</text>
<text stroke="#538b56" stroke-width="0.35" x="506.0" y="1760.4" font-size="29.0" fill="#538b56" text-anchor="start" font-weight="normal" >pH 3.5</text>
<text stroke="#4c68a3" stroke-width="0.35" x="1295.2" y="1478.9" font-size="29.0" fill="#4c68a3" text-anchor="end" font-weight="normal" >Total Mine Waste, pH ~7</text>
<text stroke="#4c68a3" stroke-width="0.35" x="1295.2" y="1564.7" font-size="29.0" fill="#4c68a3" text-anchor="end" font-weight="normal" >Forsterite, pH ~7</text>
<text stroke="#4c68a3" stroke-width="0.35" x="1295.8" y="1741.8" font-size="29.0" fill="#4c68a3" text-anchor="end" font-weight="normal" >Enstatite, pH ~7</text>
<text stroke="#4c68a3" stroke-width="0.35" x="1294.3" y="1780.5" font-size="29.0" fill="#4c68a3" text-anchor="end" font-weight="normal" >Anorthite, pH ~7</text>
</svg>
</body></html>
